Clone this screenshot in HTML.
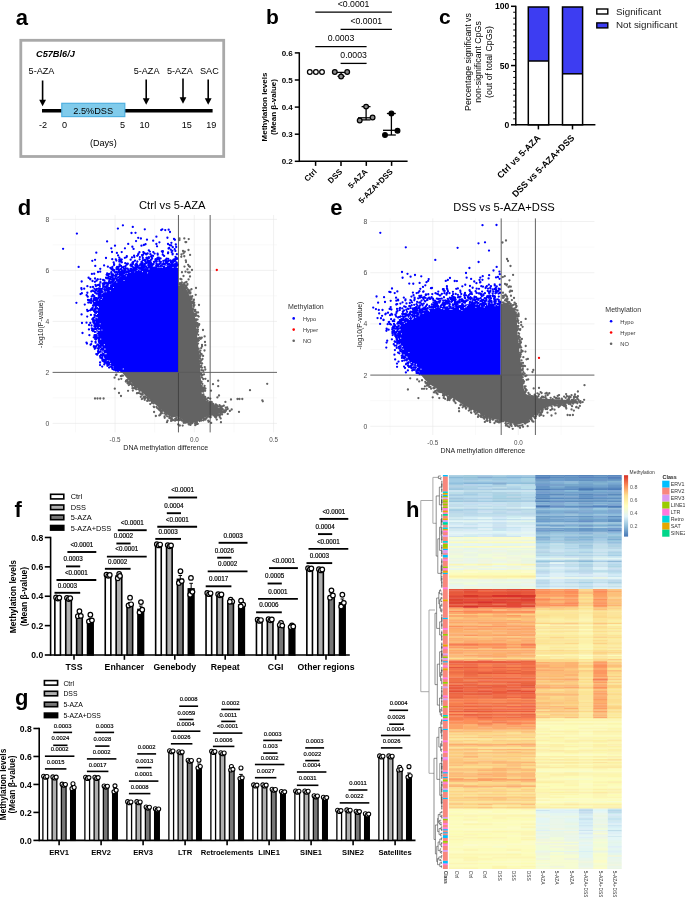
<!DOCTYPE html>
<html><head><meta charset="utf-8"><style>
html,body{margin:0;padding:0;background:#fff;}
body{width:685px;height:897px;overflow:hidden;}
svg{display:block;font-family:"Liberation Sans",sans-serif;will-change:transform;}
</style></head><body>
<svg width="685" height="897" viewBox="0 0 685 897">
<text x="15.8" y="24.5" font-size="22" font-weight="bold">a</text>
<rect x="20.8" y="40.3" width="202.9" height="116.2" fill="none" stroke="#a9a9a9" stroke-width="2.8"/>
<text x="36" y="57.2" font-size="9.2" font-weight="bold" font-style="italic">C57Bl6/J</text>
<text x="28.6" y="74.3" font-size="9.1">5-AZA</text>
<text x="133.7" y="74.3" font-size="9.1">5-AZA</text>
<text x="167" y="74.3" font-size="9.1">5-AZA</text>
<text x="200" y="74.3" font-size="9.1">SAC</text>
<line x1="42.6" y1="80.5" x2="42.6" y2="100.8" stroke="#000" stroke-width="1.6"/>
<path d="M39.2 99.8L46 99.8L42.6 106.3Z" fill="#000"/>
<line x1="146.2" y1="79.6" x2="146.2" y2="99.2" stroke="#000" stroke-width="1.6"/>
<path d="M142.8 98.2L149.6 98.2L146.2 104.7Z" fill="#000"/>
<line x1="183" y1="78.6" x2="183" y2="98.3" stroke="#000" stroke-width="1.6"/>
<path d="M179.6 97.3L186.4 97.3L183 103.8Z" fill="#000"/>
<line x1="208.2" y1="79.6" x2="208.2" y2="99.2" stroke="#000" stroke-width="1.6"/>
<path d="M204.8 98.2L211.6 98.2L208.2 104.7Z" fill="#000"/>
<line x1="42" y1="110.8" x2="212.6" y2="110.8" stroke="#000" stroke-width="3.6"/>
<rect x="61.8" y="103.3" width="63" height="13.3" fill="#80cbeb" stroke="#4fb0e0" stroke-width="1.2"/>
<text x="93.2" y="113.5" font-size="9.2" text-anchor="middle">2.5%DSS</text>
<text x="43" y="128.2" font-size="9.1" text-anchor="middle">-2</text>
<text x="64.5" y="128.2" font-size="9.1" text-anchor="middle">0</text>
<text x="122.5" y="128.2" font-size="9.1" text-anchor="middle">5</text>
<text x="144.5" y="128.2" font-size="9.1" text-anchor="middle">10</text>
<text x="186.8" y="128.2" font-size="9.1" text-anchor="middle">15</text>
<text x="211.3" y="128.2" font-size="9.1" text-anchor="middle">19</text>
<text x="103.3" y="146" font-size="9.1" text-anchor="middle">(Days)</text>
<text x="266" y="24.1" font-size="21" font-weight="bold">b</text>
<line x1="299.3" y1="52.3" x2="299.3" y2="162.05" stroke="#000" stroke-width="1.5"/>
<line x1="299.3" y1="161.3" x2="407.6" y2="161.3" stroke="#000" stroke-width="1.5"/>
<line x1="294.8" y1="161.3" x2="299.3" y2="161.3" stroke="#000" stroke-width="1.5"/>
<text x="292.8" y="164.2" font-size="8" font-weight="bold" text-anchor="end">0.2</text>
<line x1="294.8" y1="134.2" x2="299.3" y2="134.2" stroke="#000" stroke-width="1.5"/>
<text x="292.8" y="137.1" font-size="8" font-weight="bold" text-anchor="end">0.3</text>
<line x1="294.8" y1="107.1" x2="299.3" y2="107.1" stroke="#000" stroke-width="1.5"/>
<text x="292.8" y="110" font-size="8" font-weight="bold" text-anchor="end">0.4</text>
<line x1="294.8" y1="80" x2="299.3" y2="80" stroke="#000" stroke-width="1.5"/>
<text x="292.8" y="82.9" font-size="8" font-weight="bold" text-anchor="end">0.5</text>
<line x1="294.8" y1="52.9" x2="299.3" y2="52.9" stroke="#000" stroke-width="1.5"/>
<text x="292.8" y="55.8" font-size="8" font-weight="bold" text-anchor="end">0.6</text>
<line x1="315.6" y1="161.3" x2="315.6" y2="165.9" stroke="#000" stroke-width="1.5"/>
<line x1="341" y1="161.3" x2="341" y2="165.9" stroke="#000" stroke-width="1.5"/>
<line x1="366.3" y1="161.3" x2="366.3" y2="165.9" stroke="#000" stroke-width="1.5"/>
<line x1="391.6" y1="161.3" x2="391.6" y2="165.9" stroke="#000" stroke-width="1.5"/>
<text x="267" y="107" font-size="8" font-weight="bold" text-anchor="middle" transform="rotate(-90 267 107)">Methylation levels</text>
<text x="276" y="107" font-size="8" font-weight="bold" text-anchor="middle" transform="rotate(-90 276 107)">(Mean β-value)</text>
<text x="317.3" y="172.3" font-size="8" font-weight="bold" text-anchor="end" transform="rotate(-45 317.3 172.3)">Ctrl</text>
<text x="342.7" y="172.3" font-size="8" font-weight="bold" text-anchor="end" transform="rotate(-45 342.7 172.3)">DSS</text>
<text x="368" y="172.3" font-size="8" font-weight="bold" text-anchor="end" transform="rotate(-45 368 172.3)">5-AZA</text>
<text x="393.3" y="172.3" font-size="8" font-weight="bold" text-anchor="end" transform="rotate(-45 393.3 172.3)">5-AZA+DSS</text>
<line x1="315.3" y1="12.2" x2="391.9" y2="12.2" stroke="#000" stroke-width="1.3"/>
<text x="353.6" y="6.6" font-size="8.7" text-anchor="middle"><0.0001</text>
<line x1="340.6" y1="29.3" x2="391.9" y2="29.3" stroke="#000" stroke-width="1.3"/>
<text x="366.25" y="23.7" font-size="8.7" text-anchor="middle"><0.0001</text>
<line x1="315.3" y1="46.6" x2="366.6" y2="46.6" stroke="#000" stroke-width="1.3"/>
<text x="340.95" y="41" font-size="8.7" text-anchor="middle">0.0003</text>
<line x1="340.6" y1="63.4" x2="366.6" y2="63.4" stroke="#000" stroke-width="1.3"/>
<text x="353.6" y="57.8" font-size="8.7" text-anchor="middle">0.0003</text>
<circle cx="309.8" cy="72" r="2.35" fill="#fff" stroke="#000" stroke-width="1.25"/>
<circle cx="315.9" cy="72" r="2.35" fill="#fff" stroke="#000" stroke-width="1.25"/>
<circle cx="322" cy="72" r="2.35" fill="#fff" stroke="#000" stroke-width="1.25"/>
<line x1="336.5" y1="72.4" x2="345.6" y2="72.4" stroke="#000" stroke-width="1.3"/>
<line x1="341.1" y1="72" x2="341.1" y2="76.4" stroke="#000" stroke-width="1.3"/>
<line x1="337.5" y1="76.3" x2="344.7" y2="76.3" stroke="#000" stroke-width="1.3"/>
<circle cx="334.8" cy="72" r="2.35" fill="#8c8c8c" stroke="#000" stroke-width="1.25"/>
<circle cx="347.2" cy="72" r="2.35" fill="#8c8c8c" stroke="#000" stroke-width="1.25"/>
<circle cx="341.1" cy="76.4" r="2.35" fill="#8c8c8c" stroke="#000" stroke-width="1.25"/>
<line x1="366.1" y1="106.6" x2="366.1" y2="119.9" stroke="#000" stroke-width="1.3"/>
<line x1="361.6" y1="106.6" x2="370.5" y2="106.6" stroke="#000" stroke-width="1.3"/>
<line x1="358" y1="117.8" x2="372" y2="117.8" stroke="#000" stroke-width="1.3"/>
<line x1="361.6" y1="119.9" x2="370.5" y2="119.9" stroke="#000" stroke-width="1.3"/>
<circle cx="359.7" cy="120.5" r="2.35" fill="#8c8c8c" stroke="#000" stroke-width="1.25"/>
<circle cx="366.1" cy="106.6" r="2.35" fill="#8c8c8c" stroke="#000" stroke-width="1.25"/>
<circle cx="372.6" cy="117.5" r="2.35" fill="#8c8c8c" stroke="#000" stroke-width="1.25"/>
<line x1="391.4" y1="113.5" x2="391.4" y2="135" stroke="#000" stroke-width="1.3"/>
<line x1="386.9" y1="113.5" x2="395.8" y2="113.5" stroke="#000" stroke-width="1.3"/>
<line x1="383" y1="130.3" x2="396" y2="130.3" stroke="#000" stroke-width="1.3"/>
<line x1="387.3" y1="135" x2="395.8" y2="135" stroke="#000" stroke-width="1.3"/>
<circle cx="385" cy="135" r="2.35" fill="#000" stroke="#000" stroke-width="1.25"/>
<circle cx="391.4" cy="113.5" r="2.35" fill="#000" stroke="#000" stroke-width="1.25"/>
<circle cx="397.5" cy="130.7" r="2.35" fill="#000" stroke="#000" stroke-width="1.25"/>
<text x="439" y="24.4" font-size="21" font-weight="bold">c</text>
<line x1="515.8" y1="5.8" x2="515.8" y2="125.5" stroke="#000" stroke-width="1.5"/>
<line x1="515.8" y1="124.8" x2="595.4" y2="124.8" stroke="#000" stroke-width="1.5"/>
<line x1="511" y1="124.8" x2="515.8" y2="124.8" stroke="#000" stroke-width="1.5"/>
<line x1="513.2" y1="118.88" x2="515.8" y2="118.88" stroke="#000" stroke-width="1"/>
<line x1="513.2" y1="112.95" x2="515.8" y2="112.95" stroke="#000" stroke-width="1"/>
<line x1="513.2" y1="107.03" x2="515.8" y2="107.03" stroke="#000" stroke-width="1"/>
<line x1="513.2" y1="101.1" x2="515.8" y2="101.1" stroke="#000" stroke-width="1"/>
<line x1="513.2" y1="95.17" x2="515.8" y2="95.17" stroke="#000" stroke-width="1"/>
<line x1="513.2" y1="89.25" x2="515.8" y2="89.25" stroke="#000" stroke-width="1"/>
<line x1="513.2" y1="83.32" x2="515.8" y2="83.32" stroke="#000" stroke-width="1"/>
<line x1="513.2" y1="77.4" x2="515.8" y2="77.4" stroke="#000" stroke-width="1"/>
<line x1="513.2" y1="71.47" x2="515.8" y2="71.47" stroke="#000" stroke-width="1"/>
<line x1="511" y1="65.55" x2="515.8" y2="65.55" stroke="#000" stroke-width="1.5"/>
<line x1="513.2" y1="59.62" x2="515.8" y2="59.62" stroke="#000" stroke-width="1"/>
<line x1="513.2" y1="53.7" x2="515.8" y2="53.7" stroke="#000" stroke-width="1"/>
<line x1="513.2" y1="47.77" x2="515.8" y2="47.77" stroke="#000" stroke-width="1"/>
<line x1="513.2" y1="41.85" x2="515.8" y2="41.85" stroke="#000" stroke-width="1"/>
<line x1="513.2" y1="35.92" x2="515.8" y2="35.92" stroke="#000" stroke-width="1"/>
<line x1="513.2" y1="30" x2="515.8" y2="30" stroke="#000" stroke-width="1"/>
<line x1="513.2" y1="24.08" x2="515.8" y2="24.08" stroke="#000" stroke-width="1"/>
<line x1="513.2" y1="18.15" x2="515.8" y2="18.15" stroke="#000" stroke-width="1"/>
<line x1="513.2" y1="12.22" x2="515.8" y2="12.22" stroke="#000" stroke-width="1"/>
<line x1="511" y1="6.3" x2="515.8" y2="6.3" stroke="#000" stroke-width="1.5"/>
<text x="509.3" y="9.3" font-size="8.6" font-weight="bold" text-anchor="end">100</text>
<text x="509.3" y="68.55" font-size="8.6" font-weight="bold" text-anchor="end">50</text>
<text x="509.3" y="127.8" font-size="8.6" font-weight="bold" text-anchor="end">0</text>
<text x="470.8" y="62" font-size="8.8" text-anchor="middle" transform="rotate(-90 470.8 62)">Percentage significant vs</text>
<text x="481.4" y="62" font-size="8.8" text-anchor="middle" transform="rotate(-90 481.4 62)">non-significant CpGs</text>
<text x="492" y="62" font-size="8.8" text-anchor="middle" transform="rotate(-90 492 62)">(out of total CpGs)</text>
<rect x="528.3" y="7" width="20.4" height="54" fill="#3d3df2"/>
<rect x="528.3" y="61" width="20.4" height="63.8" fill="#fff"/>
<rect x="528.3" y="7" width="20.4" height="117.8" fill="none" stroke="#000" stroke-width="1.5"/>
<line x1="528.3" y1="61" x2="548.7" y2="61" stroke="#000" stroke-width="1.5"/>
<rect x="562.5" y="7" width="20.1" height="66.8" fill="#3d3df2"/>
<rect x="562.5" y="73.8" width="20.1" height="51" fill="#fff"/>
<rect x="562.5" y="7" width="20.1" height="117.8" fill="none" stroke="#000" stroke-width="1.5"/>
<line x1="562.5" y1="73.8" x2="582.6" y2="73.8" stroke="#000" stroke-width="1.5"/>
<line x1="538.4" y1="124.8" x2="538.4" y2="129.4" stroke="#000" stroke-width="1.5"/>
<line x1="572.5" y1="124.8" x2="572.5" y2="129.4" stroke="#000" stroke-width="1.5"/>
<text x="541" y="138.6" font-size="9" font-weight="bold" text-anchor="end" transform="rotate(-45 541 138.6)">Ctrl vs 5-AZA</text>
<text x="574.9" y="138.6" font-size="9" font-weight="bold" text-anchor="end" transform="rotate(-45 574.9 138.6)">DSS vs 5-AZA+DSS</text>
<rect x="596.8" y="9" width="11" height="5" fill="#fff" stroke="#000" stroke-width="1.4"/>
<rect x="596.8" y="22.9" width="11" height="5" fill="#3d3df2" stroke="#000" stroke-width="1.4"/>
<text x="616" y="14.7" font-size="9.8" fill="#222">Significant</text>
<text x="616" y="28.3" font-size="9.8" fill="#222">Not significant</text>
<text x="14.6" y="516.6" font-size="22" font-weight="bold">f</text>
<rect x="50.6" y="494.3" width="13.2" height="4.6" fill="#ffffff" stroke="#000" stroke-width="1.6"/>
<text x="70.7" y="499.3" font-size="7.4">Ctrl</text>
<rect x="50.6" y="505" width="13.2" height="4.6" fill="#afafaf" stroke="#000" stroke-width="1.6"/>
<text x="70.7" y="510" font-size="7.4">DSS</text>
<rect x="50.6" y="515.1" width="13.2" height="4.6" fill="#767676" stroke="#000" stroke-width="1.6"/>
<text x="70.7" y="520.1" font-size="7.4">5-AZA</text>
<rect x="50.6" y="525.5" width="13.2" height="4.6" fill="#000000" stroke="#000" stroke-width="1.6"/>
<text x="70.7" y="530.5" font-size="7.4">5-AZA+DSS</text>
<line x1="50.6" y1="536.78" x2="50.6" y2="655.8" stroke="#000" stroke-width="1.6"/>
<line x1="50.6" y1="655" x2="349.8" y2="655" stroke="#000" stroke-width="1.6"/>
<line x1="44.8" y1="655" x2="50.6" y2="655" stroke="#000" stroke-width="1.6"/>
<text x="43.2" y="658.1" font-size="8.6" font-weight="bold" text-anchor="end">0.0</text>
<line x1="44.8" y1="625.62" x2="50.6" y2="625.62" stroke="#000" stroke-width="1.6"/>
<text x="43.2" y="628.72" font-size="8.6" font-weight="bold" text-anchor="end">0.2</text>
<line x1="44.8" y1="596.24" x2="50.6" y2="596.24" stroke="#000" stroke-width="1.6"/>
<text x="43.2" y="599.34" font-size="8.6" font-weight="bold" text-anchor="end">0.4</text>
<line x1="44.8" y1="566.86" x2="50.6" y2="566.86" stroke="#000" stroke-width="1.6"/>
<text x="43.2" y="569.96" font-size="8.6" font-weight="bold" text-anchor="end">0.6</text>
<line x1="44.8" y1="537.48" x2="50.6" y2="537.48" stroke="#000" stroke-width="1.6"/>
<text x="43.2" y="540.58" font-size="8.6" font-weight="bold" text-anchor="end">0.8</text>
<text x="16" y="596.6" font-size="8.5" font-weight="bold" text-anchor="middle" transform="rotate(-90 16 596.6)">Methylation levels</text>
<text x="26.7" y="596.6" font-size="8.5" font-weight="bold" text-anchor="middle" transform="rotate(-90 26.7 596.6)">(Mean β-value)</text>
<line x1="74" y1="655" x2="74" y2="659.8" stroke="#000" stroke-width="1.6"/>
<text x="74" y="670.3" font-size="8.7" font-weight="bold" text-anchor="middle">TSS</text>
<rect x="54.85" y="598" width="5.6" height="57" fill="#ffffff" stroke="#000" stroke-width="1.6"/>
<rect x="65.75" y="598.44" width="5.6" height="56.56" fill="#afafaf" stroke="#000" stroke-width="1.6"/>
<rect x="76.65" y="616.51" width="5.6" height="38.49" fill="#767676" stroke="#000" stroke-width="1.6"/>
<rect x="87.55" y="620.63" width="5.6" height="34.37" fill="#000000" stroke="#000" stroke-width="1.6"/>
<circle cx="56.05" cy="597.42" r="2.3" fill="#fff" stroke="#000" stroke-width="1.2"/>
<circle cx="57.85" cy="598.59" r="2.3" fill="#fff" stroke="#000" stroke-width="1.2"/>
<circle cx="59.35" cy="597.71" r="2.3" fill="#fff" stroke="#000" stroke-width="1.2"/>
<circle cx="66.95" cy="597.86" r="2.3" fill="#fff" stroke="#000" stroke-width="1.2"/>
<circle cx="68.75" cy="599.03" r="2.3" fill="#fff" stroke="#000" stroke-width="1.2"/>
<circle cx="70.25" cy="598.15" r="2.3" fill="#fff" stroke="#000" stroke-width="1.2"/>
<line x1="79.45" y1="616.51" x2="79.45" y2="614.86" stroke="#000" stroke-width="1"/>
<line x1="77.65" y1="614.86" x2="81.25" y2="614.86" stroke="#000" stroke-width="1"/>
<circle cx="79.45" cy="611.22" r="2.3" fill="#fff" stroke="#000" stroke-width="1.2"/>
<circle cx="77.85" cy="616.22" r="2.3" fill="#fff" stroke="#000" stroke-width="1.2"/>
<circle cx="80.85" cy="615.92" r="2.3" fill="#fff" stroke="#000" stroke-width="1.2"/>
<line x1="90.35" y1="620.63" x2="90.35" y2="618.4" stroke="#000" stroke-width="1"/>
<line x1="88.55" y1="618.4" x2="92.15" y2="618.4" stroke="#000" stroke-width="1"/>
<circle cx="90.35" cy="614.75" r="2.3" fill="#fff" stroke="#000" stroke-width="1.2"/>
<circle cx="88.95" cy="621.51" r="2.3" fill="#fff" stroke="#000" stroke-width="1.2"/>
<circle cx="91.95" cy="620.33" r="2.3" fill="#fff" stroke="#000" stroke-width="1.2"/>
<line x1="54.5" y1="592.8" x2="80.2" y2="592.8" stroke="#000" stroke-width="1.9"/>
<text x="67.35" y="587.6" font-size="6.3" text-anchor="middle" stroke="#000" stroke-width="0.18">0.0003</text>
<line x1="56.5" y1="580" x2="96.3" y2="580" stroke="#000" stroke-width="1.9"/>
<text x="76.4" y="574.8" font-size="6.3" text-anchor="middle" stroke="#000" stroke-width="0.18">&lt;0.0001</text>
<line x1="66" y1="566.4" x2="80.2" y2="566.4" stroke="#000" stroke-width="1.9"/>
<text x="73.1" y="561.2" font-size="6.3" text-anchor="middle" stroke="#000" stroke-width="0.18">0.0003</text>
<line x1="67.4" y1="552" x2="96.3" y2="552" stroke="#000" stroke-width="1.9"/>
<text x="81.85" y="546.8" font-size="6.3" text-anchor="middle" stroke="#000" stroke-width="0.18">&lt;0.0001</text>
<line x1="124.4" y1="655" x2="124.4" y2="659.8" stroke="#000" stroke-width="1.6"/>
<text x="124.4" y="670.3" font-size="8.7" font-weight="bold" text-anchor="middle">Enhancer</text>
<rect x="105.25" y="575.23" width="5.6" height="79.77" fill="#ffffff" stroke="#000" stroke-width="1.6"/>
<rect x="116.15" y="575.97" width="5.6" height="79.03" fill="#afafaf" stroke="#000" stroke-width="1.6"/>
<rect x="127.05" y="605.05" width="5.6" height="49.95" fill="#767676" stroke="#000" stroke-width="1.6"/>
<rect x="137.95" y="609.46" width="5.6" height="45.54" fill="#000000" stroke="#000" stroke-width="1.6"/>
<circle cx="106.45" cy="574.65" r="2.3" fill="#fff" stroke="#000" stroke-width="1.2"/>
<circle cx="108.25" cy="575.82" r="2.3" fill="#fff" stroke="#000" stroke-width="1.2"/>
<circle cx="109.75" cy="574.94" r="2.3" fill="#fff" stroke="#000" stroke-width="1.2"/>
<line x1="118.95" y1="575.97" x2="118.95" y2="574.51" stroke="#000" stroke-width="1"/>
<line x1="117.15" y1="574.51" x2="120.75" y2="574.51" stroke="#000" stroke-width="1"/>
<circle cx="119.15" cy="573.91" r="2.3" fill="#fff" stroke="#000" stroke-width="1.2"/>
<circle cx="117.75" cy="578.32" r="2.3" fill="#fff" stroke="#000" stroke-width="1.2"/>
<circle cx="119.95" cy="575.97" r="2.3" fill="#fff" stroke="#000" stroke-width="1.2"/>
<line x1="129.85" y1="605.05" x2="129.85" y2="602.48" stroke="#000" stroke-width="1"/>
<line x1="128.05" y1="602.48" x2="131.65" y2="602.48" stroke="#000" stroke-width="1"/>
<circle cx="130.05" cy="597.71" r="2.3" fill="#fff" stroke="#000" stroke-width="1.2"/>
<circle cx="128.55" cy="605.49" r="2.3" fill="#fff" stroke="#000" stroke-width="1.2"/>
<circle cx="131.15" cy="604.32" r="2.3" fill="#fff" stroke="#000" stroke-width="1.2"/>
<line x1="140.75" y1="609.46" x2="140.75" y2="606.07" stroke="#000" stroke-width="1"/>
<line x1="138.95" y1="606.07" x2="142.55" y2="606.07" stroke="#000" stroke-width="1"/>
<circle cx="140.95" cy="602.12" r="2.3" fill="#fff" stroke="#000" stroke-width="1.2"/>
<circle cx="139.55" cy="612.4" r="2.3" fill="#fff" stroke="#000" stroke-width="1.2"/>
<circle cx="142.25" cy="609.75" r="2.3" fill="#fff" stroke="#000" stroke-width="1.2"/>
<line x1="104.9" y1="568.8" x2="130.6" y2="568.8" stroke="#000" stroke-width="1.9"/>
<text x="117.75" y="563.6" font-size="6.3" text-anchor="middle" stroke="#000" stroke-width="0.18">0.0002</text>
<line x1="106.9" y1="556.6" x2="146.7" y2="556.6" stroke="#000" stroke-width="1.9"/>
<text x="126.8" y="551.4" font-size="6.3" text-anchor="middle" stroke="#000" stroke-width="0.18">&lt;0.0001</text>
<line x1="116.4" y1="543.5" x2="130.6" y2="543.5" stroke="#000" stroke-width="1.9"/>
<text x="123.5" y="538.3" font-size="6.3" text-anchor="middle" stroke="#000" stroke-width="0.18">0.0002</text>
<line x1="117.8" y1="530.2" x2="146.7" y2="530.2" stroke="#000" stroke-width="1.9"/>
<text x="132.25" y="525" font-size="6.3" text-anchor="middle" stroke="#000" stroke-width="0.18">&lt;0.0001</text>
<line x1="174.8" y1="655" x2="174.8" y2="659.8" stroke="#000" stroke-width="1.6"/>
<text x="174.8" y="670.3" font-size="8.7" font-weight="bold" text-anchor="middle">Genebody</text>
<rect x="155.65" y="544.83" width="5.6" height="110.17" fill="#ffffff" stroke="#000" stroke-width="1.6"/>
<rect x="166.55" y="545.71" width="5.6" height="109.29" fill="#afafaf" stroke="#000" stroke-width="1.6"/>
<rect x="177.45" y="579.35" width="5.6" height="75.65" fill="#767676" stroke="#000" stroke-width="1.6"/>
<rect x="188.35" y="588.89" width="5.6" height="66.11" fill="#000000" stroke="#000" stroke-width="1.6"/>
<circle cx="156.85" cy="544.24" r="2.3" fill="#fff" stroke="#000" stroke-width="1.2"/>
<circle cx="158.65" cy="545.41" r="2.3" fill="#fff" stroke="#000" stroke-width="1.2"/>
<circle cx="160.15" cy="544.53" r="2.3" fill="#fff" stroke="#000" stroke-width="1.2"/>
<circle cx="167.75" cy="545.12" r="2.3" fill="#fff" stroke="#000" stroke-width="1.2"/>
<circle cx="169.55" cy="546.29" r="2.3" fill="#fff" stroke="#000" stroke-width="1.2"/>
<circle cx="171.05" cy="545.41" r="2.3" fill="#fff" stroke="#000" stroke-width="1.2"/>
<line x1="180.25" y1="579.35" x2="180.25" y2="575.47" stroke="#000" stroke-width="1"/>
<line x1="178.45" y1="575.47" x2="182.05" y2="575.47" stroke="#000" stroke-width="1"/>
<circle cx="180.45" cy="571.27" r="2.3" fill="#fff" stroke="#000" stroke-width="1.2"/>
<circle cx="178.85" cy="583.02" r="2.3" fill="#fff" stroke="#000" stroke-width="1.2"/>
<circle cx="181.75" cy="581.11" r="2.3" fill="#fff" stroke="#000" stroke-width="1.2"/>
<line x1="191.15" y1="588.89" x2="191.15" y2="583.32" stroke="#000" stroke-width="1"/>
<line x1="189.35" y1="583.32" x2="192.95" y2="583.32" stroke="#000" stroke-width="1"/>
<circle cx="190.95" cy="577.88" r="2.3" fill="#fff" stroke="#000" stroke-width="1.2"/>
<circle cx="190.15" cy="594.77" r="2.3" fill="#fff" stroke="#000" stroke-width="1.2"/>
<circle cx="192.45" cy="591.83" r="2.3" fill="#fff" stroke="#000" stroke-width="1.2"/>
<line x1="155.3" y1="538.9" x2="181" y2="538.9" stroke="#000" stroke-width="1.9"/>
<text x="168.15" y="533.7" font-size="6.3" text-anchor="middle" stroke="#000" stroke-width="0.18">0.0003</text>
<line x1="157.3" y1="526.7" x2="197.1" y2="526.7" stroke="#000" stroke-width="1.9"/>
<text x="177.2" y="521.5" font-size="6.3" text-anchor="middle" stroke="#000" stroke-width="0.18">&lt;0.0001</text>
<line x1="166.8" y1="513.2" x2="181" y2="513.2" stroke="#000" stroke-width="1.9"/>
<text x="173.9" y="508" font-size="6.3" text-anchor="middle" stroke="#000" stroke-width="0.18">0.0004</text>
<line x1="168.2" y1="497.5" x2="197.1" y2="497.5" stroke="#000" stroke-width="1.9"/>
<text x="182.65" y="492.3" font-size="6.3" text-anchor="middle" stroke="#000" stroke-width="0.18">&lt;0.0001</text>
<line x1="225.2" y1="655" x2="225.2" y2="659.8" stroke="#000" stroke-width="1.6"/>
<text x="225.2" y="670.3" font-size="8.7" font-weight="bold" text-anchor="middle">Repeat</text>
<rect x="206.05" y="593.6" width="5.6" height="61.4" fill="#ffffff" stroke="#000" stroke-width="1.6"/>
<rect x="216.95" y="594.77" width="5.6" height="60.23" fill="#afafaf" stroke="#000" stroke-width="1.6"/>
<rect x="227.85" y="601.09" width="5.6" height="53.91" fill="#767676" stroke="#000" stroke-width="1.6"/>
<rect x="238.75" y="605.05" width="5.6" height="49.95" fill="#000000" stroke="#000" stroke-width="1.6"/>
<circle cx="207.25" cy="593.01" r="2.3" fill="#fff" stroke="#000" stroke-width="1.2"/>
<circle cx="209.05" cy="594.18" r="2.3" fill="#fff" stroke="#000" stroke-width="1.2"/>
<circle cx="210.55" cy="593.3" r="2.3" fill="#fff" stroke="#000" stroke-width="1.2"/>
<circle cx="218.15" cy="594.18" r="2.3" fill="#fff" stroke="#000" stroke-width="1.2"/>
<circle cx="219.95" cy="595.36" r="2.3" fill="#fff" stroke="#000" stroke-width="1.2"/>
<circle cx="221.45" cy="594.48" r="2.3" fill="#fff" stroke="#000" stroke-width="1.2"/>
<circle cx="230.65" cy="599.62" r="2.3" fill="#fff" stroke="#000" stroke-width="1.2"/>
<circle cx="232.25" cy="601.53" r="2.3" fill="#fff" stroke="#000" stroke-width="1.2"/>
<circle cx="229.85" cy="601.82" r="2.3" fill="#fff" stroke="#000" stroke-width="1.2"/>
<line x1="241.55" y1="605.05" x2="241.55" y2="603.11" stroke="#000" stroke-width="1"/>
<line x1="239.75" y1="603.11" x2="243.35" y2="603.11" stroke="#000" stroke-width="1"/>
<circle cx="241.05" cy="600.65" r="2.3" fill="#fff" stroke="#000" stroke-width="1.2"/>
<circle cx="243.15" cy="604.76" r="2.3" fill="#fff" stroke="#000" stroke-width="1.2"/>
<circle cx="240.75" cy="606.52" r="2.3" fill="#fff" stroke="#000" stroke-width="1.2"/>
<line x1="205.7" y1="586.3" x2="231.4" y2="586.3" stroke="#000" stroke-width="1.9"/>
<text x="218.55" y="581.1" font-size="6.3" text-anchor="middle" stroke="#000" stroke-width="0.18">0.0017</text>
<line x1="207.7" y1="571.4" x2="247.5" y2="571.4" stroke="#000" stroke-width="1.9"/>
<text x="227.6" y="566.2" font-size="6.3" text-anchor="middle" stroke="#000" stroke-width="0.18">0.0002</text>
<line x1="217.2" y1="557.7" x2="231.4" y2="557.7" stroke="#000" stroke-width="1.9"/>
<text x="224.3" y="552.5" font-size="6.3" text-anchor="middle" stroke="#000" stroke-width="0.18">0.0026</text>
<line x1="218.6" y1="542.8" x2="247.5" y2="542.8" stroke="#000" stroke-width="1.9"/>
<text x="233.05" y="537.6" font-size="6.3" text-anchor="middle" stroke="#000" stroke-width="0.18">0.0003</text>
<line x1="275.6" y1="655" x2="275.6" y2="659.8" stroke="#000" stroke-width="1.6"/>
<text x="275.6" y="670.3" font-size="8.7" font-weight="bold" text-anchor="middle">CGI</text>
<rect x="256.45" y="620.33" width="5.6" height="34.67" fill="#ffffff" stroke="#000" stroke-width="1.6"/>
<rect x="267.35" y="619.74" width="5.6" height="35.26" fill="#afafaf" stroke="#000" stroke-width="1.6"/>
<rect x="278.25" y="625.62" width="5.6" height="29.38" fill="#767676" stroke="#000" stroke-width="1.6"/>
<rect x="289.15" y="627.09" width="5.6" height="27.91" fill="#000000" stroke="#000" stroke-width="1.6"/>
<circle cx="257.65" cy="619.74" r="2.3" fill="#fff" stroke="#000" stroke-width="1.2"/>
<circle cx="259.45" cy="620.92" r="2.3" fill="#fff" stroke="#000" stroke-width="1.2"/>
<circle cx="260.95" cy="620.04" r="2.3" fill="#fff" stroke="#000" stroke-width="1.2"/>
<circle cx="268.55" cy="619.16" r="2.3" fill="#fff" stroke="#000" stroke-width="1.2"/>
<circle cx="270.35" cy="620.33" r="2.3" fill="#fff" stroke="#000" stroke-width="1.2"/>
<circle cx="271.85" cy="619.45" r="2.3" fill="#fff" stroke="#000" stroke-width="1.2"/>
<circle cx="281.05" cy="622.98" r="2.3" fill="#fff" stroke="#000" stroke-width="1.2"/>
<circle cx="279.75" cy="625.03" r="2.3" fill="#fff" stroke="#000" stroke-width="1.2"/>
<circle cx="282.25" cy="625.62" r="2.3" fill="#fff" stroke="#000" stroke-width="1.2"/>
<circle cx="291.95" cy="625.33" r="2.3" fill="#fff" stroke="#000" stroke-width="1.2"/>
<circle cx="290.65" cy="627.09" r="2.3" fill="#fff" stroke="#000" stroke-width="1.2"/>
<circle cx="293.25" cy="626.5" r="2.3" fill="#fff" stroke="#000" stroke-width="1.2"/>
<line x1="256.1" y1="612.3" x2="281.8" y2="612.3" stroke="#000" stroke-width="1.9"/>
<text x="268.95" y="607.1" font-size="6.3" text-anchor="middle" stroke="#000" stroke-width="0.18">0.0006</text>
<line x1="258.1" y1="598.9" x2="297.9" y2="598.9" stroke="#000" stroke-width="1.9"/>
<text x="278" y="593.7" font-size="6.3" text-anchor="middle" stroke="#000" stroke-width="0.18">0.0001</text>
<line x1="267.6" y1="583.5" x2="281.8" y2="583.5" stroke="#000" stroke-width="1.9"/>
<text x="274.7" y="578.3" font-size="6.3" text-anchor="middle" stroke="#000" stroke-width="0.18">0.0005</text>
<line x1="269" y1="568.1" x2="297.9" y2="568.1" stroke="#000" stroke-width="1.9"/>
<text x="283.45" y="562.9" font-size="6.3" text-anchor="middle" stroke="#000" stroke-width="0.18">&lt;0.0001</text>
<line x1="326" y1="655" x2="326" y2="659.8" stroke="#000" stroke-width="1.6"/>
<text x="326" y="670.3" font-size="8.7" font-weight="bold" text-anchor="middle">Other regions</text>
<rect x="306.85" y="568.77" width="5.6" height="86.23" fill="#ffffff" stroke="#000" stroke-width="1.6"/>
<rect x="317.75" y="569.8" width="5.6" height="85.2" fill="#afafaf" stroke="#000" stroke-width="1.6"/>
<rect x="328.65" y="596.24" width="5.6" height="58.76" fill="#767676" stroke="#000" stroke-width="1.6"/>
<rect x="339.55" y="602.85" width="5.6" height="52.15" fill="#000000" stroke="#000" stroke-width="1.6"/>
<circle cx="308.05" cy="568.18" r="2.3" fill="#fff" stroke="#000" stroke-width="1.2"/>
<circle cx="309.85" cy="569.36" r="2.3" fill="#fff" stroke="#000" stroke-width="1.2"/>
<circle cx="311.35" cy="568.48" r="2.3" fill="#fff" stroke="#000" stroke-width="1.2"/>
<circle cx="318.95" cy="569.21" r="2.3" fill="#fff" stroke="#000" stroke-width="1.2"/>
<circle cx="320.75" cy="570.39" r="2.3" fill="#fff" stroke="#000" stroke-width="1.2"/>
<circle cx="322.25" cy="569.5" r="2.3" fill="#fff" stroke="#000" stroke-width="1.2"/>
<line x1="331.45" y1="596.24" x2="331.45" y2="593.82" stroke="#000" stroke-width="1"/>
<line x1="329.65" y1="593.82" x2="333.25" y2="593.82" stroke="#000" stroke-width="1"/>
<circle cx="331.45" cy="590.36" r="2.3" fill="#fff" stroke="#000" stroke-width="1.2"/>
<circle cx="330.05" cy="597.71" r="2.3" fill="#fff" stroke="#000" stroke-width="1.2"/>
<circle cx="332.95" cy="595.51" r="2.3" fill="#fff" stroke="#000" stroke-width="1.2"/>
<line x1="342.35" y1="602.85" x2="342.35" y2="598.97" stroke="#000" stroke-width="1"/>
<line x1="340.55" y1="598.97" x2="344.15" y2="598.97" stroke="#000" stroke-width="1"/>
<circle cx="342.35" cy="594.77" r="2.3" fill="#fff" stroke="#000" stroke-width="1.2"/>
<circle cx="341.15" cy="606.52" r="2.3" fill="#fff" stroke="#000" stroke-width="1.2"/>
<circle cx="343.85" cy="602.85" r="2.3" fill="#fff" stroke="#000" stroke-width="1.2"/>
<line x1="306.5" y1="563.1" x2="332.2" y2="563.1" stroke="#000" stroke-width="1.9"/>
<text x="319.35" y="557.9" font-size="6.3" text-anchor="middle" stroke="#000" stroke-width="0.18">0.0003</text>
<line x1="308.5" y1="548.9" x2="348.3" y2="548.9" stroke="#000" stroke-width="1.9"/>
<text x="328.4" y="543.7" font-size="6.3" text-anchor="middle" stroke="#000" stroke-width="0.18">&lt;0.0001</text>
<line x1="318" y1="534.1" x2="332.2" y2="534.1" stroke="#000" stroke-width="1.9"/>
<text x="325.1" y="528.9" font-size="6.3" text-anchor="middle" stroke="#000" stroke-width="0.18">0.0004</text>
<line x1="319.4" y1="518.9" x2="348.3" y2="518.9" stroke="#000" stroke-width="1.9"/>
<text x="333.85" y="513.7" font-size="6.3" text-anchor="middle" stroke="#000" stroke-width="0.18">&lt;0.0001</text>
<text x="15" y="705" font-size="22" font-weight="bold">g</text>
<rect x="44.4" y="680.6" width="13.2" height="4.5" fill="#ffffff" stroke="#000" stroke-width="1.6"/>
<text x="63.4" y="685.5" font-size="6.85">Ctrl</text>
<rect x="44.4" y="691.3" width="13.2" height="4.5" fill="#afafaf" stroke="#000" stroke-width="1.6"/>
<text x="63.4" y="696.2" font-size="6.85">DSS</text>
<rect x="44.4" y="702.2" width="13.2" height="4.5" fill="#767676" stroke="#000" stroke-width="1.6"/>
<text x="63.4" y="707.1" font-size="6.85">5-AZA</text>
<rect x="44.4" y="713.1" width="13.2" height="4.5" fill="#000000" stroke="#000" stroke-width="1.6"/>
<text x="63.4" y="718" font-size="6.85">5-AZA+DSS</text>
<line x1="39.2" y1="727.78" x2="39.2" y2="841.2" stroke="#000" stroke-width="1.6"/>
<line x1="39.2" y1="840.4" x2="415.5" y2="840.4" stroke="#000" stroke-width="1.6"/>
<line x1="33.4" y1="840.4" x2="39.2" y2="840.4" stroke="#000" stroke-width="1.6"/>
<text x="31.8" y="843.5" font-size="8.6" font-weight="bold" text-anchor="end">0.0</text>
<line x1="33.4" y1="812.42" x2="39.2" y2="812.42" stroke="#000" stroke-width="1.6"/>
<text x="31.8" y="815.52" font-size="8.6" font-weight="bold" text-anchor="end">0.2</text>
<line x1="33.4" y1="784.44" x2="39.2" y2="784.44" stroke="#000" stroke-width="1.6"/>
<text x="31.8" y="787.54" font-size="8.6" font-weight="bold" text-anchor="end">0.4</text>
<line x1="33.4" y1="756.46" x2="39.2" y2="756.46" stroke="#000" stroke-width="1.6"/>
<text x="31.8" y="759.56" font-size="8.6" font-weight="bold" text-anchor="end">0.6</text>
<line x1="33.4" y1="728.48" x2="39.2" y2="728.48" stroke="#000" stroke-width="1.6"/>
<text x="31.8" y="731.58" font-size="8.6" font-weight="bold" text-anchor="end">0.8</text>
<text x="5.8" y="784.5" font-size="8.3" font-weight="bold" text-anchor="middle" transform="rotate(-90 5.8 784.5)">Methylation levels</text>
<text x="15.4" y="784.5" font-size="8.3" font-weight="bold" text-anchor="middle" transform="rotate(-90 15.4 784.5)">(Mean β-value)</text>
<line x1="59.1" y1="840.4" x2="59.1" y2="845.2" stroke="#000" stroke-width="1.6"/>
<text x="59.1" y="855" font-size="7.6" font-weight="bold" text-anchor="middle">ERV1</text>
<rect x="42.88" y="776.75" width="4.7" height="63.65" fill="#ffffff" stroke="#000" stroke-width="1.3"/>
<rect x="52.12" y="777.44" width="4.7" height="62.96" fill="#afafaf" stroke="#000" stroke-width="1.3"/>
<rect x="61.38" y="784.72" width="4.7" height="55.68" fill="#767676" stroke="#000" stroke-width="1.3"/>
<rect x="70.62" y="787.94" width="4.7" height="52.46" fill="#000000" stroke="#000" stroke-width="1.3"/>
<circle cx="43.62" cy="776.19" r="2" fill="#fff" stroke="#000" stroke-width="1.1"/>
<circle cx="45.43" cy="777.31" r="2" fill="#fff" stroke="#000" stroke-width="1.1"/>
<circle cx="46.93" cy="776.47" r="2" fill="#fff" stroke="#000" stroke-width="1.1"/>
<circle cx="52.88" cy="776.89" r="2" fill="#fff" stroke="#000" stroke-width="1.1"/>
<circle cx="54.68" cy="778" r="2" fill="#fff" stroke="#000" stroke-width="1.1"/>
<circle cx="56.18" cy="777.17" r="2" fill="#fff" stroke="#000" stroke-width="1.1"/>
<circle cx="62.12" cy="784.16" r="2" fill="#fff" stroke="#000" stroke-width="1.1"/>
<circle cx="63.93" cy="785.28" r="2" fill="#fff" stroke="#000" stroke-width="1.1"/>
<circle cx="65.42" cy="784.44" r="2" fill="#fff" stroke="#000" stroke-width="1.1"/>
<line x1="72.97" y1="787.94" x2="72.97" y2="786.32" stroke="#000" stroke-width="1"/>
<line x1="71.17" y1="786.32" x2="74.77" y2="786.32" stroke="#000" stroke-width="1"/>
<circle cx="72.97" cy="783.74" r="2" fill="#fff" stroke="#000" stroke-width="1.1"/>
<circle cx="71.97" cy="788.64" r="2" fill="#fff" stroke="#000" stroke-width="1.1"/>
<circle cx="74.17" cy="787.52" r="2" fill="#fff" stroke="#000" stroke-width="1.1"/>
<line x1="44.9" y1="768.9" x2="66.4" y2="768.9" stroke="#000" stroke-width="1.6"/>
<text x="55.65" y="764" font-size="5.85" text-anchor="middle" stroke="#000" stroke-width="0.18">0.0015</text>
<line x1="44.9" y1="756.2" x2="74.4" y2="756.2" stroke="#000" stroke-width="1.6"/>
<text x="59.65" y="751.3" font-size="5.85" text-anchor="middle" stroke="#000" stroke-width="0.18">0.0002</text>
<line x1="53.2" y1="745.3" x2="67.5" y2="745.3" stroke="#000" stroke-width="1.6"/>
<text x="60.35" y="740.4" font-size="5.85" text-anchor="middle" stroke="#000" stroke-width="0.18">0.0024</text>
<line x1="53.2" y1="732.4" x2="72.1" y2="732.4" stroke="#000" stroke-width="1.6"/>
<text x="62.65" y="727.5" font-size="5.85" text-anchor="middle" stroke="#000" stroke-width="0.18">0.0003</text>
<line x1="101.1" y1="840.4" x2="101.1" y2="845.2" stroke="#000" stroke-width="1.6"/>
<text x="101.1" y="855" font-size="7.6" font-weight="bold" text-anchor="middle">ERV2</text>
<rect x="84.88" y="777.86" width="4.7" height="62.54" fill="#ffffff" stroke="#000" stroke-width="1.3"/>
<rect x="94.12" y="777.86" width="4.7" height="62.54" fill="#afafaf" stroke="#000" stroke-width="1.3"/>
<rect x="103.38" y="786.54" width="4.7" height="53.86" fill="#767676" stroke="#000" stroke-width="1.3"/>
<rect x="112.62" y="790.74" width="4.7" height="49.66" fill="#000000" stroke="#000" stroke-width="1.3"/>
<circle cx="85.62" cy="777.31" r="2" fill="#fff" stroke="#000" stroke-width="1.1"/>
<circle cx="87.42" cy="778.42" r="2" fill="#fff" stroke="#000" stroke-width="1.1"/>
<circle cx="88.92" cy="777.58" r="2" fill="#fff" stroke="#000" stroke-width="1.1"/>
<circle cx="94.88" cy="777.31" r="2" fill="#fff" stroke="#000" stroke-width="1.1"/>
<circle cx="96.67" cy="778.42" r="2" fill="#fff" stroke="#000" stroke-width="1.1"/>
<circle cx="98.17" cy="777.58" r="2" fill="#fff" stroke="#000" stroke-width="1.1"/>
<circle cx="104.12" cy="785.98" r="2" fill="#fff" stroke="#000" stroke-width="1.1"/>
<circle cx="105.92" cy="787.1" r="2" fill="#fff" stroke="#000" stroke-width="1.1"/>
<circle cx="107.42" cy="786.26" r="2" fill="#fff" stroke="#000" stroke-width="1.1"/>
<line x1="114.97" y1="790.74" x2="114.97" y2="788.75" stroke="#000" stroke-width="1"/>
<line x1="113.17" y1="788.75" x2="116.77" y2="788.75" stroke="#000" stroke-width="1"/>
<circle cx="114.97" cy="785.84" r="2" fill="#fff" stroke="#000" stroke-width="1.1"/>
<circle cx="113.97" cy="791.85" r="2" fill="#fff" stroke="#000" stroke-width="1.1"/>
<circle cx="116.17" cy="790.18" r="2" fill="#fff" stroke="#000" stroke-width="1.1"/>
<line x1="86.9" y1="771.4" x2="108.4" y2="771.4" stroke="#000" stroke-width="1.6"/>
<text x="97.65" y="766.5" font-size="5.85" text-anchor="middle" stroke="#000" stroke-width="0.18">0.0017</text>
<line x1="86.9" y1="758.9" x2="116.4" y2="758.9" stroke="#000" stroke-width="1.6"/>
<text x="101.65" y="754" font-size="5.85" text-anchor="middle" stroke="#000" stroke-width="0.18">0.0002</text>
<line x1="95.2" y1="746.1" x2="109.5" y2="746.1" stroke="#000" stroke-width="1.6"/>
<text x="102.35" y="741.2" font-size="5.85" text-anchor="middle" stroke="#000" stroke-width="0.18">0.0028</text>
<line x1="95.2" y1="732.4" x2="114.1" y2="732.4" stroke="#000" stroke-width="1.6"/>
<text x="104.65" y="727.5" font-size="5.85" text-anchor="middle" stroke="#000" stroke-width="0.18">0.0003</text>
<line x1="143.1" y1="840.4" x2="143.1" y2="845.2" stroke="#000" stroke-width="1.6"/>
<text x="143.1" y="855" font-size="7.6" font-weight="bold" text-anchor="middle">ERV3</text>
<rect x="126.88" y="802.21" width="4.7" height="38.19" fill="#ffffff" stroke="#000" stroke-width="1.3"/>
<rect x="136.12" y="802.21" width="4.7" height="38.19" fill="#afafaf" stroke="#000" stroke-width="1.3"/>
<rect x="145.38" y="807.52" width="4.7" height="32.88" fill="#767676" stroke="#000" stroke-width="1.3"/>
<rect x="154.62" y="809.34" width="4.7" height="31.06" fill="#000000" stroke="#000" stroke-width="1.3"/>
<circle cx="127.62" cy="801.65" r="2" fill="#fff" stroke="#000" stroke-width="1.1"/>
<circle cx="129.42" cy="802.77" r="2" fill="#fff" stroke="#000" stroke-width="1.1"/>
<circle cx="130.92" cy="801.93" r="2" fill="#fff" stroke="#000" stroke-width="1.1"/>
<circle cx="136.88" cy="801.65" r="2" fill="#fff" stroke="#000" stroke-width="1.1"/>
<circle cx="138.67" cy="802.77" r="2" fill="#fff" stroke="#000" stroke-width="1.1"/>
<circle cx="140.17" cy="801.93" r="2" fill="#fff" stroke="#000" stroke-width="1.1"/>
<circle cx="146.12" cy="806.96" r="2" fill="#fff" stroke="#000" stroke-width="1.1"/>
<circle cx="147.92" cy="808.08" r="2" fill="#fff" stroke="#000" stroke-width="1.1"/>
<circle cx="149.42" cy="807.24" r="2" fill="#fff" stroke="#000" stroke-width="1.1"/>
<circle cx="155.38" cy="808.78" r="2" fill="#fff" stroke="#000" stroke-width="1.1"/>
<circle cx="157.17" cy="809.9" r="2" fill="#fff" stroke="#000" stroke-width="1.1"/>
<circle cx="158.67" cy="809.06" r="2" fill="#fff" stroke="#000" stroke-width="1.1"/>
<line x1="128.9" y1="793.6" x2="150.4" y2="793.6" stroke="#000" stroke-width="1.6"/>
<text x="139.65" y="788.7" font-size="5.85" text-anchor="middle" stroke="#000" stroke-width="0.18">0.0008</text>
<line x1="128.9" y1="781.1" x2="158.4" y2="781.1" stroke="#000" stroke-width="1.6"/>
<text x="143.65" y="776.2" font-size="5.85" text-anchor="middle" stroke="#000" stroke-width="0.18">0.0001</text>
<line x1="137.2" y1="767.6" x2="151.5" y2="767.6" stroke="#000" stroke-width="1.6"/>
<text x="144.35" y="762.7" font-size="5.85" text-anchor="middle" stroke="#000" stroke-width="0.18">0.0013</text>
<line x1="137.2" y1="753.9" x2="156.1" y2="753.9" stroke="#000" stroke-width="1.6"/>
<text x="146.65" y="749" font-size="5.85" text-anchor="middle" stroke="#000" stroke-width="0.18">0.0002</text>
<line x1="185.1" y1="840.4" x2="185.1" y2="845.2" stroke="#000" stroke-width="1.6"/>
<text x="185.1" y="855" font-size="7.6" font-weight="bold" text-anchor="middle">LTR</text>
<rect x="168.88" y="751.28" width="4.7" height="89.12" fill="#ffffff" stroke="#000" stroke-width="1.3"/>
<rect x="178.12" y="752.26" width="4.7" height="88.14" fill="#afafaf" stroke="#000" stroke-width="1.3"/>
<rect x="187.38" y="760.8" width="4.7" height="79.6" fill="#767676" stroke="#000" stroke-width="1.3"/>
<rect x="196.62" y="766.53" width="4.7" height="73.87" fill="#000000" stroke="#000" stroke-width="1.3"/>
<circle cx="169.62" cy="750.72" r="2" fill="#fff" stroke="#000" stroke-width="1.1"/>
<circle cx="171.42" cy="751.84" r="2" fill="#fff" stroke="#000" stroke-width="1.1"/>
<circle cx="172.92" cy="751" r="2" fill="#fff" stroke="#000" stroke-width="1.1"/>
<circle cx="178.88" cy="751.7" r="2" fill="#fff" stroke="#000" stroke-width="1.1"/>
<circle cx="180.67" cy="752.82" r="2" fill="#fff" stroke="#000" stroke-width="1.1"/>
<circle cx="182.17" cy="751.98" r="2" fill="#fff" stroke="#000" stroke-width="1.1"/>
<circle cx="188.12" cy="760.24" r="2" fill="#fff" stroke="#000" stroke-width="1.1"/>
<circle cx="189.92" cy="761.36" r="2" fill="#fff" stroke="#000" stroke-width="1.1"/>
<circle cx="191.42" cy="760.52" r="2" fill="#fff" stroke="#000" stroke-width="1.1"/>
<line x1="198.97" y1="766.53" x2="198.97" y2="763.99" stroke="#000" stroke-width="1"/>
<line x1="197.17" y1="763.99" x2="200.78" y2="763.99" stroke="#000" stroke-width="1"/>
<circle cx="198.97" cy="760.24" r="2" fill="#fff" stroke="#000" stroke-width="1.1"/>
<circle cx="197.97" cy="767.93" r="2" fill="#fff" stroke="#000" stroke-width="1.1"/>
<circle cx="200.28" cy="766.53" r="2" fill="#fff" stroke="#000" stroke-width="1.1"/>
<line x1="170.9" y1="743.8" x2="192.4" y2="743.8" stroke="#000" stroke-width="1.6"/>
<text x="181.65" y="738.9" font-size="5.85" text-anchor="middle" stroke="#000" stroke-width="0.18">0.0026</text>
<line x1="170.9" y1="731.2" x2="200.4" y2="731.2" stroke="#000" stroke-width="1.6"/>
<text x="185.65" y="726.3" font-size="5.85" text-anchor="middle" stroke="#000" stroke-width="0.18">0.0004</text>
<line x1="179.2" y1="719.5" x2="193.5" y2="719.5" stroke="#000" stroke-width="1.6"/>
<text x="186.35" y="714.6" font-size="5.85" text-anchor="middle" stroke="#000" stroke-width="0.18">0.0059</text>
<line x1="179.2" y1="706.2" x2="198.1" y2="706.2" stroke="#000" stroke-width="1.6"/>
<text x="188.65" y="701.3" font-size="5.85" text-anchor="middle" stroke="#000" stroke-width="0.18">0.0008</text>
<line x1="227.1" y1="840.4" x2="227.1" y2="845.2" stroke="#000" stroke-width="1.6"/>
<text x="227.1" y="855" font-size="7.6" font-weight="bold" text-anchor="middle">Retroelements</text>
<rect x="210.88" y="751.84" width="4.7" height="88.56" fill="#ffffff" stroke="#000" stroke-width="1.3"/>
<rect x="220.12" y="753.24" width="4.7" height="87.16" fill="#afafaf" stroke="#000" stroke-width="1.3"/>
<rect x="229.38" y="769.33" width="4.7" height="71.07" fill="#767676" stroke="#000" stroke-width="1.3"/>
<rect x="238.62" y="777.86" width="4.7" height="62.54" fill="#000000" stroke="#000" stroke-width="1.3"/>
<circle cx="211.62" cy="751.28" r="2" fill="#fff" stroke="#000" stroke-width="1.1"/>
<circle cx="213.42" cy="752.4" r="2" fill="#fff" stroke="#000" stroke-width="1.1"/>
<circle cx="214.92" cy="751.56" r="2" fill="#fff" stroke="#000" stroke-width="1.1"/>
<circle cx="220.88" cy="752.68" r="2" fill="#fff" stroke="#000" stroke-width="1.1"/>
<circle cx="222.67" cy="753.8" r="2" fill="#fff" stroke="#000" stroke-width="1.1"/>
<circle cx="224.17" cy="752.96" r="2" fill="#fff" stroke="#000" stroke-width="1.1"/>
<line x1="231.72" y1="769.33" x2="231.72" y2="768.18" stroke="#000" stroke-width="1"/>
<line x1="229.92" y1="768.18" x2="233.53" y2="768.18" stroke="#000" stroke-width="1"/>
<circle cx="231.42" cy="766.53" r="2" fill="#fff" stroke="#000" stroke-width="1.1"/>
<circle cx="230.72" cy="770.03" r="2" fill="#fff" stroke="#000" stroke-width="1.1"/>
<circle cx="232.92" cy="769.33" r="2" fill="#fff" stroke="#000" stroke-width="1.1"/>
<line x1="240.97" y1="777.86" x2="240.97" y2="774.4" stroke="#000" stroke-width="1"/>
<line x1="239.17" y1="774.4" x2="242.78" y2="774.4" stroke="#000" stroke-width="1"/>
<circle cx="240.97" cy="768.07" r="2" fill="#fff" stroke="#000" stroke-width="1.1"/>
<circle cx="239.97" cy="778.56" r="2" fill="#fff" stroke="#000" stroke-width="1.1"/>
<circle cx="242.17" cy="777.86" r="2" fill="#fff" stroke="#000" stroke-width="1.1"/>
<line x1="212.9" y1="746.4" x2="234.4" y2="746.4" stroke="#000" stroke-width="1.6"/>
<text x="223.65" y="741.5" font-size="5.85" text-anchor="middle" stroke="#000" stroke-width="0.18">0.0006</text>
<line x1="212.9" y1="733.1" x2="242.4" y2="733.1" stroke="#000" stroke-width="1.6"/>
<text x="227.65" y="728.2" font-size="5.85" text-anchor="middle" stroke="#000" stroke-width="0.18">&lt;0.0001</text>
<line x1="221.2" y1="721.4" x2="235.5" y2="721.4" stroke="#000" stroke-width="1.6"/>
<text x="228.35" y="716.5" font-size="5.85" text-anchor="middle" stroke="#000" stroke-width="0.18">0.0011</text>
<line x1="221.2" y1="709.4" x2="240.1" y2="709.4" stroke="#000" stroke-width="1.6"/>
<text x="230.65" y="704.5" font-size="5.85" text-anchor="middle" stroke="#000" stroke-width="0.18">0.0002</text>
<line x1="269.1" y1="840.4" x2="269.1" y2="845.2" stroke="#000" stroke-width="1.6"/>
<text x="269.1" y="855" font-size="7.6" font-weight="bold" text-anchor="middle">LINE1</text>
<rect x="252.88" y="785.42" width="4.7" height="54.98" fill="#ffffff" stroke="#000" stroke-width="1.3"/>
<rect x="262.12" y="785.42" width="4.7" height="54.98" fill="#afafaf" stroke="#000" stroke-width="1.3"/>
<rect x="271.38" y="789.76" width="4.7" height="50.64" fill="#767676" stroke="#000" stroke-width="1.3"/>
<rect x="280.62" y="792.13" width="4.7" height="48.27" fill="#000000" stroke="#000" stroke-width="1.3"/>
<circle cx="253.63" cy="784.86" r="2" fill="#fff" stroke="#000" stroke-width="1.1"/>
<circle cx="255.43" cy="785.98" r="2" fill="#fff" stroke="#000" stroke-width="1.1"/>
<circle cx="256.93" cy="785.14" r="2" fill="#fff" stroke="#000" stroke-width="1.1"/>
<circle cx="262.88" cy="784.86" r="2" fill="#fff" stroke="#000" stroke-width="1.1"/>
<circle cx="264.68" cy="785.98" r="2" fill="#fff" stroke="#000" stroke-width="1.1"/>
<circle cx="266.18" cy="785.14" r="2" fill="#fff" stroke="#000" stroke-width="1.1"/>
<circle cx="272.12" cy="789.2" r="2" fill="#fff" stroke="#000" stroke-width="1.1"/>
<circle cx="273.93" cy="790.32" r="2" fill="#fff" stroke="#000" stroke-width="1.1"/>
<circle cx="275.43" cy="789.48" r="2" fill="#fff" stroke="#000" stroke-width="1.1"/>
<circle cx="281.38" cy="791.57" r="2" fill="#fff" stroke="#000" stroke-width="1.1"/>
<circle cx="283.18" cy="792.69" r="2" fill="#fff" stroke="#000" stroke-width="1.1"/>
<circle cx="284.68" cy="791.85" r="2" fill="#fff" stroke="#000" stroke-width="1.1"/>
<line x1="254.9" y1="777.7" x2="276.4" y2="777.7" stroke="#000" stroke-width="1.6"/>
<text x="265.65" y="772.8" font-size="5.85" text-anchor="middle" stroke="#000" stroke-width="0.18">0.0027</text>
<line x1="254.9" y1="764.5" x2="284.4" y2="764.5" stroke="#000" stroke-width="1.6"/>
<text x="269.65" y="759.6" font-size="5.85" text-anchor="middle" stroke="#000" stroke-width="0.18">0.0002</text>
<line x1="263.2" y1="753.1" x2="277.5" y2="753.1" stroke="#000" stroke-width="1.6"/>
<text x="270.35" y="748.2" font-size="5.85" text-anchor="middle" stroke="#000" stroke-width="0.18">0.003</text>
<line x1="263.2" y1="740.4" x2="282.1" y2="740.4" stroke="#000" stroke-width="1.6"/>
<text x="272.65" y="735.5" font-size="5.85" text-anchor="middle" stroke="#000" stroke-width="0.18">0.0003</text>
<line x1="311.1" y1="840.4" x2="311.1" y2="845.2" stroke="#000" stroke-width="1.6"/>
<text x="311.1" y="855" font-size="7.6" font-weight="bold" text-anchor="middle">SINE1</text>
<rect x="294.88" y="791.57" width="4.7" height="48.83" fill="#ffffff" stroke="#000" stroke-width="1.3"/>
<rect x="304.12" y="791.57" width="4.7" height="48.83" fill="#afafaf" stroke="#000" stroke-width="1.3"/>
<rect x="313.38" y="796.33" width="4.7" height="44.07" fill="#767676" stroke="#000" stroke-width="1.3"/>
<rect x="322.62" y="797.87" width="4.7" height="42.53" fill="#000000" stroke="#000" stroke-width="1.3"/>
<circle cx="295.62" cy="791.02" r="2" fill="#fff" stroke="#000" stroke-width="1.1"/>
<circle cx="297.43" cy="792.13" r="2" fill="#fff" stroke="#000" stroke-width="1.1"/>
<circle cx="298.93" cy="791.3" r="2" fill="#fff" stroke="#000" stroke-width="1.1"/>
<circle cx="304.88" cy="791.02" r="2" fill="#fff" stroke="#000" stroke-width="1.1"/>
<circle cx="306.68" cy="792.13" r="2" fill="#fff" stroke="#000" stroke-width="1.1"/>
<circle cx="308.18" cy="791.3" r="2" fill="#fff" stroke="#000" stroke-width="1.1"/>
<circle cx="314.12" cy="795.77" r="2" fill="#fff" stroke="#000" stroke-width="1.1"/>
<circle cx="315.93" cy="796.89" r="2" fill="#fff" stroke="#000" stroke-width="1.1"/>
<circle cx="317.43" cy="796.05" r="2" fill="#fff" stroke="#000" stroke-width="1.1"/>
<circle cx="323.38" cy="797.31" r="2" fill="#fff" stroke="#000" stroke-width="1.1"/>
<circle cx="325.18" cy="798.43" r="2" fill="#fff" stroke="#000" stroke-width="1.1"/>
<circle cx="326.68" cy="797.59" r="2" fill="#fff" stroke="#000" stroke-width="1.1"/>
<line x1="296.9" y1="785.3" x2="318.4" y2="785.3" stroke="#000" stroke-width="1.6"/>
<text x="307.65" y="780.4" font-size="5.85" text-anchor="middle" stroke="#000" stroke-width="0.18">0.0031</text>
<line x1="296.9" y1="772" x2="326.4" y2="772" stroke="#000" stroke-width="1.6"/>
<text x="311.65" y="767.1" font-size="5.85" text-anchor="middle" stroke="#000" stroke-width="0.18">0.0004</text>
<line x1="305.2" y1="760.6" x2="319.5" y2="760.6" stroke="#000" stroke-width="1.6"/>
<text x="312.35" y="755.7" font-size="5.85" text-anchor="middle" stroke="#000" stroke-width="0.18">0.0022</text>
<line x1="305.2" y1="747.9" x2="324.1" y2="747.9" stroke="#000" stroke-width="1.6"/>
<text x="314.65" y="743" font-size="5.85" text-anchor="middle" stroke="#000" stroke-width="0.18">0.0003</text>
<line x1="353.1" y1="840.4" x2="353.1" y2="845.2" stroke="#000" stroke-width="1.6"/>
<text x="353.1" y="855" font-size="7.6" font-weight="bold" text-anchor="middle">SINE2</text>
<rect x="336.88" y="810.88" width="4.7" height="29.52" fill="#ffffff" stroke="#000" stroke-width="1.3"/>
<rect x="346.12" y="810.46" width="4.7" height="29.94" fill="#afafaf" stroke="#000" stroke-width="1.3"/>
<rect x="355.38" y="811.86" width="4.7" height="28.54" fill="#767676" stroke="#000" stroke-width="1.3"/>
<rect x="364.62" y="814.38" width="4.7" height="26.02" fill="#000000" stroke="#000" stroke-width="1.3"/>
<circle cx="337.62" cy="810.32" r="2" fill="#fff" stroke="#000" stroke-width="1.1"/>
<circle cx="339.43" cy="811.44" r="2" fill="#fff" stroke="#000" stroke-width="1.1"/>
<circle cx="340.93" cy="810.6" r="2" fill="#fff" stroke="#000" stroke-width="1.1"/>
<circle cx="346.88" cy="809.9" r="2" fill="#fff" stroke="#000" stroke-width="1.1"/>
<circle cx="348.68" cy="811.02" r="2" fill="#fff" stroke="#000" stroke-width="1.1"/>
<circle cx="350.18" cy="810.18" r="2" fill="#fff" stroke="#000" stroke-width="1.1"/>
<circle cx="356.12" cy="811.3" r="2" fill="#fff" stroke="#000" stroke-width="1.1"/>
<circle cx="357.93" cy="812.42" r="2" fill="#fff" stroke="#000" stroke-width="1.1"/>
<circle cx="359.43" cy="811.58" r="2" fill="#fff" stroke="#000" stroke-width="1.1"/>
<circle cx="365.38" cy="813.82" r="2" fill="#fff" stroke="#000" stroke-width="1.1"/>
<circle cx="367.18" cy="814.94" r="2" fill="#fff" stroke="#000" stroke-width="1.1"/>
<circle cx="368.68" cy="814.1" r="2" fill="#fff" stroke="#000" stroke-width="1.1"/>
<line x1="395.1" y1="840.4" x2="395.1" y2="845.2" stroke="#000" stroke-width="1.6"/>
<text x="395.1" y="855" font-size="7.6" font-weight="bold" text-anchor="middle">Satellites</text>
<rect x="378.88" y="756.46" width="4.7" height="83.94" fill="#ffffff" stroke="#000" stroke-width="1.3"/>
<rect x="388.12" y="756.46" width="4.7" height="83.94" fill="#afafaf" stroke="#000" stroke-width="1.3"/>
<rect x="397.38" y="769.47" width="4.7" height="70.93" fill="#767676" stroke="#000" stroke-width="1.3"/>
<rect x="406.62" y="776.47" width="4.7" height="63.93" fill="#000000" stroke="#000" stroke-width="1.3"/>
<circle cx="379.62" cy="755.9" r="2" fill="#fff" stroke="#000" stroke-width="1.1"/>
<circle cx="381.43" cy="757.02" r="2" fill="#fff" stroke="#000" stroke-width="1.1"/>
<circle cx="382.93" cy="756.18" r="2" fill="#fff" stroke="#000" stroke-width="1.1"/>
<circle cx="388.88" cy="755.9" r="2" fill="#fff" stroke="#000" stroke-width="1.1"/>
<circle cx="390.68" cy="757.02" r="2" fill="#fff" stroke="#000" stroke-width="1.1"/>
<circle cx="392.18" cy="756.18" r="2" fill="#fff" stroke="#000" stroke-width="1.1"/>
<circle cx="399.73" cy="767.37" r="2" fill="#fff" stroke="#000" stroke-width="1.1"/>
<circle cx="398.73" cy="770.03" r="2" fill="#fff" stroke="#000" stroke-width="1.1"/>
<circle cx="400.93" cy="769.47" r="2" fill="#fff" stroke="#000" stroke-width="1.1"/>
<line x1="408.98" y1="776.47" x2="408.98" y2="773" stroke="#000" stroke-width="1"/>
<line x1="407.18" y1="773" x2="410.78" y2="773" stroke="#000" stroke-width="1"/>
<circle cx="408.98" cy="766.67" r="2" fill="#fff" stroke="#000" stroke-width="1.1"/>
<circle cx="407.98" cy="777.17" r="2" fill="#fff" stroke="#000" stroke-width="1.1"/>
<circle cx="410.18" cy="775.77" r="2" fill="#fff" stroke="#000" stroke-width="1.1"/>
<line x1="380.9" y1="747.9" x2="402.4" y2="747.9" stroke="#000" stroke-width="1.6"/>
<text x="391.65" y="743" font-size="5.85" text-anchor="middle" stroke="#000" stroke-width="0.18">0.0026</text>
<line x1="380.9" y1="735.5" x2="410.4" y2="735.5" stroke="#000" stroke-width="1.6"/>
<text x="395.65" y="730.6" font-size="5.85" text-anchor="middle" stroke="#000" stroke-width="0.18">0.0004</text>
<line x1="389.2" y1="724.2" x2="403.5" y2="724.2" stroke="#000" stroke-width="1.6"/>
<text x="396.35" y="719.3" font-size="5.85" text-anchor="middle" stroke="#000" stroke-width="0.18">0.0026</text>
<line x1="389.2" y1="710.3" x2="408.1" y2="710.3" stroke="#000" stroke-width="1.6"/>
<text x="398.65" y="705.4" font-size="5.85" text-anchor="middle" stroke="#000" stroke-width="0.18">0.0004</text>
<line x1="339.7" y1="802.9" x2="369.3" y2="802.9" stroke="#000" stroke-width="1.6"/>
<text x="354.5" y="798" font-size="5.85" text-anchor="middle" stroke="#000" stroke-width="0.18">0.0022</text>
<line x1="348.5" y1="790" x2="367.4" y2="790" stroke="#000" stroke-width="1.6"/>
<text x="357.95" y="785.1" font-size="5.85" text-anchor="middle" stroke="#000" stroke-width="0.18">0.0011</text>
<text x="17.8" y="214.5" font-size="22" font-weight="bold">d</text>
<line x1="75.43" y1="215" x2="75.43" y2="432.4" stroke="#efefef" stroke-width="0.35"/>
<line x1="115.05" y1="215" x2="115.05" y2="432.4" stroke="#e6e6e6" stroke-width="0.55"/>
<line x1="154.68" y1="215" x2="154.68" y2="432.4" stroke="#efefef" stroke-width="0.35"/>
<line x1="194.3" y1="215" x2="194.3" y2="432.4" stroke="#e6e6e6" stroke-width="0.55"/>
<line x1="233.93" y1="215" x2="233.93" y2="432.4" stroke="#efefef" stroke-width="0.35"/>
<line x1="273.55" y1="215" x2="273.55" y2="432.4" stroke="#e6e6e6" stroke-width="0.55"/>
<line x1="52.6" y1="423.4" x2="277" y2="423.4" stroke="#e6e6e6" stroke-width="0.55"/>
<line x1="52.6" y1="397.9" x2="277" y2="397.9" stroke="#efefef" stroke-width="0.35"/>
<line x1="52.6" y1="372.4" x2="277" y2="372.4" stroke="#e6e6e6" stroke-width="0.55"/>
<line x1="52.6" y1="346.9" x2="277" y2="346.9" stroke="#efefef" stroke-width="0.35"/>
<line x1="52.6" y1="321.4" x2="277" y2="321.4" stroke="#e6e6e6" stroke-width="0.55"/>
<line x1="52.6" y1="295.9" x2="277" y2="295.9" stroke="#efefef" stroke-width="0.35"/>
<line x1="52.6" y1="270.4" x2="277" y2="270.4" stroke="#e6e6e6" stroke-width="0.55"/>
<line x1="52.6" y1="244.9" x2="277" y2="244.9" stroke="#efefef" stroke-width="0.35"/>
<line x1="52.6" y1="219.4" x2="277" y2="219.4" stroke="#e6e6e6" stroke-width="0.55"/>
<path d="M178.5 286L184 285L188 292L191 300L195.7 320L197.5 340L199 352L199.8 362L200.5 372L201.3 385L202 397L207 401L214 405L220 408.5L224.5 411.5L218 414L208 416L202 419L197 422.3L191 423.3L184 421L178.5 416.5L172 417.5L166 414L161.5 410L156 405L150.5 400L145 395L139.5 390L134 385L128.5 380L125 376L122 372.4L178.5 372.4Z" fill="#636363"/>
<path d="M178 268L170 265L160 266L150 267L140 269L130 272L122 275.5L115 281L108 287L102 294L97.5 302L95 312L95.5 325L97.5 340L100 350L105.5 360L113 367.5L121.5 372.4L178 372.4Z" fill="#0000ff"/>
<path d="M123.24 368.88h0M124.03 280.57h0M98.47 307.45h0M99.39 327.45h0M165.59 266.59h0M105.19 349.03h0M112.99 366.82h0M101.11 350.75h0M97.55 306.43h0M161.32 266.86h0M142.44 271.6h0M95.28 316.98h0M147.63 272.85h0M110.27 290.59h0M97.52 309.93h0M100.17 323.69h0M97.64 335.58h0M101.88 351.71h0M106.19 291.69h0M137.39 270.24h0M96.53 327.64h0M100.11 348.58h0M96.07 317.36h0M136.65 270.29h0M103.01 350.94h0M157.92 267.51h0M99.35 344.6h0M113.45 287.47h0M99.61 330.28h0M103.24 352.37h0M173.04 267.5h0M134.66 271.73h0M104.33 344.63h0M98.14 306.82h0M162.38 267.3h0M104.56 349.03h0M100.76 339.11h0M102.35 297.8h0M98.45 330.32h0M95.3 314.31h0M106.06 353.64h0M109.64 361h0M166.34 266.36h0M105 353.7h0M103.9 291.88h0M101.23 299.55h0M95.79 309.97h0M116.82 282.01h0M95.79 309.94h0M126.31 275.76h0M107.87 360.57h0M97.55 313.38h0M97.6 334.86h0M159.97 267.23h0M109.46 286.37h0M96.55 314.41h0M96.51 309.77h0M97.72 336.31h0M97.31 317.76h0M140.01 270h0M110.6 363.51h0M130.18 272.46h0M149 268.89h0M97.23 332.15h0M146.3 267.78h0M102.05 347.04h0M97.58 339.88h0M127.52 273.52h0M97.29 329.86h0M101.93 330.01h0" stroke="#ffffff" stroke-width="1.1" stroke-linecap="round" fill="none"/>
<path d="M225.79 407.74h0M184.85 422.13h0M201.96 377.44h0M147.86 399.86h0M206.36 417.52h0M190.49 292.34h0M160.53 414.26h0M178.18 424.46h0M220.11 414.91h0M198.89 340.31h0M202.94 370.44h0M194.15 302.84h0M202.01 346.47h0M213.24 403.93h0M126.96 381.59h0M200.02 358.49h0M223.28 412.01h0M196.34 326.11h0M197.68 329.85h0M132.44 388.18h0M197.77 331.73h0M207.67 400.89h0M120.77 376.11h0M178.47 416.62h0M198.07 312.47h0M159.3 415.44h0M196.61 424.14h0M185.47 421.6h0M187.36 284.71h0M127.87 383.08h0M221.2 408.8h0M217.08 414.25h0M197.61 319.55h0M203.18 391.65h0M203.25 395.28h0M195.38 311.59h0M201.69 385.81h0M215.66 414.92h0M131.24 384.17h0M169.39 416.49h0M151.96 402.73h0M200.59 361.63h0M196.91 324.18h0M203.21 379.01h0M180.05 419.38h0M201.25 419.79h0M164.7 417.73h0M188.82 423.55h0M181.87 420.6h0M192.24 296.26h0M203.03 395.16h0M195.83 314.25h0M202.38 397.07h0M188.59 292.49h0M201.2 365.75h0M209.73 402.04h0M135.87 386.76h0M198.72 338.49h0M203.67 389.52h0M197.8 423.8h0M205.02 399.09h0M224.13 412.12h0M135.17 386.43h0M133.68 388.22h0M185.35 286.8h0M203.09 355.96h0M197.23 330.53h0M145.14 396.3h0M199.23 324.27h0M193.16 303.67h0M204.1 388.38h0M133.26 384.76h0M147.04 397.4h0M162.03 411.06h0M222.63 409.07h0M220.96 422.23h0M202.86 387.73h0M196.84 332.29h0M204.73 367.14h0M195.82 319.38h0M182.69 425.59h0M201.06 373.74h0M133.06 384.19h0M164.43 413.4h0M199.64 356.87h0M196.23 324.73h0M204.3 387.63h0M195.53 422.83h0M196.23 325.82h0M165.91 414.51h0M216.48 415.38h0M185.17 282.55h0M188.35 291.08h0M148.05 399.25h0M197.81 327.34h0M202.67 389.33h0M183.61 284.35h0M170.14 417.57h0M219.52 405.27h0M198.06 326.02h0M193.46 301.48h0M132.82 390.62h0M196.84 319.43h0M201.94 367.69h0M202.24 396.95h0M144.74 398.14h0M211.35 402.72h0M204.59 385.8h0M139.63 390.73h0M191.62 298.53h0M200.42 350.58h0M200.33 356.01h0M193.96 299.75h0M158.87 408.86h0M142.47 392.86h0M198.71 316.62h0M209.03 421.44h0M182.29 285.23h0M197.5 324.98h0M142.72 394.51h0M218.78 414.52h0M121.85 375.76h0M219.6 416.74h0M134.66 386.01h0M199.63 420.98h0M167.18 416.32h0M191.59 297.35h0M221.56 407.73h0M222.07 414.47h0M181.75 420.07h0M208.52 421.74h0M200.74 338.85h0M198.67 348.75h0M210.31 398.57h0M136.06 387.37h0M196.89 422.68h0M154.03 407.18h0M167.59 420.68h0M200.56 354.69h0M196.07 322.51h0M197.63 326.28h0M215.15 417.01h0M190.61 424.81h0M198.03 341.09h0M216.79 419.6h0M127.66 382.01h0M169.29 417.88h0M197.88 315.78h0M189.01 291.12h0M211.16 402.45h0M210.69 417.27h0M201.62 360.06h0M180.01 283.16h0M154.08 412.02h0M217.09 405.29h0M200.07 361.43h0M205.09 399.01h0M220.13 408.14h0M216.88 406h0M225.77 410.97h0M160.98 412.03h0M202.12 374.59h0M202.5 394.93h0M203.76 419.65h0M220.52 413.8h0M171.77 418.26h0M136.97 393.24h0M140.52 393.84h0M227.76 413.88h0M190.24 424.73h0M201.53 381.71h0M186.98 422.13h0M201.63 354.23h0M188.55 279.41h0M199.67 352.54h0M159.6 409.17h0M175.07 420.69h0M183.79 422.87h0M231.68 409.52h0M135.42 388.54h0M129.78 383.93h0M170.64 418.66h0M195.24 315.72h0M160.41 410.68h0M184.48 284.85h0M193.72 304.39h0M224.97 412.05h0M193.53 300.49h0M211.91 403.2h0M176.42 418h0M135.53 387.64h0M130.45 381.96h0M189.73 292.17h0M216.14 414.56h0M145.37 398.1h0M190.44 423.35h0M195.26 425.16h0M155.85 415.99h0M227.2 407.49h0M179.82 425.48h0M149.25 400.65h0M197.79 331.37h0M160.27 414.76h0M171.13 419.02h0M199.63 355.13h0M195.13 423.75h0M206.77 417.77h0M138.29 389.15h0M171.08 420.89h0M159.51 408.84h0M202.36 383.94h0M188.62 423.2h0M136.16 389.25h0M190.24 423.44h0M185.85 287.95h0M188.59 423.96h0M201.73 388.69h0M188.3 291.59h0M159.18 408.09h0M180.23 418.04h0M227.68 408.94h0M178.62 418.44h0M115.95 375.09h0M164.56 416.46h0M180.44 284.61h0M222.3 412.36h0M203.51 397.87h0M203.74 389.73h0M213.24 404.27h0M204.02 374.34h0M116.43 374.67h0M198.43 325.43h0M129.72 382.2h0M141.64 394.7h0M181.64 283.88h0M215.85 404.42h0M215.16 405.39h0M191.38 296.78h0M199.41 351.29h0M194.73 311.28h0M175.19 419.02h0M183.73 284.71h0M201.39 382.22h0M211.18 422.88h0M192.27 423.15h0M206.46 399.39h0M187.89 289.92h0M194.52 305.1h0M200.14 352.85h0M210.67 415.48h0M200.11 363.21h0M193.71 306.81h0M139.89 393.3h0M153.65 403.41h0M129.77 381.59h0M208.08 415.99h0M151.26 400.77h0M225.01 411.58h0M159.52 410.14h0M184.97 421.7h0M201.14 348.07h0M202.67 388.59h0M183.46 422.04h0M196.95 312.3h0M220.96 406.42h0M205.43 397.67h0M189.61 290.46h0M139.82 390.79h0M201.5 375.06h0M198.08 343.59h0M180.32 285.46h0M126.1 380.6h0M143.7 396.8h0M144.76 396.62h0M196.95 332.6h0M220.66 418.41h0M211.64 401.83h0M221.34 407.86h0M183.35 420.53h0M197.02 332.99h0M197.66 339.35h0M140.79 396.81h0M172.72 419.76h0M202.5 374.93h0M198.79 325.38h0M211.02 402.94h0M201.52 370.27h0M192.05 302.85h0M190.15 296.5h0M197.56 324.08h0M191.31 299.45h0M132.24 385.86h0M201.98 389.84h0M224.29 411.67h0M195.75 294.87h0M216.12 414.79h0M203.33 370.93h0M201.03 420.08h0M166.96 422.21h0M220.68 413.1h0M197.45 323.23h0M205.14 396.92h0M229.86 410.99h0M205.6 419.48h0M156.49 406.97h0M191.45 301.86h0M201.38 420.55h0M160.02 409.27h0M201.71 391.05h0M184.77 422.51h0M224.3 410.33h0M193.29 302.89h0M127.56 383.37h0M200.97 366.98h0M204.42 419.52h0M205.46 388.59h0M195.27 309.88h0M223.98 411.1h0M186.73 287.62h0M193.24 309.18h0M176.48 417.58h0M203.44 394.29h0M203.44 420.34h0M202.5 359.02h0M177.09 420.01h0M153.72 406.59h0M127.3 380.01h0M118.82 379.35h0M128.06 390.82h0M197.94 338.34h0M122.87 375.65h0M198.22 334.85h0M202.29 395.07h0M127.65 380.06h0M205.39 378.78h0M208.21 397.88h0M214.48 415.26h0M179.64 420.2h0M150.24 404.06h0M196.93 329.72h0M185.11 285.3h0M222.22 406.28h0M173.12 420.15h0M201.78 337.68h0M172.04 420.38h0M199.8 337.56h0M193.32 305.78h0M147.23 400.95h0M121.3 378.86h0M195.43 315.93h0M204.64 336.45h0M128.85 385.08h0M208.85 416.67h0M196.97 331.65h0M199.85 361.25h0M196.3 323.43h0M189.26 293.31h0M157.23 408.07h0M183.53 420.73h0M213.42 415.39h0M152.35 401.84h0M197.97 329.58h0M171.86 419.34h0M203.11 397.05h0M223.81 405.75h0M208.2 420.55h0M203.32 418.34h0M194.72 315h0M202.26 388.28h0M144.73 399.83h0M213.02 404.29h0M217.39 397.38h0M190.34 293.47h0M191.47 289.27h0M162.08 413.1h0M141.85 399.07h0M204.98 418.91h0M184.33 284.92h0M196.37 315.58h0M200.85 374.34h0M135.2 386.18h0M181.01 285.15h0M216.8 415.2h0M201.63 375.31h0M142.5 398.59h0M196.01 320.13h0M162.01 410.79h0M221.93 409.3h0M205.13 390.76h0M201.95 389.15h0M188.89 424.41h0M185.72 422.71h0M201.2 354.19h0M180.47 418.61h0M150.24 400.33h0M192.12 303.25h0M194.52 310.98h0M201.39 382.69h0M218.03 406.54h0M148.38 399.09h0M225.09 411.58h0M206.52 417.72h0M125.81 381.57h0M185.22 422.65h0M144.17 396.96h0M180.62 418.7h0M201.53 386.95h0M190.95 298.76h0M186.04 288.22h0M202.49 390.01h0M216.52 416.51h0M202.12 363.39h0M224.52 411.58h0M219.61 406.1h0M203.78 396.07h0M158.47 409.05h0M194.97 313.98h0M184.2 283.11h0M218.56 414.9h0M138.44 392.96h0M95 398.5h0M97.5 398.5h0M100.2 398.5h0M103.6 398.5h0M114.6 377.7h0M114.8 388.7h0M119 393h0M121 396h0M267.2 383.8h0M250 390.2h0M262.3 400.3h0M262.8 401.3h0M237.5 399h0M239.5 399h0M242.3 399h0M231 399.5h0M239 411.9h0M218.2 380.7h0M218.2 386.2h0M213 384.2h0M208 381h0M219 395.5h0M225.4 401.9h0M226.2 410h0M215.8 417.6h0M211 390.7h0M205.3 369.5h0M204.5 350.5h0M202 344.9h0M205.3 345.2h0M179.5 238.3h0M179.5 240h0M183 251h0M181.5 254.5h0M186 262h0M183.5 276h0M190 276.5h0M186.5 282h0M192 270h0M188.5 250h0M190 299h0M196 288h0M199 305h0M203 330h0M205 342h0M181.85 282.32h0M187.86 289.37h0M188.73 239.08h0M182.05 287.37h0M183.56 253.28h0M189.87 266.73h0M186.23 242.12h0M183.05 289.86h0M188.1 264.81h0M188.12 272.3h0M181.28 256.84h0M181.44 279.39h0M180.43 278.94h0M185.44 242.11h0M184.28 256.27h0M181.97 272.25h0M185.5 271.66h0M186.29 285.79h0M187.5 269.37h0M189.01 266.14h0M179.83 284.31h0M187.49 284.08h0M184.49 266.54h0M184.75 251.7h0M189.72 272.29h0M190.09 254.97h0M185.79 260.49h0M184.31 238.4h0" stroke="#636363" stroke-width="2.3" stroke-linecap="round" fill="none"/>
<path d="M117.28 267.98h0M158.8 257.74h0M102.09 358.81h0M176.75 264.86h0M149.94 251.54h0M156.38 244.02h0M92.56 290.59h0M92.31 319.19h0M122.79 273.98h0M88.24 302.62h0M119.64 264.41h0M116.65 269.19h0M96.63 280.46h0M81.58 314.38h0M93.03 305.6h0M95.27 308.42h0M111.22 268.72h0M162.9 251.2h0M142.5 263.9h0M95.08 259.81h0M143.88 245.02h0M94.98 312.44h0M95.99 335.05h0M145 264.01h0M122.88 273.37h0M99.11 293.45h0M95.47 309.34h0M138.11 254.79h0M126.54 257.21h0M138.21 237.85h0M99.68 288.53h0M101.91 292.11h0M124.95 248.32h0M100.87 291.58h0M97.05 337.99h0M124.02 268.83h0M101.28 291.83h0M93.57 322.86h0M154.61 253.55h0M106.06 277.74h0M115.8 259.33h0M169.81 245.13h0M132.3 270.68h0M109.1 273.94h0M94.21 273.74h0M115.06 369.15h0M151.11 256.58h0M93.45 305.12h0M102.19 366.61h0M108.92 364.84h0M91.78 328.28h0M112.09 367.48h0M87.35 292.75h0M144.17 265.22h0M111.69 281.8h0M105.92 283.41h0M86.47 342.56h0M121.71 252.04h0M134.36 257.03h0M136.62 267.72h0M120.56 273.76h0M107.33 364.3h0M88.58 277.74h0M151.2 265.68h0M133.31 268.97h0M92.96 330.98h0M89.6 302.26h0M156.39 263.91h0M97.35 302.48h0M76.4 302.81h0M114.04 265.03h0M96.92 300.85h0M97.22 301.51h0M174.65 260.73h0M116.61 275.11h0M128.52 272.11h0M145.51 261.86h0M102.27 357h0M90.54 287.08h0M139.85 257.08h0M127.42 272.16h0M163.35 260.95h0M100.39 282.22h0M105.81 287.14h0M122.41 272.19h0M148.7 265.53h0M102.48 360.69h0M111.77 269.39h0M130.3 271.22h0M137.34 261.53h0M91.43 308.98h0M111.77 275.23h0M119.29 261.52h0M95.9 298.57h0M96.65 336.83h0M98.09 291.24h0M104.1 265.46h0M116.49 370.45h0M92.08 330.25h0M93.76 337.31h0M118.5 269.85h0M168.01 253.37h0M112.95 275.92h0M176.81 258.23h0M132.35 246.76h0M122.32 273.79h0M102.42 358.23h0M103.17 285.82h0M165.74 263.63h0M157.91 257.58h0M96.46 300.32h0M112.26 281.52h0M137.38 261.59h0M127.46 271.71h0M166.44 260.58h0M100.33 351.5h0M134.08 255.74h0M134.24 270.64h0M95.1 299.8h0M144.51 259.93h0M141.45 263.21h0M104.49 359.88h0M131.02 268.98h0M97.41 291.56h0M118.06 371.06h0M118.75 271.67h0M167.87 263.91h0M100.94 292.31h0M108.31 363.61h0M81.87 293.23h0M141.88 265.5h0M132.04 271.06h0M102.58 291.79h0M127.51 268.59h0M105.17 289.79h0M136.48 266.42h0M157.27 259.15h0M148.01 262.96h0M174.2 265.63h0M93.49 300.37h0M147.62 253.52h0M95.04 278.52h0M94.8 291.44h0M106.98 362.94h0M162.99 264.22h0M95.59 327.36h0M165.96 261.78h0M169.13 247.99h0M98.47 349.47h0M151.14 263.37h0M113 275.95h0M172.19 264.7h0M131.52 266.21h0M121.76 259.59h0M86.65 295.27h0M112.12 281.95h0M95.11 309.8h0M95.09 292.7h0M93.83 346.79h0M175.28 260.63h0M120.74 259.38h0M171.69 262.81h0M95.17 339h0M95.46 303.83h0M97.82 279.33h0M100.65 296.13h0M172.57 254.43h0M123.37 272.86h0M150.72 264.39h0M159.28 264.12h0M95.93 286.03h0M99.93 286.07h0M116.16 272.31h0M97.79 285.18h0M124.76 272.91h0M120.52 274.05h0M133.07 269.41h0M112.98 274.39h0M98.64 348.17h0M140.97 267.36h0M106.12 277.99h0M152.76 264.77h0M104.56 289.14h0M131.96 264.5h0M95.97 339.6h0M156.19 265.94h0M113 278.15h0M109.09 367.57h0M100.42 279.32h0M133.19 269.21h0M132.48 262.75h0M120.33 261.57h0M97.16 303.16h0M104.79 290.15h0M168.25 258.92h0M98.85 346.37h0M150.72 262.22h0M146.64 267.52h0M140.44 264.14h0M161.67 265.55h0M96.23 346.19h0M165.28 260.72h0M96.23 346.07h0M106.84 287.82h0M149 267.12h0M113.26 275.76h0M120.98 275.63h0M153.57 263.93h0M112.5 280.29h0M91.24 291.47h0M121.71 270.1h0M107.81 285.62h0M94.97 315.34h0M146.04 263.36h0M153.05 255.89h0M100.38 357.66h0M168.67 260.84h0M167.43 237.74h0M114.25 271.45h0M96.58 293.67h0M131.65 271.09h0M111.32 248.33h0M99.72 284.05h0M91.07 302.9h0M117.82 277.44h0M157.59 253.58h0M95.76 306.27h0M87.75 296.71h0M92.88 318.52h0M148.05 261.26h0M117.02 272.83h0M96.02 328.89h0M91.03 300.29h0M112.35 281.64h0M145.54 244.26h0M98.6 293.88h0M160.87 261.84h0M116.41 275.37h0M139.69 259.36h0M95.64 342.67h0M81.68 281.48h0M150.2 265.85h0M105.07 359.76h0M97.69 279.38h0M90.24 279.36h0M95.71 337.62h0M177.04 258.37h0M94.09 317.55h0M140.04 268.47h0M100.25 294.06h0M155.73 259.03h0M114.49 279.07h0M149.86 263.17h0M115.44 275.88h0M144.93 260.64h0M160.69 263.43h0M84.77 304.58h0M87.22 316.59h0M119.76 275.06h0M95.13 323.75h0M98.63 294.99h0M156.65 264.53h0M93.91 346.16h0M175.71 258.32h0M109.66 283.2h0M119.49 272.39h0M98.21 348.51h0M168.56 248.52h0M119.07 266.52h0M95.26 326.35h0M123.04 273.43h0M174.91 264.81h0M107.01 286.41h0M92.64 328.8h0M93.11 321.09h0M99.55 352.21h0M156.35 261.67h0M104.31 282.73h0M91.27 299.01h0M177.04 264.24h0M133.26 262.02h0M176.7 262.75h0M99.99 291.31h0M175.3 266.16h0M113 369.14h0M173.42 261.88h0M143.09 254.67h0M150.39 254.24h0M94.62 310.79h0M98.97 346.37h0M118.07 255.41h0M148.31 265.23h0M98.94 348.08h0M116.35 260.6h0M120.64 269.11h0M114.1 264.13h0M140.65 264.54h0M95.67 302.19h0M147.39 258.58h0M148.95 258.08h0M94.48 335.74h0M111.24 273.1h0M96.81 289h0M126.83 256.17h0M97.41 344.64h0M94.49 317.07h0M169.19 263.91h0M136.04 264.12h0M96.13 339.13h0M96.33 304.86h0M107.21 277.93h0M140.05 267.91h0M165.57 260.84h0M138.41 253.74h0M133.56 269.51h0M176.03 265.8h0M151.87 255.72h0M96.08 289.96h0M108.83 364.51h0M117.14 266.87h0M135.89 264.99h0M80.52 294.03h0M105.07 361.4h0M148.93 257.06h0M128.48 271.26h0M101.05 354.67h0M174.19 266.26h0M143.2 265.95h0M112.43 266.85h0M108.03 275.39h0M145.56 253.65h0M96.27 354.1h0M123.64 271.39h0M157.54 257.89h0M91.02 302.16h0M158.9 258.33h0M112.46 280.81h0M171.23 245.4h0M114.9 369.23h0M151.58 259.45h0M94.2 296.04h0M100.26 268.87h0M110.3 267.84h0M92.3 260.86h0M130.5 270.96h0M90.3 278.79h0M107.85 266.63h0M112.84 281.73h0M93.36 322.34h0M171.71 261.14h0M172.73 261.14h0M148.71 261.37h0M108.07 362.8h0M90.55 344.76h0M94.57 329.11h0M174.91 239.76h0M96.67 335.28h0M90.33 322.91h0M132.06 270h0M96.9 338.27h0M134.18 268.52h0M152.06 265.96h0M94.77 348.76h0M133.09 270.06h0M139.43 252.18h0M121.33 268.57h0M95.39 346.72h0M88.18 310.84h0M170.74 264.35h0M100.21 271.72h0M96.03 304.56h0M122.85 274.59h0M94.02 311.02h0M125.47 266.14h0M105.93 282.63h0M92.85 294.84h0M105.08 289.94h0M93.37 291.12h0M174.8 264.22h0M135.01 267.45h0M162.75 254.69h0M168.17 252.47h0M145.73 260.1h0M96.59 304.91h0M87.14 309.82h0M130.84 270.2h0M112.99 279.33h0M158.23 264.87h0M104.42 280.41h0M137.74 266.11h0M142.79 263.34h0M103.34 360.16h0M135.51 232.8h0M94.94 331.97h0M110.31 282.31h0M95.95 335.24h0M137.19 255.87h0M127.22 272.25h0M132.01 257.47h0M162.67 252.24h0M177.4 265.47h0M115.47 277.84h0M107.09 278.3h0M112.75 270h0M111.59 277.35h0M112.24 368.67h0M90.95 314.97h0M117.66 274.18h0M144.37 265.18h0M96.72 304.77h0M149.17 266.19h0M115.15 272.6h0M86.5 322.67h0M152.21 258.1h0M158.01 265.65h0M134.57 270.07h0M159.55 261.5h0M148.84 250.39h0M138.7 267.43h0M99.97 356.06h0M173.05 264.45h0M133.83 268.92h0M175.68 263.69h0M160.84 265.9h0M128.08 269.3h0M95.54 341.84h0M142.43 255.88h0M107.21 286.67h0M109.85 279.43h0M98.57 288.81h0M141.86 267.61h0M146.98 239.67h0M142.16 262.43h0M78.65 266.89h0M93.18 301.18h0M104.25 289.36h0M150.99 265.73h0M111.9 275.36h0M106.88 362.05h0M103.41 284.86h0M93.64 295.88h0M107.92 283.48h0M104.26 282.93h0M94.01 329.56h0M121.16 272.08h0M121.05 260.85h0M98.51 298.15h0M172.6 253.77h0M135.12 268.85h0M133.56 248.89h0M113.91 280.38h0M113.89 369.64h0M97.17 354.67h0M175.53 256.91h0M170.94 262.18h0M135.61 269.54h0M108.49 278.68h0M108.74 276.44h0M139.68 265.32h0M109.07 363.61h0M159.41 242.34h0M156.79 261.46h0M145.89 266.31h0M153.34 263.81h0M130.66 259.71h0M158.24 266.11h0M109.33 283.14h0M106.83 285.69h0M107.69 365.38h0M112.2 268.21h0M115.85 370.51h0M125.7 268.21h0M95.16 325.27h0M131.67 270.72h0M132.99 263.97h0M130.29 271.02h0M100.44 293.67h0M167.28 262.7h0M109 364.63h0M173.05 262h0M136.61 263.56h0M102.72 283.64h0M177.02 258.97h0M113.36 281.51h0M149.21 261.24h0M173.59 259.64h0M93.92 322.07h0M94.84 309.84h0M93.67 319.82h0M111.46 274.32h0M146.91 257.7h0M88.95 329.44h0M102.25 288.79h0M115.97 276.31h0M141.72 268.56h0M110.64 366.63h0M108.57 363.08h0M94.25 309.33h0M112.24 259.18h0M96.3 252.72h0M111.39 272.15h0M105.32 289.55h0M165.26 230.04h0M172.72 260.3h0M117.02 370.06h0M130.71 264.56h0M170.8 261.07h0M142.9 268.29h0M124.86 257.8h0M104.07 284.5h0M171.3 264.64h0M119.92 271.79h0M98.5 290.97h0M143.34 252.09h0M111.07 366.65h0M123.59 266.88h0M155.46 259.56h0M81.58 289.32h0M128.62 270.49h0M143.17 266.32h0M177.22 264.75h0M93.76 302.94h0M136.69 269.52h0M98.02 353.15h0M166.68 258.56h0M142.56 268.38h0M116.71 279.26h0M116.9 252.97h0M118.1 268.13h0M87.37 286.16h0M174.16 259.29h0M135.73 267.87h0M161.83 251.32h0M125.56 270.23h0M98.7 297.09h0M96.45 298.2h0M118.59 271.78h0M168.67 229.63h0M157.44 264.45h0M99.84 294.54h0M157.12 266.2h0M135.92 266.46h0M102.24 291.43h0M143.93 252.91h0M167.52 263.34h0M161.37 265.64h0M102.74 355.35h0M104.56 362.44h0M95.75 339.13h0M130.51 268.95h0M112.84 269.36h0M130.59 265.58h0M172.8 247.14h0M112.41 282.7h0M94.9 304.6h0M177.6 264.42h0M119.8 273.28h0M141.97 255.1h0M172.34 250.78h0M103.05 361.04h0M89.39 335.18h0M150.49 263.84h0M153.91 261.91h0M114.57 278.57h0M115.68 274.81h0M95.97 304.95h0M137.01 265.02h0M170.27 260.3h0M102.66 355.17h0M171.66 252.1h0M100.05 365.11h0M96.03 336.37h0M159.24 259.24h0M89.07 324.98h0M119.34 259.68h0M133.88 268.2h0M98.95 288.29h0M176.85 254.17h0M99.13 352.17h0M94.6 323.07h0M91.75 341.56h0M143.81 267.35h0M121.85 262.26h0M98.72 345.17h0M168 264.39h0M174.71 249.19h0M164.71 264.23h0M160.57 258.45h0M104.24 364.4h0M94.56 325.01h0M170.76 249.7h0M90.28 310.37h0M93.48 305.72h0M96.57 280.71h0M119.72 274.07h0M144.93 266.73h0M94.64 310.18h0M153.18 240.7h0M106.4 363.3h0M110.39 276.98h0M95.26 265.88h0M169.01 264.05h0M94.9 281.83h0M138.74 267.95h0M164.11 255.92h0M119.87 274.06h0M173.03 261.76h0M119.24 276.83h0M148.01 260.3h0M107.93 284.16h0M144.87 264.28h0M176.28 266.48h0M171.45 265.33h0M126.89 263.96h0M122.33 270.31h0M141.82 263.81h0M141.52 261.97h0M114.29 270.2h0M95.38 298h0M124.57 270.43h0M102.06 355.45h0M172.04 264.35h0M137.73 266.71h0M121.02 265.92h0M122.46 274.91h0M143.9 266.05h0M103.09 279.95h0M95.72 299.11h0M158.4 264.88h0M157.04 246.33h0M142.86 258.01h0M81.36 288.21h0M107.1 241.38h0M172.21 265.38h0M98.99 284.88h0M93.91 299.89h0M100.3 288.63h0M92.05 309.81h0M141.1 268.03h0M170.62 265.03h0M98.05 351.13h0M150.7 260.11h0M92.64 307.75h0M99.95 290.25h0M143.43 252.23h0M163.48 263.22h0M104.68 286.81h0M160.78 265.91h0M116.64 370.22h0M100.06 362.5h0M99.89 292.11h0M94.49 326.04h0M106.65 274.79h0M91.69 296.43h0M126.22 271.9h0M112.3 280.18h0M94.43 326.69h0M109.27 282.79h0M99.4 297.19h0M171.53 265.55h0M154.59 261.73h0M127.84 263.73h0M94.47 314.91h0M111.36 273.15h0M97.55 298.96h0M107.51 274.13h0M167.77 261.34h0M100.83 294.59h0M150.04 265.74h0M153.28 252.04h0M155.72 259.9h0M107.93 283.04h0M146.39 257.99h0M99.28 291.8h0M165.48 259.78h0M127 272.46h0M91.56 325.5h0M84.2 288.7h0M99.96 295.42h0M97.15 303.06h0M122.5 274.07h0M116.45 271.85h0M147.06 262.24h0M175.62 258.91h0M166.23 262.39h0M176.76 262.66h0M109.53 281.37h0M115.23 275.94h0M141.46 245.7h0M172.01 264.84h0M130.07 270.85h0M101.48 290.49h0M95.72 347.93h0M135.04 260.7h0M106.5 285.98h0M146.29 254.38h0M140.59 264.48h0M149.61 266.95h0M94.56 335.19h0M168.03 253.02h0M110.45 278.95h0M137.34 267.1h0M110.73 279.18h0M175.82 244.5h0M135.25 265.07h0M175.41 250.89h0M98.06 348.13h0M125.39 272.62h0M100.01 288.6h0M132.67 266.75h0M119.4 269.79h0M100.02 294.25h0M140.6 268.36h0M176.47 262.28h0M123.99 272.17h0M126.75 264.64h0M159.29 261.06h0M113.67 262.45h0M108.41 364.8h0M86.91 343.49h0M103.17 286.92h0M89.24 300.03h0M93.87 298.08h0M95.49 284.87h0M99.03 297.26h0M122.02 267.26h0M136.04 241.1h0M156.86 259.82h0M107.4 365.77h0M116.43 268.04h0M110.47 283.54h0M91.9 273.88h0M148.83 267.13h0M97.01 301.43h0M107.16 273.48h0M97.59 299.23h0M108.9 281.11h0M119.3 257.56h0M142.84 260.17h0M91.19 344.09h0M94.46 288.83h0M125.24 263.17h0M157.74 254.68h0M112.56 281.33h0M95.01 320.59h0M171.39 242.8h0M106.67 288.08h0M135.48 270.04h0M148.46 264.24h0M156.87 264.06h0M63.1 248.8h0M76.9 233.6h0M82 323h0M87.5 311h0M82.5 333h0M117.9 228.6h0M122.9 225.3h0M132.8 226.9h0M131.5 233h0M144.8 229.3h0M161.2 230.1h0M162.3 229.3h0M156.4 236.7h0M140.9 238.5h0M128.2 243.9h0M115 245.7h0M174 239h0M176.2 247h0M170 232h0M168 244h0M112 252h0M106 258h0M98 272h0M93 287h0M92.5 281h0M88 300h0" stroke="#0000ff" stroke-width="2.3" stroke-linecap="round" fill="none"/>
<path d="M216.8 270h0" stroke="#ff0000" stroke-width="2.3" stroke-linecap="round" fill="none"/>
<line x1="178.45" y1="215" x2="178.45" y2="432.4" stroke="#3a3a3a" stroke-width="0.8"/>
<line x1="210.15" y1="215" x2="210.15" y2="432.4" stroke="#3a3a3a" stroke-width="0.8"/>
<line x1="52.6" y1="372.4" x2="277" y2="372.4" stroke="#5a5a5a" stroke-width="0.9"/>
<text x="49.4" y="425.9" font-size="6.8" text-anchor="end" fill="#4d4d4d">0</text>
<text x="49.4" y="374.9" font-size="6.8" text-anchor="end" fill="#4d4d4d">2</text>
<text x="49.4" y="323.9" font-size="6.8" text-anchor="end" fill="#4d4d4d">4</text>
<text x="49.4" y="272.9" font-size="6.8" text-anchor="end" fill="#4d4d4d">6</text>
<text x="49.4" y="221.9" font-size="6.8" text-anchor="end" fill="#4d4d4d">8</text>
<text x="115.05" y="441.9" font-size="6.3" text-anchor="middle" fill="#4d4d4d">-0.5</text>
<text x="194.3" y="441.9" font-size="6.3" text-anchor="middle" fill="#4d4d4d">0.0</text>
<text x="273.55" y="441.9" font-size="6.3" text-anchor="middle" fill="#4d4d4d">0.5</text>
<text x="165.7" y="449.8" font-size="7" text-anchor="middle" fill="#222">DNA methylation difference</text>
<text x="43.3" y="324" font-size="7" text-anchor="middle" fill="#222" transform="rotate(-90 43.3 324)">-log10(P-value)</text>
<text x="172.3" y="208.6" font-size="11.2" text-anchor="middle">Ctrl vs 5-AZA</text>
<text x="287.9" y="308.9" font-size="7" fill="#333">Methylation</text>
<path d="M293.7 318.4h0" stroke="#0000ff" stroke-width="2.6" stroke-linecap="round" fill="none"/>
<text x="302.9" y="320.6" font-size="5.7" fill="#333">Hypo</text>
<path d="M293.7 329.6h0" stroke="#ff0000" stroke-width="2.6" stroke-linecap="round" fill="none"/>
<text x="302.9" y="331.8" font-size="5.7" fill="#333">Hyper</text>
<path d="M293.7 340.8h0" stroke="#636363" stroke-width="2.6" stroke-linecap="round" fill="none"/>
<text x="302.9" y="343" font-size="5.7" fill="#333">NO</text>
<text x="330.2" y="214.5" font-size="22" font-weight="bold">e</text>
<line x1="390.05" y1="218.4" x2="390.05" y2="435" stroke="#efefef" stroke-width="0.35"/>
<line x1="432.8" y1="218.4" x2="432.8" y2="435" stroke="#e6e6e6" stroke-width="0.55"/>
<line x1="475.55" y1="218.4" x2="475.55" y2="435" stroke="#efefef" stroke-width="0.35"/>
<line x1="518.3" y1="218.4" x2="518.3" y2="435" stroke="#e6e6e6" stroke-width="0.55"/>
<line x1="561.05" y1="218.4" x2="561.05" y2="435" stroke="#efefef" stroke-width="0.35"/>
<line x1="370.3" y1="426.3" x2="594.4" y2="426.3" stroke="#e6e6e6" stroke-width="0.55"/>
<line x1="370.3" y1="400.7" x2="594.4" y2="400.7" stroke="#efefef" stroke-width="0.35"/>
<line x1="370.3" y1="375.1" x2="594.4" y2="375.1" stroke="#e6e6e6" stroke-width="0.55"/>
<line x1="370.3" y1="349.5" x2="594.4" y2="349.5" stroke="#efefef" stroke-width="0.35"/>
<line x1="370.3" y1="323.9" x2="594.4" y2="323.9" stroke="#e6e6e6" stroke-width="0.55"/>
<line x1="370.3" y1="298.3" x2="594.4" y2="298.3" stroke="#efefef" stroke-width="0.35"/>
<line x1="370.3" y1="272.7" x2="594.4" y2="272.7" stroke="#e6e6e6" stroke-width="0.55"/>
<line x1="370.3" y1="247.1" x2="594.4" y2="247.1" stroke="#efefef" stroke-width="0.35"/>
<line x1="370.3" y1="221.5" x2="594.4" y2="221.5" stroke="#e6e6e6" stroke-width="0.55"/>
<path d="M501.2 304L506 302.5L511.5 306L515.5 311L516.8 320L517.6 335L519.3 350L521 365L522 375L523.5 388L526 394L534.6 397.8L543.5 398.7L561.3 399.6L575.6 400.5L580 402L575.6 403.4L561.3 404L552.4 405.4L543.5 408.5L536.4 413.5L531 418.8L525.7 422.4L518 424.6L510 423L501.2 420.3L493 419.3L487 417L481.5 414.2L472 409.5L462.8 404.5L455 399.5L446.4 394.5L438 389.5L430 384.5L425 379.8L421 375.1L501.2 375.1Z" fill="#636363"/>
<path d="M500.7 303L490 302.5L480 303L470 304L460 305L450 306L440 307L430 309L420 311.5L412 315L405 320L400 326L397 332L397.5 342L401 350L405 357L410.5 364L415.5 370L420.7 375.1L500.7 375.1Z" fill="#0000ff"/>
<path d="M461.94 310.52h0M420.98 369.14h0M451.86 309.53h0M401.68 348h0M459.44 308.66h0M459.8 309.33h0M406.2 322.22h0M487.39 304.68h0M416.24 365.98h0M480.62 306h0M413.94 363.84h0M479.44 303.12h0M413.19 317.9h0M487.27 303.1h0M400.75 338.13h0M493.26 303.15h0M423.11 313.35h0M453.21 305.91h0M484.23 307.11h0M412.82 318.64h0M441.11 308.58h0M451.88 306.75h0M443.97 309.14h0M428.91 310.38h0M429.58 311.08h0M412.94 365.98h0M478.33 304.27h0M418.93 372.08h0M448.76 306.9h0M497.94 305.53h0M428.26 309.74h0M476 304.1h0M411.56 316.86h0M441.77 308.45h0M397.59 332.53h0M490.35 302.84h0M399.58 346.42h0M406.89 357.67h0M454.79 307.09h0M415.72 314.54h0M398.52 330.15h0M487.26 303.24h0M409.85 362.98h0M413.91 365.97h0M412.12 319.25h0M475.91 307.25h0M466.32 306.18h0M400.47 325.73h0M491.32 302.71h0M400.59 344.07h0M439.04 307.57h0M415.72 317.28h0M464.53 307.62h0M408.97 361.16h0M434.68 308.38h0M464.5 304.79h0M405.98 356.49h0M485.49 305.6h0M416.4 364.35h0M409.44 317.19h0M415.81 369.55h0M496.28 304.24h0M398.55 339.14h0M401.53 333.8h0M400.04 329.67h0M404.33 323.29h0M402.37 346.57h0M495.01 305.81h0M401.96 346.07h0M465.88 307.02h0M407.97 360.41h0M409.31 319.53h0M408.34 318.35h0M408.28 360.23h0M403.08 349.17h0M407.07 357.15h0M467.22 305.45h0M411.29 362.54h0M450.13 309.41h0M419.13 315.78h0M399.54 344.75h0M398.8 328.98h0M399.74 330.01h0M399.68 346.68h0M408.95 352.51h0M416.37 368.29h0M493.04 303.13h0M404.51 354.95h0M419.74 313.99h0M417.72 367.34h0" stroke="#ffffff" stroke-width="1.1" stroke-linecap="round" fill="none"/>
<path d="M465.95 408.71h0M574.69 396.37h0M578.3 399.83h0M545.56 396.08h0M561.82 398.77h0M540.65 413.35h0M534.68 395.38h0M484.85 421.9h0M505.41 423.34h0M517.65 329.39h0M526.71 379.83h0M571.54 395.14h0M521.13 363.14h0M486.48 416.91h0M529.82 394.71h0M532.45 421.35h0M569.17 396.51h0M540.82 398.16h0M517.12 320.64h0M483.2 415.61h0M555.93 405.38h0M469.63 410h0M486.45 420.53h0M454.06 399.83h0M484.84 417.29h0M573.04 403.66h0M560.78 404.27h0M519.91 343.86h0M478.36 415h0M446.72 395.36h0M506.38 424.03h0M520.16 343.8h0M519.99 425.67h0M559.07 395.1h0M579.39 401.5h0M563.34 404.71h0M554.52 409.68h0M532.38 396.35h0M516.73 316.33h0M500.16 420.27h0M519.36 341.83h0M520.12 352.78h0M541.6 393.01h0M559.15 398.48h0M576.46 406.82h0M570.53 404.42h0M575.69 400.17h0M489.61 418.38h0M569.2 399.29h0M528.21 379.41h0M471.28 412.81h0M425.57 382.85h0M531.39 418.63h0M523.34 357.21h0M554.44 405.26h0M433.88 392.32h0M432.74 397.37h0M541.47 410.03h0M522.97 362.9h0M442.97 395.24h0M515.92 303.91h0M438.65 390.09h0M494.45 423.07h0M534.89 418.12h0M492.53 419.62h0M475.69 413.93h0M518.2 426.3h0M540.6 392.05h0M518.21 320.5h0M419.19 381.46h0M551.92 409.33h0M525.44 351.58h0M518.37 326.05h0M584.12 399.87h0M482.83 415.34h0M449.76 396.91h0M484.75 416.56h0M480.29 416.21h0M533.46 421.67h0M526.1 422.31h0M520.3 329.11h0M440.59 391.49h0M513.62 308.63h0M520.74 354.39h0M525.58 388.97h0M539.24 412.05h0M577.34 403.37h0M538.3 396.35h0M503.02 302.5h0M464.81 405.8h0M519.42 345.4h0M519.14 333.8h0M515.49 425.92h0M465.14 406.19h0M566.91 396.04h0M501.82 421.25h0M513.4 304.83h0M522.62 326.82h0M427.69 384.04h0M547.74 394.99h0M524.63 373.63h0M522.69 377.24h0M522.65 351.23h0M527.68 426.2h0M450.32 397.37h0M507.49 301.32h0M577.35 398.5h0M431.11 388.64h0M541.45 412.01h0M517.44 310.45h0M533.81 416.6h0M461.25 404.6h0M517.62 425.68h0M518.47 333.06h0M481.11 417.01h0M542.54 410.4h0M543.25 397.39h0M535.6 414.64h0M518.62 314.78h0M521.07 352.13h0M450.99 397.27h0M520.04 427.81h0M429.3 384.11h0M508.66 303.34h0M537.59 413.6h0M545.44 397.71h0M529 421.24h0M521.5 360.38h0M524.53 387.86h0M464.7 406.28h0M523.32 372.19h0M558.51 404.61h0M525.2 423.51h0M526.02 389.72h0M542.2 409.56h0M489.31 418.04h0M574.34 397.34h0M522.97 379.93h0M435.99 390.95h0M522.32 351.13h0M511.24 424.22h0M565.11 403.92h0M532.16 396.49h0M519.38 339.88h0M541.2 414.77h0M460.33 405.2h0M516.14 307.16h0M448.16 397.82h0M477.99 416.92h0M538.33 412.64h0M518.5 337.45h0M561.96 399.42h0M481.14 414.07h0M539.51 415.74h0M469.54 408.33h0M520.02 347.55h0M530.86 419.19h0M551.6 406.39h0M514.31 424.08h0M517.93 336.08h0M565.88 405.37h0M498.01 421.17h0M506.74 301.04h0M525.6 391.33h0M574.18 400.15h0M564.78 404.21h0M579.76 402.15h0M516.04 314.51h0M507.81 303.01h0M506.91 299.3h0M525.03 422.88h0M556.54 398.23h0M537.5 396.85h0M519.09 345.89h0M566.01 407.23h0M522.92 381.74h0M538.69 412.1h0M557.89 405.6h0M518.51 337.73h0M514.58 302.68h0M540.06 415h0M474.32 411.26h0M536.87 397.35h0M550.66 397.87h0M511.67 426.12h0M542.33 409.81h0M524.69 423.13h0M434.13 392.39h0M487.08 418.98h0M503.75 297.3h0M462.67 407.36h0M506.4 424.21h0M503.62 302.63h0M463.24 405.36h0M445.13 398.86h0M519.06 347.05h0M519.87 345.82h0M525.06 366.05h0M519.09 343.83h0M508.17 423.41h0M526.73 390.12h0M518.18 328.77h0M505.96 425.51h0M495.62 421.08h0M517.64 326.57h0M487.31 420.88h0M523.84 381.06h0M527.88 421.79h0M441.46 391.69h0M519.34 347.44h0M559.97 405.81h0M440.21 391.1h0M547.62 394.41h0M515.49 304.65h0M519.59 339.7h0M573.29 400.23h0M490.51 418.66h0M438.32 391.67h0M427.52 382.93h0M433.94 388.27h0M522.75 369.89h0M497.48 420.37h0M499.59 421.29h0M521.57 370.2h0M520.52 341.06h0M442.63 392.74h0M561.88 399.55h0M516.58 306.25h0M576.14 407.32h0M464.17 405.7h0M487.27 417.31h0M547.56 408.15h0M521.04 364.24h0M573.59 400.33h0M525.73 345.98h0M567.38 399.66h0M474.63 411.4h0M506.07 421.81h0M543.15 396.87h0M531.51 396.12h0M525.58 386.37h0M517.32 321.08h0M521.36 365.54h0M490.14 422.21h0M437.21 390.03h0M542.79 409.21h0M505.89 299.72h0M536.91 397.93h0M540.55 412.28h0M569.92 397.14h0M575.02 400.36h0M528.4 392.93h0M521.33 350.14h0M535.61 418.04h0M450.61 397.61h0M425.3 381.87h0M521.8 425.3h0M518.91 345.59h0M515.22 424.89h0M521.35 365.31h0M547.47 412.66h0M564.09 404.24h0M579.85 401.92h0M474.4 411.85h0M443.71 397.96h0M468.77 410.58h0M535.9 416.14h0M572.09 406.13h0M541.84 410.49h0M509.22 427.11h0M522.35 374.25h0M558.22 405.9h0M570.3 403.73h0M428.82 385.29h0M437.6 390.53h0M536.89 397.99h0M522.52 425.05h0M565.66 397.87h0M510.27 424.98h0M523.49 383.35h0M448.04 398.67h0M429.25 386.89h0M523.69 365.57h0M454.17 400.94h0M519.23 337.04h0M510.29 304.98h0M513.05 305.04h0M446.12 394.63h0M519.87 354.68h0M496.04 421.58h0M453.67 399.52h0M443.96 395.93h0M517.34 318.36h0M566.12 394.1h0M489.74 420.77h0M453.6 400.47h0M498 421.58h0M542.07 396.72h0M515.21 425.85h0M451.14 397.68h0M484.29 418.73h0M459.08 411.27h0M517.8 321.57h0M524.09 381.8h0M444.37 393.81h0M541.85 397.19h0M439.28 398.11h0M522.92 374.64h0M517.61 425.53h0M505.67 299.31h0M535.47 397.83h0M577.89 391.48h0M514.28 308.76h0M552.29 408.67h0M571.55 409.46h0M538.28 396.34h0M448.72 398.67h0M516.88 321.04h0M510.83 304.26h0M449.48 399.99h0M577.91 396.26h0M525.56 391.99h0M558.77 404.61h0M517.39 330.2h0M497.59 421.74h0M546.67 393.06h0M570.57 397.22h0M545.41 393.56h0M543.48 415.85h0M518.44 313.48h0M520.96 342.5h0M515.8 312.77h0M568.62 403.86h0M564.23 406.14h0M424.94 386.29h0M541.94 412.35h0M481.39 416.32h0M578.45 407.99h0M465.85 407.8h0M523.04 380.78h0M516.24 314.86h0M520.06 329.97h0M579.86 405.9h0M515.57 309.53h0M499.79 422.25h0M458.99 408.27h0M521.87 339.01h0M434.61 388.11h0M439.75 391.92h0M555.41 397.86h0M429.56 384.24h0M434.86 391.34h0M540.37 413.85h0M518.91 336.31h0M527.89 358.93h0M439.92 391.5h0M542.17 411.8h0M519.28 346.28h0M549.3 393.25h0M493.18 419.5h0M554.76 405.51h0M578.44 399.79h0M580.57 402.73h0M527.57 369.28h0M471.02 412.36h0M521.4 366.19h0M524.41 386.52h0M561.13 404.71h0M545.2 407.94h0M522.73 368.56h0M546.35 398.68h0M519.03 344.69h0M573.87 410.6h0M447.91 396.92h0M433.37 388.04h0M510.45 423.25h0M503.58 421.11h0M558.05 398.5h0M519.85 337.52h0M422.02 380.23h0M555.55 413.41h0M571.99 399.92h0M537.54 414.31h0M520.14 341.04h0M536.1 414.32h0M569.09 399.23h0M547.08 409.2h0M552.71 399.13h0M512.74 428.78h0M545.52 409.04h0M498.56 422.28h0M514.45 308.4h0M485.52 417.25h0M469.7 408.43h0M537.13 413.93h0M475.58 413.08h0M526.47 375.61h0M518.62 323.05h0M521.11 322.12h0M537.43 393.3h0M529.21 394.86h0M502.87 421.09h0M536.62 413.93h0M531.5 419.51h0M535.87 396.03h0M518.01 338.44h0M574.02 396.53h0M481.65 414.78h0M471.29 409.5h0M436.35 392.94h0M538.38 396.3h0M430.45 387h0M439.92 390.97h0M525.22 376.08h0M518.63 316.18h0M437.55 394.22h0M545.43 397.31h0M520.34 346.07h0M534.7 394.71h0M573.9 398.03h0M522.33 366.09h0M440.84 392.1h0M505.09 300.47h0M477.33 412.67h0M427.05 385.72h0M507.78 426.2h0M480.89 416.35h0M520.45 353.98h0M539.11 394.34h0M516.12 425.11h0M443.65 393.84h0M450.71 398.31h0M508.65 303.02h0M531.79 420.17h0M466.5 407.58h0M533.37 397.2h0M517.53 321.57h0M454.47 401.41h0M521.58 364.88h0M525.59 389.81h0M470.73 409.19h0M447.59 400.05h0M426.19 383.38h0M554.36 396.92h0M449.36 396.71h0M533.35 396.93h0M445.17 394.59h0M580.44 401.27h0M519.3 343.98h0M519.29 345.75h0M518.19 328.77h0M508.26 303.78h0M517.69 326.25h0M503.27 421.01h0M523.03 366.59h0M483.14 417.59h0M550.49 410.04h0M564.08 396.62h0M515.77 424.6h0M517.33 329.76h0M517.39 315.3h0M546.68 392.87h0M562.78 405.06h0M475.17 411.09h0M575.89 397.03h0M566.28 408.48h0M509.58 302.95h0M534.5 397.32h0M518.77 336h0M558.71 407.07h0M568.9 398.67h0M520.34 356.31h0M489.94 420.15h0M574.99 394.48h0M460.9 404.31h0M523.02 426.8h0M520.33 356.73h0M526.94 422.26h0M507.4 298.75h0M455.62 403.1h0M584.5 385.2h0M568.4 396.8h0M557.7 395.9h0M539 387.9h0M533.7 388.4h0M526.5 359.3h0M521.2 347.4h0M525.7 318.9h0M521.2 324.9h0M533.3 370h0M532.5 372h0M567.6 415h0M570 415.2h0M572.9 415h0M551.5 415.5h0M582.7 402.1h0M407.9 389.5h0M418.4 398.1h0M410.2 378.3h0M417.2 379.4h0M422 388.8h0M424 388.8h0M426.6 388.8h0M502.5 242.5h0M506 240.5h0M507 259h0M508 261h0M510.5 266h0M505 284h0M508.5 287h0M512 291h0M503 296h0M514 298h0M510.83 286.69h0M506.95 296.38h0M513.08 274.93h0M506.93 284.47h0M507.33 298.52h0M512.02 305.86h0M503.36 296.05h0M510.79 304.03h0M507.53 299.01h0M505.24 305.49h0M502.99 292.75h0M506.01 295.58h0M505.52 294.68h0M504.2 304.74h0M510.5 290.69h0M506.57 285.35h0M511.9 300.07h0M509.45 280.28h0M503.02 297.97h0M509.26 302.08h0M509.38 286.52h0M504.51 295.43h0M504.75 276.19h0M509.77 291.74h0M510.93 295.76h0M502.8 277.08h0" stroke="#636363" stroke-width="2.3" stroke-linecap="round" fill="none"/>
<path d="M395.29 336h0M419.47 291.17h0M407.16 311.87h0M403.42 311.08h0M397.02 308.88h0M489.68 296.56h0M376.55 296.49h0M412.99 308.67h0M397.3 343.52h0M401.17 324.39h0M410.01 312.75h0M398.97 323.42h0M499.43 302.51h0M417.16 301.96h0M399.37 353.34h0M423.37 309.26h0M474.27 303.06h0M419.61 282.97h0M383.66 319.95h0M499.76 274.18h0M486.87 286.06h0M402.22 360.95h0M448.4 299.74h0M492.7 293.35h0M495.73 299.34h0M424.2 297.16h0M456.23 288.85h0M398.2 328.74h0M488.87 292.04h0M453.64 296.99h0M402.37 355.54h0M378.11 302.65h0M491.3 300.79h0M387.22 340.7h0M413.02 309.77h0M417.25 373.21h0M429.91 307.59h0M440.34 295.45h0M486.33 300.66h0M497.8 291.3h0M396.19 337.42h0M396.06 297.71h0M462.13 304.73h0M443.6 290.71h0M405.5 299.42h0M494.98 297h0M401.86 322.88h0M391.5 313.89h0M385.36 314.24h0M414.61 311.2h0M399.92 316.95h0M397.68 329.74h0M435.84 304.5h0M461.28 294h0M437.95 305.95h0M484.58 302.37h0M405.4 316.19h0M389.64 308.89h0M419.6 308.32h0M434.14 305.82h0M467.67 300.18h0M447.97 291.26h0M465.1 298.19h0M407.96 365.67h0M470.12 293.96h0M453.12 305.31h0M398.77 325.99h0M397.95 326.87h0M475.66 302.54h0M478.7 299.02h0M403.04 320.31h0M392.05 314.7h0M436.37 293.54h0M447.56 303.59h0M478.8 293.38h0M495.76 291.61h0M401.88 323.03h0M490.6 297.82h0M488.35 296.63h0M396.73 347.88h0M489.58 300.01h0M469.56 290.2h0M496.73 286.49h0M417.41 308.88h0M405.3 313.92h0M462.2 299.46h0M439.5 302.6h0M399.16 348.44h0M414 310.34h0M467.29 300.36h0M390.49 292.14h0M481.63 301.18h0M408.5 316.5h0M396.7 339.71h0M397.04 340.31h0M412.82 308.64h0M499.83 289.2h0M400.47 350.47h0M404.06 366.58h0M496.02 277.4h0M487.71 290.83h0M396.69 337.64h0M400.22 322.92h0M393.82 332.14h0M489.36 301.73h0M463.92 301.19h0M402.47 319.28h0M472.61 302.91h0M453.34 297.63h0M452.35 299.06h0M405.87 372.47h0M480.37 282.26h0M397.14 335.57h0M475.48 301.57h0M425.45 297.79h0M463.65 301.48h0M472.66 287.62h0M493.28 291.41h0M425.96 306.21h0M468.49 298.27h0M400.05 307.91h0M490.27 291.69h0M490.94 286.17h0M392.66 335.03h0M444.46 293.2h0M459.66 299.73h0M402.59 277.73h0M401.99 351.85h0M416.52 311.26h0M406.28 309.56h0M498.78 296.62h0M392.36 333.02h0M373.23 307.53h0M418.18 298.3h0M449.32 306.01h0M427.54 298.72h0M427.01 304.75h0M435.25 300.9h0M484.69 298.22h0M460.46 292.04h0M463.4 300.73h0M415.9 312.92h0M409.23 306.11h0M397.45 342.1h0M397.2 339.67h0M496.67 266.97h0M477.56 298.6h0M437.37 303.75h0M423.52 299h0M394.94 325.19h0M405.89 318.67h0M406.26 359.78h0M469.14 294.79h0M399.78 320.1h0M445.24 300.28h0M481.3 286.14h0M414.53 310.7h0M397.9 322.99h0M455.02 301.52h0M490.35 288.44h0M436.25 304.76h0M494.44 297.36h0M437.8 294.03h0M475.25 299.78h0M401.43 321.01h0M461.68 301.19h0M446.91 286.22h0M409.52 314.87h0M392.49 327.92h0M403.28 357.74h0M438.28 291.57h0M474.33 297.83h0M433.45 307.69h0M416.36 371.32h0M395.23 335.78h0M413.38 367.77h0M402.91 316.2h0M427.77 308.26h0M458.48 296.72h0M398.06 326.33h0M421.58 300.61h0M449.32 305.83h0M392.75 321.1h0M471.44 292.36h0M453.07 305.14h0M455.04 297.77h0M409.26 283.56h0M488.71 291.8h0M446.01 302.3h0M500.06 292.77h0M414.99 313.28h0M477.59 303.09h0M449.62 305.99h0M429.37 306.22h0M475.49 302.74h0M402.67 316.38h0M375.95 309.03h0M422.95 309.64h0M409.81 366.67h0M400.6 322.67h0M413.27 369.88h0M396.22 316.6h0M425.51 308.12h0M490.27 287.7h0M453.07 294.14h0M395.08 332.91h0M436.49 302.59h0M411.2 300.55h0M472.09 303.67h0M394.17 327.73h0M472.65 287.81h0M445.76 280.92h0M475.22 302.81h0M428.21 280.86h0M461.39 299.45h0M446.05 300.65h0M431.6 297.25h0M401.19 324.47h0M490.35 296h0M490.44 296.08h0M398.75 317.08h0M385.81 313.61h0M405.07 316.14h0M405.7 306.92h0M394.74 345.6h0M394.48 333.82h0M455.66 299.56h0M446.91 301.48h0M394.24 327.88h0M388.63 329.63h0M386.63 328.76h0M495.75 287.7h0M487.32 296.18h0M440.33 300.87h0M474.24 281.49h0M420.32 288.81h0M477.11 302.18h0M485.61 288.12h0M423.51 291.44h0M457.93 297.29h0M412.05 311.95h0M397.35 291.41h0M478.57 303.07h0M423.76 303.59h0M414.61 297.66h0M435.13 303.22h0M420.26 302.31h0M395.15 359.46h0M389.95 323.99h0M455.51 299.46h0M406.34 315.6h0M464.51 294.48h0M404.4 319.6h0M384.06 297.13h0M411.69 305.34h0M444.62 290.89h0M483.44 299.96h0M391.38 309.49h0M415.24 309.5h0M399.06 323.09h0M471.12 278.9h0M481.21 294.25h0M405.03 368h0M394.03 328.5h0M492.92 295.34h0M490.94 298.46h0M443.97 297.26h0M459.32 301.18h0M413.25 313.5h0M453.15 305h0M393.77 344.17h0M438.2 298.98h0M394.45 354.69h0M422.5 305.42h0M449.17 303.38h0M462.34 286.37h0M404.4 360.4h0M407.95 308.55h0M403.8 317.14h0M486.86 297.24h0M495.35 293.31h0M457.99 302.72h0M451.33 301.91h0M399.17 321.91h0M404.69 320.07h0M460.5 296.72h0M404.94 306.62h0M388.01 312.76h0M399.79 310.11h0M397.07 327.78h0M433.78 305.38h0M390.71 300.85h0M484.92 293.21h0M490.56 300.88h0M470.4 297.18h0M453.26 299.69h0M398.78 346.79h0M424.69 300.78h0M454.99 303.25h0M478.63 303.03h0M462.65 304.38h0M450.54 298.57h0M413.42 311.86h0M495.76 287.7h0M419.95 310.75h0M479.53 280.02h0M469.79 303.21h0M451.27 297.82h0M492.84 295.4h0M464.95 302.81h0M496.19 292.84h0M466.64 277.69h0M425.67 295.09h0M395.72 334.32h0M409.8 303h0M459.01 301.08h0M447.33 289.44h0M411.44 296.61h0M481.6 299.91h0M470.2 298.24h0M405.37 300.26h0M449.29 305.93h0M400.56 316.43h0M400.24 351h0M412.05 302.32h0M447.57 301.94h0M413.27 283.77h0M488.6 278.39h0M457.86 288.44h0M402.49 314.11h0M408.51 362.31h0M421.04 296.95h0M425.23 309.32h0M498.73 299.9h0M409.01 367.09h0M396.32 332.34h0M420 309.92h0M415.27 309.75h0M441.61 305.02h0M437.93 294.18h0M419.47 310.43h0M410.59 276.69h0M398.12 317.54h0M494.6 289.05h0M393.98 323.91h0M488.74 296.21h0M394.1 330.85h0M494.78 285.47h0M399.3 323.45h0M421.19 295.69h0M402.27 313.94h0M415.23 313.25h0M478.98 288.86h0M396.32 345.66h0M394.21 321.14h0M420.73 311h0M423.25 309.02h0M396.25 332.11h0M485.8 287.52h0M494.74 299.77h0M395.74 332.9h0M439.72 295.4h0M469.41 267.99h0M417.19 310.15h0M500.17 301.89h0M488.86 284.68h0M396.73 311.59h0M418.38 292.55h0M444.26 303.01h0M440.02 298.82h0M414.66 369.81h0M419.31 302.72h0M412.24 370.4h0M407.13 314.59h0M498.58 293.61h0M454.78 304.18h0M442.77 303.18h0M424.21 307.68h0M429.14 297.77h0M440.4 306.85h0M391.89 339.36h0M403.45 318.35h0M485.24 301.26h0M396.55 326.87h0M402.28 308.39h0M410.42 300.05h0M468.14 296.04h0M469.95 291.34h0M394.68 341.5h0M494.27 301.59h0M390.69 307.07h0M416.59 372.92h0M496.09 290.11h0M422.49 308.53h0M409.74 366.52h0M480.63 298.06h0M419.54 306.52h0M480.95 294.66h0M482.72 276.21h0M399.79 348.8h0M395.05 328.32h0M422.81 297.72h0M395.7 328.65h0M431.6 306.9h0M394.39 326.13h0M427.04 300.03h0M472.48 301.12h0M433.45 302.32h0M489.22 293.51h0M386.28 347.53h0M422.05 310.44h0M380.1 323.95h0M475.69 301.69h0M410.09 306.41h0M452.92 291.8h0M436.53 302.19h0M494.88 302.41h0M394.72 293.09h0M396.29 304.48h0M494.06 298.82h0M440.84 306h0M382.08 315.86h0M391.03 324.6h0M408.6 314.4h0M408.27 315.48h0M444.47 305.62h0M416.65 293.06h0M420.06 297.63h0M389.19 321.86h0M460.24 290.58h0M472.8 303.55h0M466.43 300.3h0M499.55 278.82h0M423.17 291.85h0M481.21 294.3h0M443.95 306.18h0M398.08 352.57h0M449.48 293.17h0M489.22 297.42h0M398.19 300.23h0M421.12 309.87h0M403.74 313.96h0M488.02 288.56h0M490.37 290.86h0M410.65 308.07h0M392.28 329.45h0M471.99 294.06h0M414.6 299.2h0M498.7 288.66h0M402.61 356.67h0M436.88 298.6h0M430.96 288.19h0M481.8 296.22h0M400.4 303.61h0M431.93 307.53h0M476.63 292.96h0M417.39 305.69h0M457.29 301.67h0M464.73 302.46h0M455.4 304.44h0M453.82 300.06h0M396.56 312.84h0M431.29 307.38h0M470.05 297.84h0M454.1 298.3h0M452.11 295.96h0M404.55 358.11h0M482.37 301.74h0M449.82 304.22h0M464.25 295.51h0M446.46 303.55h0M419.95 305.42h0M497.86 299.33h0M421.53 303.78h0M486.29 299.87h0M405.73 313.53h0M483.46 295.37h0M402.79 356.03h0M377.55 318.08h0M499.82 284.74h0M386.57 342.55h0M480.31 277.53h0M435.53 307.36h0M379.17 313.38h0M495.71 300.77h0M416.64 304.22h0M425.27 301.41h0M462.99 300.35h0M405.12 357.35h0M414.03 312.95h0M425.29 285.36h0M457.85 294.82h0M466.02 295.38h0M457.59 304.3h0M406.46 303.41h0M449.88 297.65h0M464.78 297.54h0M406.44 363.71h0M462.36 303.69h0M452.77 304.36h0M446.99 288.26h0M404.44 356.58h0M408.51 308.88h0M443.18 304.72h0M479.91 293.51h0M475.59 291.25h0M482.95 286.64h0M472.9 303.06h0M402.57 302.34h0M403.82 297.6h0M402.1 355.7h0M432.94 298.76h0M394.93 350.03h0M447.84 279.98h0M480.33 301.21h0M397.19 304.06h0M414.4 308.16h0M411.98 314.84h0M488.59 301.58h0M444.9 304.6h0M387.68 324.16h0M499.4 271.55h0M402.87 311.76h0M470.44 299.44h0M436.63 306.14h0M427.47 299.97h0M407.82 363h0M470.66 302.44h0M437.28 306.13h0M411.17 314.62h0M416.43 308.85h0M439.12 301.73h0M489.59 301.9h0M416.76 308.42h0M433.47 306.76h0M396.81 331.45h0M402.08 322.89h0M402.68 353.17h0M395.41 314.74h0M423.96 309.06h0M396.92 342.1h0M421.26 276.32h0M430.47 298.79h0M489.14 275.16h0M446.91 293.23h0M467.95 297.31h0M451 299.41h0M410.49 311.65h0M474.57 296.74h0M414.21 304.85h0M397.06 366.78h0M476.64 288.72h0M415.57 308.67h0M455.94 302.32h0M429.94 298.97h0M476.74 299.26h0M448.79 302.66h0M426.49 308.91h0M425.99 294.37h0M394.27 331.31h0M497.35 291.51h0M473.27 299.75h0M437.99 307h0M483.4 294.32h0M465.27 284.74h0M401.96 357.95h0M394.31 319.63h0M399.39 346.68h0M496.09 289.38h0M498.81 301.35h0M488.86 297.78h0M397.98 299.7h0M400.08 321.93h0M401.38 322.15h0M406.67 360.41h0M401.44 319.1h0M435.08 300.83h0M407.86 370.4h0M416.55 311.74h0M494.83 302.55h0M447.79 298.85h0M412.91 292.59h0M482.47 279.79h0M436.11 305.12h0M441.87 293.84h0M465.03 293.01h0M445.76 302.71h0M411.15 367.58h0M432.99 306.95h0M494.55 300.31h0M427.26 308.64h0M476.1 297.25h0M393.68 327.65h0M411.06 365.73h0M397.47 310.92h0M452.03 301.21h0M459.7 302.39h0M492.68 289.34h0M393.17 326.48h0M416.3 306.79h0M419.36 295.93h0M476.46 302.14h0M433.65 304.46h0M434.77 306.91h0M465.7 301.19h0M454.68 280.99h0M412.86 370.12h0M478.13 299.88h0M433.32 299.93h0M443.83 304.39h0M411.7 305.35h0M395.11 341.92h0M441.77 298.6h0M482.08 291.59h0M402.54 355.22h0M397.38 323.68h0M398.02 322.5h0M492.99 296.24h0M469.97 302.35h0M442.95 303.58h0M411.5 368.14h0M419.47 374h0M494.66 296.17h0M426.04 294.91h0M455.7 293.9h0M406.59 359.38h0M390.08 315.13h0M446.46 294.7h0M408.3 362.64h0M388.71 322.11h0M378.79 309.96h0M428.29 294.26h0M396.58 338.35h0M405.99 364.24h0M417.12 312.34h0M428.7 279.1h0M446.64 300.99h0M491.53 301.39h0M432.28 294.1h0M489.2 301.8h0M392.42 331.58h0M431.9 304.4h0M410.48 314.35h0M456.37 303.1h0M396.99 363.56h0M471.74 298.26h0M406.49 310.04h0M463.75 301.94h0M494.69 284.34h0M459.49 297.18h0M426.51 282.13h0M485.01 301.93h0M431.81 306.99h0M435.47 293.16h0M498.48 290.86h0M422.98 286.9h0M456.92 281.08h0M444.8 302.69h0M413.99 309.74h0M454.82 303.01h0M474.85 300.27h0M489.52 296.07h0M400.69 320.75h0M495.71 301.66h0M413.52 295.24h0M443.7 289.12h0M486.35 299.13h0M438.54 301.68h0M419.37 311.48h0M398.52 361.55h0M482.95 302.74h0M408.16 363.49h0M469.98 301.89h0M485.96 298.27h0M386.42 330.75h0M391.1 319.2h0M414.67 308.23h0M414.35 300.33h0M401.71 355.79h0M449.17 301.19h0M466.27 301.07h0M404.19 306.39h0M491.65 302.11h0M476.44 283.15h0M399.54 308.68h0M447.82 302.44h0M485.01 301.14h0M380.98 318.24h0M480.02 282.44h0M443.19 300.73h0M418.16 372.96h0M435.79 305.93h0M456 305.22h0M396.3 300.67h0M395.71 315.1h0M418.48 307.92h0M433.51 306.42h0M442.92 289.14h0M403.95 310.38h0M500.37 302.61h0M380.3 232.8h0M405.8 247.3h0M407.5 273.8h0M435.3 259.9h0M457.6 247.8h0M478.5 243.3h0M482.5 225.2h0M485 242.3h0M478.6 262h0M489 250.6h0M496.5 225h0M498 277h0M493.5 270.5h0M389.3 291.8h0M385 302h0M383.4 320h0M382.5 310h0M392 288.5h0M402 272h0M415 275h0M432 288h0M450 278h0M466 273h0M470 286h0" stroke="#0000ff" stroke-width="2.3" stroke-linecap="round" fill="none"/>
<path d="M539 357.9h0" stroke="#ff0000" stroke-width="2.3" stroke-linecap="round" fill="none"/>
<line x1="501.2" y1="218.4" x2="501.2" y2="435" stroke="#3a3a3a" stroke-width="0.8"/>
<line x1="535.4" y1="218.4" x2="535.4" y2="435" stroke="#3a3a3a" stroke-width="0.8"/>
<line x1="370.3" y1="375.1" x2="594.4" y2="375.1" stroke="#5a5a5a" stroke-width="0.9"/>
<text x="367.2" y="428.8" font-size="6.8" text-anchor="end" fill="#4d4d4d">0</text>
<text x="367.2" y="377.6" font-size="6.8" text-anchor="end" fill="#4d4d4d">2</text>
<text x="367.2" y="326.4" font-size="6.8" text-anchor="end" fill="#4d4d4d">4</text>
<text x="367.2" y="275.2" font-size="6.8" text-anchor="end" fill="#4d4d4d">6</text>
<text x="367.2" y="224" font-size="6.8" text-anchor="end" fill="#4d4d4d">8</text>
<text x="432.8" y="444.6" font-size="6.3" text-anchor="middle" fill="#4d4d4d">-0.5</text>
<text x="518.3" y="444.6" font-size="6.3" text-anchor="middle" fill="#4d4d4d">0.0</text>
<text x="482.8" y="452.8" font-size="7" text-anchor="middle" fill="#222">DNA methylation difference</text>
<text x="361.5" y="325.5" font-size="7" text-anchor="middle" fill="#222" transform="rotate(-90 361.5 325.5)">-log10(P-value)</text>
<text x="504" y="210.9" font-size="11.2" text-anchor="middle">DSS vs 5-AZA+DSS</text>
<text x="605.3" y="311.8" font-size="7" fill="#333">Methylation</text>
<path d="M611.1 321.3h0" stroke="#0000ff" stroke-width="2.6" stroke-linecap="round" fill="none"/>
<text x="620.3" y="323.5" font-size="5.7" fill="#333">Hypo</text>
<path d="M611.1 332.5h0" stroke="#ff0000" stroke-width="2.6" stroke-linecap="round" fill="none"/>
<text x="620.3" y="334.7" font-size="5.7" fill="#333">Hyper</text>
<path d="M611.1 343.7h0" stroke="#636363" stroke-width="2.6" stroke-linecap="round" fill="none"/>
<text x="620.3" y="345.9" font-size="5.7" fill="#333">NO</text>
<text x="406" y="517" font-size="22" font-weight="bold">h</text>
<path d="M448.9 475h14.8v1.86h-14.8zM492.1 475h14.8v1.86h-14.8zM477.7 479.54h14.8v1.86h-14.8zM448.9 484.07h14.8v1.86h-14.8zM492.1 484.07h14.8v1.86h-14.8zM463.3 485.59h14.8v1.86h-14.8zM492.1 485.59h14.8v1.86h-14.8zM463.3 487.1h14.8v1.86h-14.8zM506.5 487.1h14.8v1.86h-14.8zM463.3 491.63h43.6v1.86h-43.6zM448.9 493.15h14.8v1.86h-14.8zM492.1 493.15h29.2v1.86h-29.2zM463.3 494.66h14.8v1.86h-14.8zM520.9 496.17h14.8v1.86h-14.8zM463.3 499.2h14.8v1.86h-14.8zM492.1 499.2h43.6v1.86h-43.6zM477.7 508.27h29.2v1.86h-29.2zM520.9 508.27h14.8v1.86h-14.8zM564.1 514.32h14.8v1.86h-14.8zM549.7 521.88h14.8v1.86h-14.8zM592.9 526.41h14.8v1.86h-14.8zM592.9 541.45h14.8v1.83h-14.8zM578.5 542.93h14.8v1.83h-14.8zM607.3 544.41h14.4v1.83h-14.4zM535.3 545.9h14.8v1.83h-14.8zM607.3 545.9h14.4v1.83h-14.4zM535.3 547.38h14.8v1.83h-14.8zM535.3 554.79h14.8v1.83h-14.8zM564.1 559.24h14.8v1.83h-14.8zM578.5 563.69h14.8v1.83h-14.8zM535.3 565.17h14.8v1.83h-14.8zM607.3 581.49h14.4v1.83h-14.4z" fill="#aed2e4"/>
<path d="M463.3 475h14.8v1.86h-14.8zM463.3 481.05h14.8v1.86h-14.8zM492.1 497.68h29.2v1.86h-29.2zM564.1 526.41h14.8v1.86h-14.8zM564.1 533.98h14.8v1.86h-14.8zM564.1 560.73h14.8v1.83h-14.8z" fill="#a2ccde"/>
<path d="M477.7 475h14.8v1.86h-14.8zM520.9 475h14.8v1.86h-14.8zM463.3 479.54h14.8v1.86h-14.8zM492.1 481.05h14.8v1.86h-14.8zM520.9 481.05h14.8v1.86h-14.8zM477.7 485.59h14.8v1.86h-14.8zM448.9 487.1h14.8v1.86h-14.8zM463.3 488.61h29.2v1.86h-29.2zM506.5 488.61h29.2v1.86h-29.2zM448.9 494.66h14.8v1.86h-14.8zM463.3 497.68h29.2v1.86h-29.2zM520.9 500.71h14.8v1.86h-14.8zM463.3 508.27h14.8v1.86h-14.8zM448.9 509.78h14.8v1.86h-14.8zM564.1 521.88h14.8v1.86h-14.8zM549.7 526.41h14.8v1.86h-14.8zM592.9 539.97h14.8v1.83h-14.8zM607.3 542.93h14.4v1.83h-14.4zM578.5 545.9h14.8v1.83h-14.8zM578.5 547.38h14.8v1.83h-14.8zM578.5 551.83h14.8v1.83h-14.8zM564.1 554.79h29.2v1.83h-29.2zM592.9 560.73h14.8v1.83h-14.8zM578.5 565.17h14.8v1.83h-14.8z" fill="#a8cce4"/>
<path d="M506.5 475h14.8v1.86h-14.8zM448.9 478.02h14.8v1.86h-14.8zM477.7 478.02h14.8v1.86h-14.8zM506.5 478.02h14.8v1.86h-14.8zM448.9 479.54h14.8v1.86h-14.8zM492.1 479.54h29.2v1.86h-29.2zM448.9 481.05h14.8v1.86h-14.8zM477.7 481.05h14.8v1.86h-14.8zM506.5 481.05h14.8v1.86h-14.8zM463.3 493.15h14.8v1.86h-14.8zM477.7 500.71h14.8v1.86h-14.8zM506.5 500.71h14.8v1.86h-14.8zM535.3 514.32h14.8v1.86h-14.8zM607.3 514.32h14.4v1.86h-14.4zM549.7 533.98h14.8v1.86h-14.8zM607.3 533.98h14.4v1.86h-14.4zM549.7 538.48h14.8v1.83h-14.8zM592.9 538.48h14.8v1.83h-14.8zM549.7 541.45h14.8v1.83h-14.8zM607.3 554.79h14.4v1.83h-14.4z" fill="#a2cce4"/>
<path d="M535.3 475h14.8v1.86h-14.8zM564.1 475h14.8v1.86h-14.8zM607.3 475h14.4v1.86h-14.4zM549.7 476.51h14.8v1.86h-14.8zM592.9 476.51h14.8v1.86h-14.8zM607.3 478.02h14.4v1.86h-14.4zM578.5 487.1h14.8v1.86h-14.8zM607.3 487.1h14.4v1.86h-14.4zM549.7 488.61h29.2v1.86h-29.2zM535.3 493.15h14.8v1.86h-14.8zM549.7 497.68h14.8v1.86h-14.8zM564.1 505.24h14.8v1.86h-14.8zM607.3 529.44h14.4v1.86h-14.4z" fill="#5a8ac0"/>
<path d="M549.7 475h14.8v1.86h-14.8zM592.9 475h14.8v1.86h-14.8zM564.1 476.51h14.8v1.86h-14.8zM578.5 479.54h14.8v1.86h-14.8zM592.9 487.1h14.8v1.86h-14.8zM564.1 497.68h14.8v1.86h-14.8zM592.9 497.68h28.8v1.86h-28.8zM564.1 500.71h29.2v1.86h-29.2zM607.3 500.71h14.4v1.86h-14.4zM607.3 506.76h14.4v1.86h-14.4zM607.3 515.83h14.4v1.86h-14.4zM607.3 518.85h14.4v1.86h-14.4zM607.3 520.37h14.4v1.86h-14.4z" fill="#6090c0"/>
<path d="M578.5 475h14.8v1.86h-14.8zM592.9 488.61h14.8v1.86h-14.8zM549.7 493.15h14.8v1.86h-14.8zM578.5 493.15h14.8v1.86h-14.8zM607.3 493.15h14.4v1.86h-14.4zM535.3 497.68h14.8v1.86h-14.8zM578.5 497.68h14.8v1.86h-14.8zM535.3 500.71h14.8v1.86h-14.8zM578.5 505.24h14.8v1.86h-14.8z" fill="#5484ba"/>
<path d="M448.9 476.51h14.8v1.86h-14.8zM492.1 476.51h14.8v1.86h-14.8zM520.9 476.51h14.8v1.86h-14.8zM564.1 482.56h14.8v1.86h-14.8zM564.1 490.12h14.8v1.86h-14.8zM564.1 503.73h14.8v1.86h-14.8zM578.5 508.27h14.8v1.86h-14.8zM592.9 517.34h14.8v1.86h-14.8zM535.3 535.49h14.8v1.86h-14.8zM578.5 535.49h14.8v1.86h-14.8zM607.3 537h14.4v1.83h-14.4zM578.5 560.73h14.8v1.83h-14.8z" fill="#8abad8"/>
<path d="M463.3 476.51h14.8v1.86h-14.8zM520.9 482.56h14.8v1.86h-14.8zM592.9 523.39h14.8v1.86h-14.8zM607.3 535.49h14.4v1.86h-14.4zM564.1 539.97h14.8v1.83h-14.8z" fill="#90c0d8"/>
<path d="M477.7 476.51h14.8v1.86h-14.8zM535.3 481.05h14.8v1.86h-14.8zM492.1 482.56h14.8v1.86h-14.8zM549.7 502.22h14.8v1.86h-14.8zM549.7 503.73h14.8v1.86h-14.8zM578.5 509.78h14.8v1.86h-14.8zM535.3 512.8h14.8v1.86h-14.8zM564.1 530.95h43.6v1.86h-43.6z" fill="#84aed2"/>
<path d="M506.5 476.51h14.8v1.86h-14.8zM463.3 482.56h29.2v1.86h-29.2zM592.9 512.8h28.8v1.86h-28.8zM535.3 523.39h14.8v1.86h-14.8zM564.1 537h14.8v1.83h-14.8zM578.5 538.48h14.8v1.83h-14.8z" fill="#84b4d8"/>
<path d="M535.3 476.51h14.8v1.86h-14.8zM535.3 488.61h14.8v1.86h-14.8zM607.3 488.61h14.4v1.86h-14.4zM607.3 505.24h14.4v1.86h-14.4z" fill="#4e7eba"/>
<path d="M578.5 476.51h14.8v1.86h-14.8z" fill="#5a84c0"/>
<path d="M607.3 476.51h14.4v1.86h-14.4z" fill="#547eba"/>
<path d="M463.3 478.02h14.8v1.86h-14.8zM492.1 478.02h14.8v1.86h-14.8zM448.9 488.61h14.8v1.86h-14.8zM448.9 500.71h14.8v1.86h-14.8zM492.1 500.71h14.8v1.86h-14.8zM535.3 508.27h14.8v1.86h-14.8zM549.7 514.32h14.8v1.86h-14.8zM578.5 514.32h29.2v1.86h-29.2zM535.3 521.88h14.8v1.86h-14.8zM578.5 521.88h14.8v1.86h-14.8zM607.3 521.88h14.4v1.86h-14.4zM578.5 526.41h14.8v1.86h-14.8zM549.7 532.46h14.8v1.86h-14.8zM535.3 533.98h14.8v1.86h-14.8zM578.5 533.98h29.2v1.86h-29.2zM549.7 535.49h14.8v1.86h-14.8zM592.9 535.49h14.8v1.86h-14.8zM549.7 537h14.8v1.83h-14.8zM535.3 539.97h14.8v1.83h-14.8zM578.5 541.45h14.8v1.83h-14.8zM578.5 544.41h14.8v1.83h-14.8zM549.7 560.73h14.8v1.83h-14.8z" fill="#9cc6de"/>
<path d="M520.9 478.02h14.8v1.86h-14.8zM520.9 479.54h14.8v1.86h-14.8zM492.1 494.66h29.2v1.86h-29.2zM492.1 496.17h14.8v1.86h-14.8zM448.9 499.2h14.8v1.86h-14.8zM448.9 508.27h14.8v1.86h-14.8zM564.1 542.93h14.8v1.83h-14.8zM564.1 547.38h14.8v1.83h-14.8zM607.3 551.83h14.4v1.83h-14.4zM607.3 565.17h14.4v1.83h-14.4zM578.5 581.49h14.8v1.83h-14.8z" fill="#a8d2e4"/>
<path d="M535.3 478.02h14.8v1.86h-14.8z" fill="#608ac0"/>
<path d="M549.7 478.02h14.8v1.86h-14.8zM535.3 479.54h14.8v1.86h-14.8zM607.3 479.54h14.4v1.86h-14.4zM607.3 484.07h14.4v1.86h-14.4zM564.1 485.59h29.2v1.86h-29.2zM549.7 487.1h14.8v1.86h-14.8zM607.3 494.66h14.4v1.86h-14.4zM535.3 499.2h14.8v1.86h-14.8zM578.5 499.2h29.2v1.86h-29.2zM535.3 515.83h14.8v1.86h-14.8zM564.1 515.83h14.8v1.86h-14.8zM535.3 518.85h29.2v1.86h-29.2zM578.5 518.85h14.8v1.86h-14.8zM564.1 520.37h14.8v1.86h-14.8z" fill="#6c9cc6"/>
<path d="M564.1 478.02h43.6v1.86h-43.6zM564.1 479.54h14.8v1.86h-14.8zM535.3 485.59h14.8v1.86h-14.8zM607.3 485.59h14.4v1.86h-14.4zM535.3 487.1h14.8v1.86h-14.8zM564.1 487.1h14.8v1.86h-14.8zM564.1 493.15h14.8v1.86h-14.8zM592.9 493.15h14.8v1.86h-14.8zM535.3 494.66h14.8v1.86h-14.8zM578.5 494.66h14.8v1.86h-14.8zM535.3 496.17h14.8v1.86h-14.8zM578.5 496.17h14.8v1.86h-14.8zM592.9 500.71h14.8v1.86h-14.8zM578.5 515.83h14.8v1.86h-14.8zM535.3 527.93h14.8v1.86h-14.8zM578.5 527.93h14.8v1.86h-14.8zM578.5 529.44h14.8v1.86h-14.8z" fill="#6696c6"/>
<path d="M549.7 479.54h14.8v1.86h-14.8zM592.9 496.17h14.8v1.86h-14.8zM535.3 506.76h14.8v1.86h-14.8zM535.3 520.37h14.8v1.86h-14.8z" fill="#6c9ccc"/>
<path d="M592.9 479.54h14.8v1.86h-14.8zM592.9 494.66h14.8v1.86h-14.8zM578.5 524.9h14.8v1.86h-14.8zM549.7 529.44h14.8v1.86h-14.8z" fill="#6c96c6"/>
<path d="M549.7 481.05h14.8v1.86h-14.8zM564.1 502.22h14.8v1.86h-14.8zM535.3 503.73h14.8v1.86h-14.8zM549.7 512.8h14.8v1.86h-14.8zM549.7 517.34h29.2v1.86h-29.2zM564.1 523.39h14.8v1.86h-14.8zM578.5 532.46h14.8v1.86h-14.8zM535.3 538.48h14.8v1.83h-14.8z" fill="#8ab4d8"/>
<path d="M564.1 481.05h14.8v1.86h-14.8zM592.9 503.73h14.8v1.86h-14.8zM607.3 508.27h14.4v1.86h-14.4zM564.1 512.8h14.8v1.86h-14.8zM549.7 523.39h14.8v1.86h-14.8zM535.3 532.46h14.8v1.86h-14.8zM564.1 538.48h14.8v1.83h-14.8zM607.3 560.73h14.4v1.83h-14.4z" fill="#90bad8"/>
<path d="M578.5 481.05h14.8v1.86h-14.8zM549.7 482.56h14.8v1.86h-14.8zM549.7 485.59h14.8v1.86h-14.8zM578.5 490.12h29.2v1.86h-29.2zM535.3 502.22h14.8v1.86h-14.8zM592.9 502.22h28.8v1.86h-28.8zM578.5 503.73h14.8v1.86h-14.8zM535.3 509.78h43.6v1.86h-43.6zM592.9 509.78h14.8v1.86h-14.8zM549.7 511.29h14.8v1.86h-14.8zM592.9 511.29h14.8v1.86h-14.8zM578.5 512.8h14.8v1.86h-14.8zM564.1 524.9h14.8v1.86h-14.8zM592.9 524.9h14.8v1.86h-14.8zM535.3 530.95h14.8v1.86h-14.8zM535.3 537h14.8v1.83h-14.8zM607.3 538.48h14.4v1.83h-14.4z" fill="#7eaed2"/>
<path d="M592.9 481.05h14.8v1.86h-14.8zM578.5 482.56h14.8v1.86h-14.8zM564.1 484.07h14.8v1.86h-14.8zM592.9 484.07h14.8v1.86h-14.8zM549.7 491.63h14.8v1.86h-14.8zM549.7 499.2h14.8v1.86h-14.8zM535.3 517.34h14.8v1.86h-14.8zM578.5 517.34h14.8v1.86h-14.8z" fill="#78a8cc"/>
<path d="M607.3 481.05h14.4v1.86h-14.4zM592.9 482.56h14.8v1.86h-14.8zM578.5 523.39h14.8v1.86h-14.8zM607.3 523.39h14.4v1.86h-14.4zM549.7 530.95h14.8v1.86h-14.8zM578.5 537h14.8v1.83h-14.8z" fill="#84b4d2"/>
<path d="M448.9 482.56h14.8v1.86h-14.8zM506.5 482.56h14.8v1.86h-14.8zM607.3 532.46h14.4v1.86h-14.4z" fill="#90c0de"/>
<path d="M535.3 482.56h14.8v1.86h-14.8zM578.5 484.07h14.8v1.86h-14.8zM592.9 485.59h14.8v1.86h-14.8zM564.1 491.63h57.6v1.86h-57.6zM564.1 494.66h14.8v1.86h-14.8zM549.7 496.17h14.8v1.86h-14.8zM607.3 496.17h14.4v1.86h-14.4zM564.1 499.2h14.8v1.86h-14.8zM607.3 499.2h14.4v1.86h-14.4zM564.1 506.76h14.8v1.86h-14.8zM535.3 511.29h14.8v1.86h-14.8zM549.7 515.83h14.8v1.86h-14.8zM592.9 518.85h14.8v1.86h-14.8zM549.7 520.37h14.8v1.86h-14.8zM592.9 520.37h14.8v1.86h-14.8zM535.3 524.9h29.2v1.86h-29.2zM607.3 524.9h14.4v1.86h-14.4zM549.7 527.93h29.2v1.86h-29.2zM592.9 527.93h14.8v1.86h-14.8zM564.1 529.44h14.8v1.86h-14.8zM592.9 529.44h14.8v1.86h-14.8z" fill="#72a2cc"/>
<path d="M607.3 482.56h14.4v1.86h-14.4zM592.9 506.76h14.8v1.86h-14.8zM607.3 517.34h14.4v1.86h-14.4zM564.1 518.85h14.8v1.86h-14.8z" fill="#78a8d2"/>
<path d="M463.3 484.07h14.8v1.86h-14.8z" fill="#b4d2ea"/>
<path d="M477.7 484.07h14.8v1.86h-14.8zM506.5 485.59h14.8v1.86h-14.8zM477.7 493.15h14.8v1.86h-14.8zM520.9 493.15h14.8v1.86h-14.8zM477.7 494.66h14.8v1.86h-14.8zM520.9 494.66h14.8v1.86h-14.8zM448.9 496.17h29.2v1.86h-29.2zM520.9 497.68h14.8v1.86h-14.8zM477.7 499.2h14.8v1.86h-14.8zM477.7 505.24h14.8v1.86h-14.8zM463.3 509.78h14.8v1.86h-14.8zM463.3 512.8h43.6v1.86h-43.6zM492.1 518.85h14.8v1.86h-14.8zM535.3 542.93h14.8v1.83h-14.8zM535.3 544.41h14.8v1.83h-14.8zM564.1 544.41h14.8v1.83h-14.8zM564.1 545.9h14.8v1.83h-14.8zM578.5 550.35h14.8v1.83h-14.8zM564.1 551.83h14.8v1.83h-14.8zM607.3 553.31h14.4v1.83h-14.4zM549.7 554.79h14.8v1.83h-14.8zM592.9 554.79h14.8v1.83h-14.8zM535.3 559.24h14.8v1.83h-14.8zM607.3 563.69h14.4v1.83h-14.4zM564.1 565.17h14.8v1.83h-14.8zM607.3 571.11h14.4v1.83h-14.4zM535.3 580h14.8v1.83h-14.8zM535.3 585.93h14.8v1.83h-14.8zM578.5 585.93h14.8v1.83h-14.8zM607.3 809.71h14.4v1.86h-14.4z" fill="#b4d8ea"/>
<path d="M506.5 484.07h14.8v1.86h-14.8zM492.1 487.1h14.8v1.86h-14.8zM463.3 490.12h29.2v1.86h-29.2zM506.5 502.22h14.8v1.86h-14.8zM448.9 503.73h14.8v1.86h-14.8zM506.5 503.73h14.8v1.86h-14.8zM463.3 505.24h14.8v1.86h-14.8zM492.1 505.24h14.8v1.86h-14.8zM492.1 509.78h14.8v1.86h-14.8zM520.9 509.78h14.8v1.86h-14.8zM520.9 511.29h14.8v1.86h-14.8zM448.9 512.8h14.8v1.86h-14.8zM448.9 514.32h14.8v1.86h-14.8zM477.7 514.32h58v1.86h-58zM448.9 515.83h14.8v1.86h-14.8zM448.9 518.85h14.8v1.86h-14.8zM477.7 518.85h14.8v1.86h-14.8zM448.9 521.88h14.8v1.86h-14.8zM463.3 526.41h14.8v1.86h-14.8zM549.7 542.93h14.8v1.83h-14.8zM592.9 544.41h14.8v1.83h-14.8zM549.7 545.9h14.8v1.83h-14.8zM592.9 545.9h14.8v1.83h-14.8zM549.7 547.38h14.8v1.83h-14.8zM592.9 547.38h14.8v1.83h-14.8zM535.3 548.86h14.8v1.83h-14.8zM564.1 550.35h14.8v1.83h-14.8zM549.7 553.31h14.8v1.83h-14.8zM578.5 553.31h14.8v1.83h-14.8zM578.5 556.28h14.8v1.83h-14.8zM564.1 563.69h14.8v1.83h-14.8zM592.9 565.17h14.8v1.83h-14.8zM578.5 566.66h14.8v1.83h-14.8zM607.3 566.66h14.4v1.83h-14.4zM578.5 568.14h14.8v1.83h-14.8zM535.3 569.62h14.8v1.83h-14.8zM564.1 569.62h14.8v1.83h-14.8zM592.9 569.62h14.8v1.83h-14.8zM578.5 580h14.8v1.83h-14.8zM592.9 581.49h14.8v1.83h-14.8zM607.3 582.97h14.4v1.83h-14.4zM564.1 585.93h14.8v1.83h-14.8zM607.3 585.93h14.4v1.83h-14.4zM607.3 829.38h14.4v1.86h-14.4z" fill="#c0deea"/>
<path d="M520.9 484.07h14.8v1.86h-14.8zM477.7 487.1h14.8v1.86h-14.8zM477.7 496.17h14.8v1.86h-14.8zM448.9 505.24h14.8v1.86h-14.8zM506.5 505.24h14.8v1.86h-14.8zM506.5 509.78h14.8v1.86h-14.8zM448.9 511.29h29.2v1.86h-29.2zM492.1 511.29h14.8v1.86h-14.8zM506.5 512.8h29.2v1.86h-29.2zM463.3 514.32h14.8v1.86h-14.8zM463.3 518.85h14.8v1.86h-14.8zM506.5 518.85h14.8v1.86h-14.8zM448.9 526.41h14.8v1.86h-14.8zM592.9 542.93h14.8v1.83h-14.8zM535.3 550.35h14.8v1.83h-14.8zM607.3 550.35h14.4v1.83h-14.4zM549.7 551.83h14.8v1.83h-14.8zM549.7 559.24h14.8v1.83h-14.8zM607.3 559.24h14.4v1.83h-14.4zM535.3 563.69h14.8v1.83h-14.8zM578.5 569.62h14.8v1.83h-14.8zM607.3 569.62h14.4v1.83h-14.4zM535.3 571.11h14.8v1.83h-14.8zM564.1 571.11h29.2v1.83h-29.2zM607.3 580h14.4v1.83h-14.4zM535.3 581.49h14.8v1.83h-14.8zM564.1 581.49h14.8v1.83h-14.8zM535.3 582.97h14.8v1.83h-14.8zM578.5 809.71h14.8v1.86h-14.8zM607.3 811.23h14.4v1.86h-14.4z" fill="#bad8ea"/>
<path d="M535.3 484.07h14.8v1.86h-14.8zM535.3 491.63h14.8v1.86h-14.8zM578.5 506.76h14.8v1.86h-14.8zM535.3 529.44h14.8v1.86h-14.8z" fill="#729ccc"/>
<path d="M549.7 484.07h14.8v1.86h-14.8zM535.3 490.12h14.8v1.86h-14.8zM549.7 494.66h14.8v1.86h-14.8zM564.1 496.17h14.8v1.86h-14.8zM578.5 502.22h14.8v1.86h-14.8zM549.7 506.76h14.8v1.86h-14.8zM564.1 511.29h14.8v1.86h-14.8z" fill="#78a2cc"/>
<path d="M448.9 485.59h14.8v1.86h-14.8zM506.5 491.63h14.8v1.86h-14.8zM506.5 496.17h14.8v1.86h-14.8zM506.5 508.27h14.8v1.86h-14.8zM607.3 547.38h14.4v1.83h-14.4zM535.3 551.83h14.8v1.83h-14.8z" fill="#b4d2e4"/>
<path d="M520.9 485.59h14.8v1.86h-14.8zM520.9 487.1h14.8v1.86h-14.8zM448.9 491.63h14.8v1.86h-14.8zM520.9 491.63h14.8v1.86h-14.8zM549.7 544.41h14.8v1.83h-14.8zM578.5 548.86h14.8v1.83h-14.8zM592.9 551.83h14.8v1.83h-14.8zM535.3 553.31h14.8v1.83h-14.8zM564.1 553.31h14.8v1.83h-14.8zM578.5 562.21h14.8v1.83h-14.8zM592.9 571.11h14.8v1.83h-14.8z" fill="#badeea"/>
<path d="M492.1 488.61h14.8v1.86h-14.8zM448.9 497.68h14.8v1.86h-14.8zM463.3 500.71h14.8v1.86h-14.8zM592.9 521.88h14.8v1.86h-14.8zM535.3 526.41h14.8v1.86h-14.8zM592.9 532.46h14.8v1.86h-14.8zM549.7 539.97h14.8v1.83h-14.8zM564.1 541.45h14.8v1.83h-14.8zM578.5 559.24h14.8v1.83h-14.8z" fill="#a2c6de"/>
<path d="M578.5 488.61h14.8v1.86h-14.8zM535.3 505.24h14.8v1.86h-14.8z" fill="#4878b4"/>
<path d="M448.9 490.12h14.8v1.86h-14.8zM520.9 490.12h14.8v1.86h-14.8zM477.7 503.73h14.8v1.86h-14.8zM463.3 506.76h14.8v1.86h-14.8zM477.7 511.29h14.8v1.86h-14.8zM520.9 515.83h14.8v1.86h-14.8zM463.3 521.88h14.8v1.86h-14.8zM506.5 521.88h14.8v1.86h-14.8zM492.1 523.39h14.8v1.86h-14.8zM492.1 524.9h14.8v1.86h-14.8zM448.9 527.93h14.8v1.86h-14.8zM492.1 533.98h14.8v1.86h-14.8zM448.9 535.49h14.8v1.86h-14.8zM492.1 535.49h29.2v1.86h-29.2zM592.9 548.86h14.8v1.83h-14.8zM549.7 550.35h14.8v1.83h-14.8zM592.9 550.35h14.8v1.83h-14.8zM592.9 553.31h14.8v1.83h-14.8zM549.7 556.28h14.8v1.83h-14.8zM535.3 562.21h14.8v1.83h-14.8zM564.1 562.21h14.8v1.83h-14.8zM592.9 563.69h14.8v1.83h-14.8zM564.1 568.14h14.8v1.83h-14.8zM564.1 575.55h29.2v1.83h-29.2zM535.3 578.52h14.8v1.83h-14.8zM592.9 578.52h28.8v1.83h-28.8zM564.1 580h14.8v1.83h-14.8zM549.7 581.49h14.8v1.83h-14.8zM564.1 582.97h14.8v1.83h-14.8zM578.5 587.42h14.8v1.83h-14.8zM535.3 809.71h14.8v1.86h-14.8zM578.5 812.74h14.8v1.86h-14.8zM578.5 817.28h14.8v1.86h-14.8zM578.5 824.84h14.8v1.86h-14.8zM578.5 829.38h14.8v1.86h-14.8z" fill="#cce4f0"/>
<path d="M492.1 490.12h29.2v1.86h-29.2zM448.9 502.22h14.8v1.86h-14.8zM492.1 502.22h14.8v1.86h-14.8zM520.9 502.22h14.8v1.86h-14.8zM520.9 503.73h14.8v1.86h-14.8zM492.1 506.76h14.8v1.86h-14.8zM463.3 515.83h29.2v1.86h-29.2zM520.9 521.88h14.8v1.86h-14.8zM463.3 523.39h14.8v1.86h-14.8zM477.7 526.41h14.8v1.86h-14.8zM506.5 526.41h14.8v1.86h-14.8zM463.3 527.93h14.8v1.86h-14.8zM492.1 527.93h14.8v1.86h-14.8zM492.1 529.44h14.8v1.86h-14.8zM549.7 548.86h14.8v1.83h-14.8zM607.3 548.86h14.4v1.83h-14.4zM535.3 556.28h14.8v1.83h-14.8zM607.3 556.28h14.4v1.83h-14.4zM549.7 565.17h14.8v1.83h-14.8zM535.3 568.14h14.8v1.83h-14.8zM549.7 571.11h14.8v1.83h-14.8zM607.3 572.59h14.4v1.83h-14.4zM535.3 575.55h14.8v1.83h-14.8zM607.3 575.55h14.4v1.83h-14.4zM564.1 578.52h29.2v1.83h-29.2zM592.9 580h14.8v1.83h-14.8zM535.3 584.45h14.8v1.83h-14.8zM578.5 584.45h14.8v1.83h-14.8zM592.9 585.93h14.8v1.83h-14.8zM607.3 808.2h14.4v1.86h-14.4zM607.3 817.28h14.4v1.86h-14.4zM578.5 818.79h14.8v1.86h-14.8zM607.3 818.79h14.4v1.86h-14.4zM607.3 824.84h14.4v1.86h-14.4z" fill="#c6e4f0"/>
<path d="M549.7 490.12h14.8v1.86h-14.8zM607.3 490.12h14.4v1.86h-14.4zM607.3 503.73h14.4v1.86h-14.4zM607.3 509.78h14.4v1.86h-14.4zM578.5 511.29h14.8v1.86h-14.8zM607.3 511.29h14.4v1.86h-14.4zM592.9 515.83h14.8v1.86h-14.8zM607.3 530.95h14.4v1.86h-14.4z" fill="#7ea8d2"/>
<path d="M549.7 500.71h14.8v1.86h-14.8zM549.7 505.24h14.8v1.86h-14.8zM578.5 520.37h14.8v1.86h-14.8zM607.3 527.93h14.4v1.86h-14.4z" fill="#6690c6"/>
<path d="M463.3 502.22h29.2v1.86h-29.2zM492.1 503.73h14.8v1.86h-14.8zM477.7 509.78h14.8v1.86h-14.8zM506.5 511.29h14.8v1.86h-14.8zM492.1 515.83h14.8v1.86h-14.8zM477.7 521.88h14.8v1.86h-14.8zM492.1 526.41h14.8v1.86h-14.8zM564.1 556.28h14.8v1.83h-14.8zM549.7 563.69h14.8v1.83h-14.8zM607.3 568.14h14.4v1.83h-14.4zM535.3 572.59h14.8v1.83h-14.8zM578.5 572.59h14.8v1.83h-14.8zM549.7 585.93h14.8v1.83h-14.8zM578.5 808.2h14.8v1.86h-14.8zM578.5 811.23h14.8v1.86h-14.8z" fill="#c6def0"/>
<path d="M463.3 503.73h14.8v1.86h-14.8zM520.9 505.24h14.8v1.86h-14.8zM520.9 518.85h14.8v1.86h-14.8zM492.1 521.88h14.8v1.86h-14.8zM564.1 548.86h14.8v1.83h-14.8zM592.9 559.24h14.8v1.83h-14.8zM607.3 562.21h14.4v1.83h-14.4zM578.5 582.97h14.8v1.83h-14.8z" fill="#c0def0"/>
<path d="M592.9 505.24h14.8v1.86h-14.8z" fill="#5484c0"/>
<path d="M448.9 506.76h14.8v1.86h-14.8zM477.7 506.76h14.8v1.86h-14.8zM506.5 506.76h14.8v1.86h-14.8zM448.9 517.34h14.8v1.86h-14.8zM506.5 523.39h29.2v1.86h-29.2zM520.9 526.41h14.8v1.86h-14.8zM448.9 529.44h14.8v1.86h-14.8zM477.7 529.44h14.8v1.86h-14.8zM463.3 533.98h14.8v1.86h-14.8zM592.9 556.28h14.8v1.83h-14.8zM578.5 557.76h14.8v1.83h-14.8zM592.9 562.21h14.8v1.83h-14.8zM535.3 566.66h14.8v1.83h-14.8zM549.7 569.62h14.8v1.83h-14.8zM549.7 582.97h14.8v1.83h-14.8zM564.1 584.45h14.8v1.83h-14.8zM607.3 584.45h14.4v1.83h-14.4zM578.5 814.25h14.8v1.86h-14.8zM607.3 815.76h14.4v1.86h-14.4zM607.3 820.3h14.4v1.86h-14.4zM607.3 835.43h14.4v1.86h-14.4z" fill="#d2eaf0"/>
<path d="M520.9 506.76h14.8v1.86h-14.8zM506.5 517.34h14.8v1.86h-14.8zM492.1 530.95h14.8v1.86h-14.8zM477.7 532.46h14.8v1.86h-14.8zM463.3 547.38h14.8v1.83h-14.8zM535.3 557.76h14.8v1.83h-14.8zM592.9 809.71h14.8v1.86h-14.8zM535.3 811.23h14.8v1.86h-14.8zM535.3 824.84h14.8v1.86h-14.8zM607.3 827.86h14.4v1.86h-14.4z" fill="#def6f6"/>
<path d="M549.7 508.27h14.8v1.86h-14.8zM592.9 508.27h14.8v1.86h-14.8zM607.3 539.97h14.4v1.83h-14.4zM535.3 541.45h14.8v1.83h-14.8zM535.3 560.73h14.8v1.83h-14.8z" fill="#96c6de"/>
<path d="M564.1 508.27h14.8v1.86h-14.8zM607.3 526.41h14.4v1.86h-14.4zM564.1 532.46h14.8v1.86h-14.8zM564.1 535.49h14.8v1.86h-14.8zM592.9 537h14.8v1.83h-14.8zM578.5 539.97h14.8v1.83h-14.8zM607.3 541.45h14.4v1.83h-14.4z" fill="#96c0de"/>
<path d="M506.5 515.83h14.8v1.86h-14.8zM463.3 535.49h14.8v1.86h-14.8zM607.3 812.74h14.4v1.86h-14.4z" fill="#cceaf0"/>
<path d="M463.3 517.34h14.8v1.86h-14.8zM477.7 523.39h14.8v1.86h-14.8zM492.1 532.46h14.8v1.86h-14.8zM506.5 533.98h14.8v1.86h-14.8zM592.9 568.14h14.8v1.83h-14.8zM564.1 574.07h14.8v1.83h-14.8zM535.3 587.42h14.8v1.83h-14.8zM564.1 809.71h14.8v1.86h-14.8zM578.5 815.76h14.8v1.86h-14.8zM578.5 820.3h14.8v1.86h-14.8zM578.5 823.33h14.8v1.86h-14.8zM578.5 826.35h14.8v1.86h-14.8zM607.3 826.35h14.4v1.86h-14.4zM607.3 830.89h14.4v1.86h-14.4zM578.5 850.55h14.8v1.86h-14.8z" fill="#d8f0f6"/>
<path d="M477.7 517.34h14.8v1.86h-14.8zM520.9 517.34h14.8v1.86h-14.8zM448.9 520.37h14.8v1.86h-14.8zM477.7 520.37h14.8v1.86h-14.8zM520.9 530.95h14.8v1.86h-14.8zM448.9 532.46h29.2v1.86h-29.2zM520.9 535.49h14.8v1.86h-14.8zM477.7 544.41h14.8v1.83h-14.8zM477.7 547.38h29.2v1.83h-29.2zM607.3 557.76h14.4v1.83h-14.4zM549.7 562.21h14.8v1.83h-14.8zM535.3 577.04h14.8v1.83h-14.8zM607.3 577.04h14.4v1.83h-14.4zM592.9 811.23h14.8v1.86h-14.8zM535.3 817.28h14.8v1.86h-14.8zM535.3 818.79h14.8v1.86h-14.8zM564.1 818.79h14.8v1.86h-14.8zM578.5 830.89h14.8v1.86h-14.8zM607.3 833.91h14.4v1.86h-14.4zM578.5 835.43h14.8v1.86h-14.8zM607.3 836.94h14.4v1.86h-14.4zM607.3 838.45h14.4v1.86h-14.4zM578.5 842.99h14.8v1.86h-14.8zM578.5 846.01h14.8v1.86h-14.8zM578.5 855.09h14.8v1.86h-14.8z" fill="#e4f6f6"/>
<path d="M492.1 517.34h14.8v1.86h-14.8zM448.9 523.39h14.8v1.86h-14.8zM506.5 527.93h14.8v1.86h-14.8zM506.5 529.44h14.8v1.86h-14.8zM477.7 533.98h14.8v1.86h-14.8zM564.1 566.66h14.8v1.83h-14.8zM549.7 568.14h14.8v1.83h-14.8zM564.1 572.59h14.8v1.83h-14.8zM535.3 574.07h14.8v1.83h-14.8zM607.3 574.07h14.4v1.83h-14.4zM549.7 580h14.8v1.83h-14.8zM592.9 582.97h14.8v1.83h-14.8zM549.7 584.45h14.8v1.83h-14.8zM578.5 821.81h14.8v1.86h-14.8zM607.3 821.81h14.4v1.86h-14.4z" fill="#d2eaf6"/>
<path d="M463.3 520.37h14.8v1.86h-14.8zM506.5 520.37h14.8v1.86h-14.8zM506.5 532.46h29.2v1.86h-29.2zM448.9 542.93h14.8v1.83h-14.8zM477.7 542.93h58v1.83h-58zM448.9 544.41h29.2v1.83h-29.2zM448.9 547.38h14.8v1.83h-14.8zM506.5 547.38h14.8v1.83h-14.8zM564.1 557.76h14.8v1.83h-14.8zM592.9 557.76h14.8v1.83h-14.8zM506.5 568.14h29.2v1.83h-29.2zM578.5 577.04h14.8v1.83h-14.8zM506.5 580h14.8v1.83h-14.8zM448.9 584.45h43.6v1.83h-43.6zM520.9 584.45h14.8v1.83h-14.8zM549.7 587.42h14.8v1.83h-14.8zM592.9 587.42h14.8v1.83h-14.8zM535.3 808.2h43.6v1.86h-43.6zM592.9 808.2h14.8v1.86h-14.8zM535.3 812.74h43.6v1.86h-43.6zM549.7 814.25h29.2v1.86h-29.2zM564.1 817.28h14.8v1.86h-14.8zM535.3 820.3h14.8v1.86h-14.8zM564.1 820.3h14.8v1.86h-14.8zM535.3 821.81h14.8v1.86h-14.8zM564.1 824.84h14.8v1.86h-14.8zM549.7 829.38h29.2v1.86h-29.2zM592.9 829.38h14.8v1.86h-14.8zM578.5 833.91h14.8v1.86h-14.8zM607.3 839.96h14.4v1.86h-14.4zM578.5 841.48h14.8v1.86h-14.8zM607.3 842.99h14.4v1.86h-14.4zM607.3 844.5h14.4v1.86h-14.4zM578.5 847.53h14.8v1.86h-14.8zM607.3 847.53h14.4v1.86h-14.4zM578.5 849.04h14.8v1.86h-14.8zM607.3 849.04h14.4v1.86h-14.4zM564.1 850.55h14.8v1.86h-14.8zM578.5 852.06h14.8v1.86h-14.8zM607.3 852.06h14.4v1.86h-14.4zM578.5 853.58h14.8v1.86h-14.8zM578.5 856.6h14.8v1.86h-14.8zM607.3 856.6h14.4v1.86h-14.4z" fill="#e4f6f0"/>
<path d="M492.1 520.37h14.8v1.86h-14.8zM448.9 524.9h14.8v1.86h-14.8zM477.7 524.9h14.8v1.86h-14.8zM506.5 524.9h29.2v1.86h-29.2zM477.7 527.93h14.8v1.86h-14.8zM520.9 527.93h14.8v1.86h-14.8zM520.9 529.44h14.8v1.86h-14.8zM448.9 530.95h43.6v1.86h-43.6zM506.5 530.95h14.8v1.86h-14.8zM448.9 533.98h14.8v1.86h-14.8zM520.9 533.98h14.8v1.86h-14.8zM549.7 566.66h14.8v1.83h-14.8zM592.9 566.66h14.8v1.83h-14.8zM549.7 572.59h14.8v1.83h-14.8zM592.9 572.59h14.8v1.83h-14.8zM549.7 574.07h14.8v1.83h-14.8zM592.9 574.07h14.8v1.83h-14.8zM549.7 575.55h14.8v1.83h-14.8zM564.1 587.42h14.8v1.83h-14.8zM607.3 587.42h14.4v1.83h-14.4zM549.7 809.71h14.8v1.86h-14.8zM549.7 811.23h29.2v1.86h-29.2zM607.3 823.33h14.4v1.86h-14.4zM578.5 827.86h14.8v1.86h-14.8zM535.3 829.38h14.8v1.86h-14.8zM607.3 832.4h14.4v1.86h-14.4zM578.5 836.94h14.8v1.86h-14.8zM607.3 846.01h14.4v1.86h-14.4zM607.3 850.55h14.4v1.86h-14.4z" fill="#def0f6"/>
<path d="M520.9 520.37h14.8v1.86h-14.8zM492.1 544.41h29.2v1.83h-29.2zM520.9 547.38h14.8v1.83h-14.8zM549.7 557.76h14.8v1.83h-14.8zM492.1 584.45h29.2v1.83h-29.2zM506.5 587.42h14.8v1.83h-14.8zM549.7 817.28h14.8v1.86h-14.8zM592.9 818.79h14.8v1.86h-14.8zM564.1 821.81h14.8v1.86h-14.8zM592.9 824.84h14.8v1.86h-14.8zM564.1 826.35h14.8v1.86h-14.8zM535.3 827.86h14.8v1.86h-14.8zM535.3 832.4h14.8v1.86h-14.8zM535.3 836.94h14.8v1.86h-14.8zM578.5 838.45h14.8v1.86h-14.8zM607.3 841.48h14.4v1.86h-14.4zM549.7 850.55h14.8v1.86h-14.8zM607.3 853.58h14.4v1.86h-14.4z" fill="#e4f6ea"/>
<path d="M463.3 524.9h14.8v1.86h-14.8zM463.3 529.44h14.8v1.86h-14.8zM477.7 535.49h14.8v1.86h-14.8zM578.5 574.07h14.8v1.83h-14.8zM592.9 575.55h14.8v1.83h-14.8zM549.7 578.52h14.8v1.83h-14.8zM592.9 584.45h14.8v1.83h-14.8zM607.3 814.25h14.4v1.86h-14.4zM578.5 832.4h14.8v1.86h-14.8z" fill="#d8eaf6"/>
<path d="M448.9 537h14.8v1.83h-14.8zM448.9 545.9h14.8v1.83h-14.8zM448.9 569.62h14.8v1.83h-14.8zM448.9 571.11h14.8v1.83h-14.8zM477.7 571.11h43.6v1.83h-43.6zM535.3 770.84h14.8v1.84h-14.8zM564.1 770.84h29.2v1.84h-29.2zM564.1 778.31h29.2v1.84h-29.2zM564.1 800.73h14.8v1.84h-14.8zM592.9 800.73h14.8v1.84h-14.8zM520.9 827.86h14.8v1.86h-14.8zM549.7 841.48h14.8v1.86h-14.8zM492.1 846.01h14.8v1.86h-14.8zM592.9 849.04h14.8v1.86h-14.8zM506.5 852.06h14.8v1.86h-14.8zM592.9 853.58h14.8v1.86h-14.8zM592.9 855.09h14.8v1.86h-14.8zM535.3 859.62h14.8v1.86h-14.8zM549.7 861.14h29.2v1.86h-29.2zM549.7 864.16h14.8v1.86h-14.8zM592.9 864.16h14.8v1.86h-14.8zM592.9 865.68h14.8v1.86h-14.8zM549.7 867.19h29.2v1.86h-29.2z" fill="#f6fccc"/>
<path d="M463.3 537h72.4v1.83h-72.4zM506.5 545.9h14.8v1.83h-14.8zM477.7 569.62h29.2v1.83h-29.2zM520.9 569.62h14.8v1.83h-14.8zM578.5 654.44h14.8v1.86h-14.8zM578.5 721.14h14.8v1.92h-14.8zM535.3 724.29h14.8v1.92h-14.8zM592.9 724.29h14.8v1.92h-14.8zM564.1 754.4h29.2v1.84h-29.2zM578.5 769.35h14.8v1.84h-14.8zM549.7 770.84h14.8v1.84h-14.8zM592.9 770.84h28.8v1.84h-28.8zM578.5 782.8h14.8v1.84h-14.8zM535.3 797.74h14.8v1.84h-14.8zM564.1 797.74h29.2v1.84h-29.2zM549.7 800.73h14.8v1.84h-14.8zM578.5 800.73h14.8v1.84h-14.8zM477.7 811.23h14.8v1.86h-14.8zM520.9 811.23h14.8v1.86h-14.8zM463.3 812.74h14.8v1.86h-14.8zM492.1 812.74h43.6v1.86h-43.6zM463.3 820.3h14.8v1.86h-14.8zM520.9 820.3h14.8v1.86h-14.8zM492.1 821.81h14.8v1.86h-14.8zM448.9 824.84h14.8v1.86h-14.8zM520.9 824.84h14.8v1.86h-14.8zM506.5 826.35h14.8v1.86h-14.8zM448.9 827.86h72.4v1.86h-72.4zM520.9 841.48h14.8v1.86h-14.8zM477.7 842.99h14.8v1.86h-14.8zM506.5 842.99h29.2v1.86h-29.2zM477.7 844.5h29.2v1.86h-29.2zM448.9 846.01h14.8v1.86h-14.8zM448.9 850.55h14.8v1.86h-14.8zM506.5 850.55h14.8v1.86h-14.8zM448.9 852.06h14.8v1.86h-14.8zM477.7 852.06h29.2v1.86h-29.2zM520.9 852.06h14.8v1.86h-14.8zM549.7 855.09h14.8v1.86h-14.8zM592.9 859.62h14.8v1.86h-14.8zM477.7 861.14h43.6v1.86h-43.6zM592.9 861.14h14.8v1.86h-14.8zM506.5 864.16h14.8v1.86h-14.8zM592.9 867.19h14.8v1.86h-14.8z" fill="#fcfcc6"/>
<path d="M448.9 538.48h14.8v1.83h-14.8zM477.7 581.49h14.8v1.83h-14.8zM535.3 856.6h14.8v1.86h-14.8z" fill="#f0fcde"/>
<path d="M463.3 538.48h14.8v1.83h-14.8zM506.5 548.86h29.2v1.83h-29.2zM463.3 551.83h14.8v1.83h-14.8zM477.7 553.31h29.2v1.83h-29.2zM448.9 554.79h14.8v1.83h-14.8zM477.7 554.79h14.8v1.83h-14.8zM506.5 554.79h29.2v1.83h-29.2zM448.9 556.28h43.6v1.83h-43.6zM520.9 556.28h14.8v1.83h-14.8zM492.1 557.76h14.8v1.83h-14.8zM506.5 559.24h14.8v1.83h-14.8zM492.1 562.21h14.8v1.83h-14.8zM448.9 581.49h29.2v1.83h-29.2zM492.1 581.49h29.2v1.83h-29.2zM463.3 582.97h14.8v1.83h-14.8zM520.9 587.42h14.8v1.83h-14.8zM592.9 827.86h14.8v1.86h-14.8zM549.7 836.94h14.8v1.86h-14.8zM549.7 838.45h14.8v1.86h-14.8zM592.9 838.45h14.8v1.86h-14.8zM592.9 839.96h14.8v1.86h-14.8zM592.9 842.99h14.8v1.86h-14.8zM535.3 844.5h14.8v1.86h-14.8zM592.9 844.5h14.8v1.86h-14.8zM535.3 846.01h14.8v1.86h-14.8zM592.9 846.01h14.8v1.86h-14.8zM535.3 847.53h14.8v1.86h-14.8zM535.3 849.04h43.6v1.86h-43.6zM549.7 853.58h29.2v1.86h-29.2zM535.3 855.09h14.8v1.86h-14.8zM535.3 862.65h14.8v1.86h-14.8zM535.3 865.68h14.8v1.86h-14.8z" fill="#f0fcd8"/>
<path d="M477.7 538.48h58v1.83h-58zM492.1 556.28h14.8v1.83h-14.8zM448.9 566.66h14.8v1.83h-14.8zM477.7 566.66h29.2v1.83h-29.2zM520.9 566.66h14.8v1.83h-14.8zM607.3 800.73h14.4v1.84h-14.4zM592.9 832.4h14.8v1.86h-14.8zM535.3 841.48h14.8v1.86h-14.8zM564.1 841.48h14.8v1.86h-14.8zM592.9 841.48h14.8v1.86h-14.8zM549.7 844.5h29.2v1.86h-29.2zM549.7 847.53h14.8v1.86h-14.8zM592.9 847.53h14.8v1.86h-14.8zM549.7 852.06h14.8v1.86h-14.8zM592.9 852.06h14.8v1.86h-14.8zM564.1 855.09h14.8v1.86h-14.8zM549.7 856.6h29.2v1.86h-29.2zM592.9 856.6h14.8v1.86h-14.8zM549.7 858.11h14.8v1.86h-14.8zM592.9 858.11h14.8v1.86h-14.8zM549.7 859.62h29.2v1.86h-29.2zM535.3 861.14h14.8v1.86h-14.8zM549.7 862.65h29.2v1.86h-29.2zM592.9 862.65h14.8v1.86h-14.8zM535.3 864.16h14.8v1.86h-14.8zM564.1 864.16h14.8v1.86h-14.8zM564.1 865.68h14.8v1.86h-14.8zM535.3 867.19h14.8v1.86h-14.8z" fill="#f6fcd2"/>
<path d="M448.9 539.97h14.8v1.83h-14.8zM520.9 539.97h14.8v1.83h-14.8zM463.3 548.86h14.8v1.83h-14.8zM448.9 550.35h14.8v1.83h-14.8zM477.7 550.35h14.8v1.83h-14.8zM520.9 550.35h14.8v1.83h-14.8zM448.9 551.83h14.8v1.83h-14.8zM477.7 551.83h14.8v1.83h-14.8zM506.5 551.83h29.2v1.83h-29.2zM463.3 553.31h14.8v1.83h-14.8zM506.5 553.31h14.8v1.83h-14.8zM463.3 554.79h14.8v1.83h-14.8zM448.9 557.76h14.8v1.83h-14.8zM477.7 557.76h14.8v1.83h-14.8zM520.9 557.76h14.8v1.83h-14.8zM463.3 559.24h14.8v1.83h-14.8zM448.9 560.73h14.8v1.83h-14.8zM520.9 560.73h14.8v1.83h-14.8zM463.3 562.21h29.2v1.83h-29.2zM520.9 562.21h14.8v1.83h-14.8zM448.9 565.17h43.6v1.83h-43.6zM506.5 565.17h14.8v1.83h-14.8zM463.3 568.14h29.2v1.83h-29.2zM592.9 577.04h14.8v1.83h-14.8zM506.5 578.52h29.2v1.83h-29.2zM448.9 580h29.2v1.83h-29.2zM492.1 580h14.8v1.83h-14.8zM477.7 582.97h43.6v1.83h-43.6zM477.7 585.93h29.2v1.83h-29.2zM520.9 585.93h14.8v1.83h-14.8zM448.9 587.42h14.8v1.83h-14.8zM492.1 587.42h14.8v1.83h-14.8zM592.9 814.25h14.8v1.86h-14.8zM535.3 815.76h14.8v1.86h-14.8zM564.1 815.76h14.8v1.86h-14.8zM592.9 815.76h14.8v1.86h-14.8zM592.9 820.3h14.8v1.86h-14.8zM549.7 823.33h29.2v1.86h-29.2zM592.9 826.35h14.8v1.86h-14.8zM564.1 827.86h14.8v1.86h-14.8zM535.3 830.89h29.2v1.86h-29.2zM549.7 832.4h29.2v1.86h-29.2zM549.7 833.91h29.2v1.86h-29.2zM535.3 835.43h29.2v1.86h-29.2zM564.1 836.94h14.8v1.86h-14.8zM564.1 839.96h14.8v1.86h-14.8zM564.1 842.99h14.8v1.86h-14.8zM592.9 850.55h14.8v1.86h-14.8zM578.5 859.62h14.8v1.86h-14.8zM607.3 861.14h14.4v1.86h-14.4zM578.5 862.65h14.8v1.86h-14.8zM607.3 862.65h14.4v1.86h-14.4zM578.5 864.16h14.8v1.86h-14.8zM607.3 867.19h14.4v1.86h-14.4z" fill="#eaf6e4"/>
<path d="M463.3 539.97h14.8v1.83h-14.8zM506.5 550.35h14.8v1.83h-14.8zM520.9 559.24h14.8v1.83h-14.8zM448.9 578.52h14.8v1.83h-14.8zM492.1 578.52h14.8v1.83h-14.8zM448.9 582.97h14.8v1.83h-14.8zM506.5 585.93h14.8v1.83h-14.8z" fill="#eaf6de"/>
<path d="M477.7 539.97h43.6v1.83h-43.6zM448.9 548.86h14.8v1.83h-14.8zM477.7 548.86h29.2v1.83h-29.2zM492.1 551.83h14.8v1.83h-14.8zM448.9 553.31h14.8v1.83h-14.8zM520.9 553.31h14.8v1.83h-14.8zM492.1 554.79h14.8v1.83h-14.8zM506.5 556.28h14.8v1.83h-14.8zM506.5 557.76h14.8v1.83h-14.8zM448.9 559.24h14.8v1.83h-14.8zM477.7 559.24h29.2v1.83h-29.2zM477.7 560.73h14.8v1.83h-14.8zM506.5 560.73h14.8v1.83h-14.8zM506.5 562.21h14.8v1.83h-14.8zM520.9 565.17h14.8v1.83h-14.8zM463.3 566.66h14.8v1.83h-14.8zM506.5 566.66h14.8v1.83h-14.8zM463.3 578.52h29.2v1.83h-29.2zM520.9 581.49h14.8v1.83h-14.8zM463.3 585.93h14.8v1.83h-14.8zM463.3 587.42h29.2v1.83h-29.2zM592.9 823.33h14.8v1.86h-14.8zM549.7 827.86h14.8v1.86h-14.8zM564.1 830.89h14.8v1.86h-14.8zM592.9 830.89h14.8v1.86h-14.8zM592.9 833.91h14.8v1.86h-14.8zM592.9 836.94h14.8v1.86h-14.8zM535.3 838.45h14.8v1.86h-14.8zM535.3 839.96h29.2v1.86h-29.2zM535.3 842.99h29.2v1.86h-29.2zM549.7 846.01h29.2v1.86h-29.2zM564.1 847.53h14.8v1.86h-14.8zM535.3 852.06h14.8v1.86h-14.8zM564.1 852.06h14.8v1.86h-14.8zM535.3 853.58h14.8v1.86h-14.8zM607.3 855.09h14.4v1.86h-14.4zM535.3 858.11h14.8v1.86h-14.8zM564.1 858.11h14.8v1.86h-14.8zM578.5 861.14h14.8v1.86h-14.8zM607.3 864.16h14.4v1.86h-14.4zM549.7 865.68h14.8v1.86h-14.8zM578.5 867.19h14.8v1.86h-14.8z" fill="#f0f6de"/>
<path d="M448.9 541.45h14.8v1.83h-14.8zM477.7 541.45h14.8v1.83h-14.8zM520.9 541.45h14.8v1.83h-14.8zM463.3 545.9h43.6v1.83h-43.6zM463.3 569.62h14.8v1.83h-14.8zM506.5 569.62h14.8v1.83h-14.8zM448.9 572.59h14.8v1.83h-14.8zM506.5 572.59h14.8v1.83h-14.8zM578.5 624.16h14.8v1.86h-14.8zM535.3 721.14h43.6v1.92h-43.6zM592.9 721.14h28.8v1.92h-28.8zM549.7 724.29h14.8v1.92h-14.8zM578.5 724.29h14.8v1.92h-14.8zM578.5 725.86h14.8v1.92h-14.8zM549.7 729h14.8v1.84h-14.8zM578.5 729h29.2v1.84h-29.2zM578.5 731.99h14.8v1.84h-14.8zM549.7 734.98h72v1.84h-72zM578.5 746.93h14.8v1.84h-14.8zM535.3 752.91h14.8v1.84h-14.8zM578.5 752.91h14.8v1.84h-14.8zM535.3 754.4h14.8v1.84h-14.8zM592.9 754.4h14.8v1.84h-14.8zM578.5 763.37h14.8v1.84h-14.8zM549.7 767.85h14.8v1.84h-14.8zM578.5 767.85h14.8v1.84h-14.8zM607.3 767.85h14.4v1.84h-14.4zM535.3 769.35h43.6v1.84h-43.6zM578.5 776.82h14.8v1.84h-14.8zM535.3 778.31h29.2v1.84h-29.2zM607.3 778.31h14.4v1.84h-14.4zM578.5 784.29h14.8v1.84h-14.8zM578.5 785.78h14.8v1.84h-14.8zM607.3 785.78h14.4v1.84h-14.4zM549.7 797.74h14.8v1.84h-14.8zM607.3 797.74h14.4v1.84h-14.4zM578.5 799.23h29.2v1.84h-29.2zM463.3 809.71h29.2v1.86h-29.2zM506.5 809.71h14.8v1.86h-14.8zM448.9 811.23h29.2v1.86h-29.2zM506.5 811.23h14.8v1.86h-14.8zM477.7 812.74h14.8v1.86h-14.8zM448.9 820.3h14.8v1.86h-14.8zM506.5 820.3h14.8v1.86h-14.8zM448.9 821.81h14.8v1.86h-14.8zM477.7 821.81h14.8v1.86h-14.8zM506.5 821.81h29.2v1.86h-29.2zM463.3 824.84h58v1.86h-58zM463.3 829.38h29.2v1.86h-29.2zM506.5 835.43h29.2v1.86h-29.2zM520.9 839.96h14.8v1.86h-14.8zM463.3 841.48h43.6v1.86h-43.6zM448.9 842.99h29.2v1.86h-29.2zM492.1 842.99h14.8v1.86h-14.8zM448.9 844.5h14.8v1.86h-14.8zM506.5 844.5h29.2v1.86h-29.2zM463.3 846.01h29.2v1.86h-29.2zM506.5 846.01h29.2v1.86h-29.2zM520.9 847.53h14.8v1.86h-14.8zM448.9 849.04h14.8v1.86h-14.8zM463.3 850.55h43.6v1.86h-43.6zM463.3 852.06h14.8v1.86h-14.8zM492.1 855.09h14.8v1.86h-14.8zM448.9 858.11h14.8v1.86h-14.8zM506.5 858.11h29.2v1.86h-29.2zM448.9 859.62h14.8v1.86h-14.8zM506.5 859.62h14.8v1.86h-14.8zM448.9 861.14h29.2v1.86h-29.2zM520.9 861.14h14.8v1.86h-14.8zM448.9 864.16h58v1.86h-58zM520.9 864.16h14.8v1.86h-14.8z" fill="#fcfcc0"/>
<path d="M463.3 541.45h14.8v1.83h-14.8zM492.1 541.45h29.2v1.83h-29.2zM463.3 563.69h14.8v1.83h-14.8zM492.1 563.69h29.2v1.83h-29.2zM463.3 572.59h43.6v1.83h-43.6zM520.9 572.59h14.8v1.83h-14.8zM448.9 574.07h29.2v1.83h-29.2zM492.1 574.07h43.6v1.83h-43.6zM448.9 577.04h14.8v1.83h-14.8zM506.5 577.04h29.2v1.83h-29.2zM564.1 624.16h14.8v1.86h-14.8zM578.5 628.7h14.8v1.86h-14.8zM607.3 654.44h14.4v1.86h-14.4zM564.1 718h43.6v1.92h-43.6zM564.1 724.29h14.8v1.92h-14.8zM607.3 724.29h14.4v1.92h-14.4zM535.3 725.86h43.6v1.92h-43.6zM592.9 725.86h28.8v1.92h-28.8zM549.7 727.43h29.2v1.92h-29.2zM535.3 731.99h29.2v1.84h-29.2zM578.5 733.48h14.8v1.84h-14.8zM535.3 734.98h14.8v1.84h-14.8zM564.1 737.97h14.8v1.84h-14.8zM535.3 742.45h29.2v1.84h-29.2zM578.5 742.45h14.8v1.84h-14.8zM535.3 746.93h14.8v1.84h-14.8zM564.1 746.93h14.8v1.84h-14.8zM564.1 748.43h14.8v1.84h-14.8zM549.7 752.91h14.8v1.84h-14.8zM592.9 752.91h14.8v1.84h-14.8zM549.7 754.4h14.8v1.84h-14.8zM607.3 754.4h14.4v1.84h-14.4zM549.7 757.39h14.8v1.84h-14.8zM578.5 757.39h29.2v1.84h-29.2zM535.3 763.37h43.6v1.84h-43.6zM535.3 767.85h14.8v1.84h-14.8zM564.1 767.85h14.8v1.84h-14.8zM592.9 769.35h28.8v1.84h-28.8zM578.5 775.32h14.8v1.84h-14.8zM549.7 776.82h29.2v1.84h-29.2zM592.9 776.82h28.8v1.84h-28.8zM592.9 778.31h14.8v1.84h-14.8zM578.5 779.81h29.2v1.84h-29.2zM578.5 781.3h14.8v1.84h-14.8zM535.3 782.8h29.2v1.84h-29.2zM592.9 782.8h14.8v1.84h-14.8zM535.3 784.29h14.8v1.84h-14.8zM607.3 784.29h14.4v1.84h-14.4zM549.7 785.78h29.2v1.84h-29.2zM592.9 785.78h14.8v1.84h-14.8zM549.7 787.28h72v1.84h-72zM578.5 790.27h14.8v1.84h-14.8zM578.5 793.26h14.8v1.84h-14.8zM607.3 793.26h14.4v1.84h-14.4zM549.7 794.75h43.6v1.84h-43.6zM578.5 796.25h14.8v1.84h-14.8zM592.9 797.74h14.8v1.84h-14.8zM549.7 799.23h29.2v1.84h-29.2zM607.3 799.23h14.4v1.84h-14.4zM535.3 802.22h29.2v1.84h-29.2zM578.5 802.22h29.2v1.84h-29.2zM549.7 805.21h43.6v1.84h-43.6zM448.9 808.2h14.8v1.86h-14.8zM492.1 808.2h14.8v1.86h-14.8zM448.9 809.71h14.8v1.86h-14.8zM492.1 809.71h14.8v1.86h-14.8zM520.9 809.71h14.8v1.86h-14.8zM492.1 811.23h14.8v1.86h-14.8zM448.9 812.74h14.8v1.86h-14.8zM448.9 817.28h43.6v1.86h-43.6zM520.9 817.28h14.8v1.86h-14.8zM448.9 818.79h14.8v1.86h-14.8zM492.1 818.79h29.2v1.86h-29.2zM477.7 820.3h29.2v1.86h-29.2zM448.9 823.33h14.8v1.86h-14.8zM492.1 823.33h29.2v1.86h-29.2zM448.9 826.35h58v1.86h-58zM448.9 829.38h14.8v1.86h-14.8zM492.1 829.38h43.6v1.86h-43.6zM448.9 832.4h14.8v1.86h-14.8zM492.1 832.4h29.2v1.86h-29.2zM492.1 833.91h29.2v1.86h-29.2zM463.3 835.43h43.6v1.86h-43.6zM448.9 836.94h14.8v1.86h-14.8zM506.5 836.94h14.8v1.86h-14.8zM463.3 838.45h58v1.86h-58zM448.9 839.96h72.4v1.86h-72.4zM448.9 841.48h14.8v1.86h-14.8zM506.5 841.48h14.8v1.86h-14.8zM448.9 847.53h72.4v1.86h-72.4zM477.7 849.04h29.2v1.86h-29.2zM520.9 849.04h14.8v1.86h-14.8zM520.9 850.55h14.8v1.86h-14.8zM520.9 853.58h14.8v1.86h-14.8zM448.9 855.09h43.6v1.86h-43.6zM506.5 855.09h29.2v1.86h-29.2zM477.7 856.6h14.8v1.86h-14.8zM492.1 858.11h14.8v1.86h-14.8zM477.7 859.62h29.2v1.86h-29.2zM520.9 859.62h14.8v1.86h-14.8zM492.1 862.65h29.2v1.86h-29.2zM448.9 865.68h43.6v1.86h-43.6zM477.7 867.19h14.8v1.86h-14.8z" fill="#fcfcba"/>
<path d="M463.3 542.93h14.8v1.83h-14.8zM520.9 544.41h14.8v1.83h-14.8zM463.3 550.35h14.8v1.83h-14.8zM492.1 550.35h14.8v1.83h-14.8zM463.3 557.76h14.8v1.83h-14.8zM463.3 560.73h14.8v1.83h-14.8zM492.1 560.73h14.8v1.83h-14.8zM448.9 562.21h14.8v1.83h-14.8zM492.1 565.17h14.8v1.83h-14.8zM448.9 568.14h14.8v1.83h-14.8zM492.1 568.14h14.8v1.83h-14.8zM549.7 577.04h29.2v1.83h-29.2zM477.7 580h14.8v1.83h-14.8zM520.9 580h14.8v1.83h-14.8zM520.9 582.97h14.8v1.83h-14.8zM448.9 585.93h14.8v1.83h-14.8zM592.9 812.74h14.8v1.86h-14.8zM535.3 814.25h14.8v1.86h-14.8zM549.7 815.76h14.8v1.86h-14.8zM592.9 817.28h14.8v1.86h-14.8zM549.7 818.79h14.8v1.86h-14.8zM549.7 820.3h14.8v1.86h-14.8zM549.7 821.81h14.8v1.86h-14.8zM592.9 821.81h14.8v1.86h-14.8zM535.3 823.33h14.8v1.86h-14.8zM549.7 824.84h14.8v1.86h-14.8zM535.3 826.35h29.2v1.86h-29.2zM535.3 833.91h14.8v1.86h-14.8zM564.1 835.43h14.8v1.86h-14.8zM592.9 835.43h14.8v1.86h-14.8zM564.1 838.45h14.8v1.86h-14.8zM578.5 839.96h14.8v1.86h-14.8zM578.5 844.5h14.8v1.86h-14.8zM535.3 850.55h14.8v1.86h-14.8zM578.5 858.11h14.8v1.86h-14.8zM607.3 858.11h14.4v1.86h-14.4zM607.3 859.62h14.4v1.86h-14.4zM578.5 865.68h14.8v1.86h-14.8zM607.3 865.68h14.4v1.86h-14.4z" fill="#eaf6ea"/>
<path d="M520.9 545.9h14.8v1.83h-14.8zM463.3 571.11h14.8v1.83h-14.8zM520.9 571.11h14.8v1.83h-14.8zM535.3 800.73h14.8v1.84h-14.8zM463.3 821.81h14.8v1.86h-14.8zM463.3 844.5h14.8v1.86h-14.8z" fill="#fcfccc"/>
<path d="M448.9 563.69h14.8v1.83h-14.8zM477.7 563.69h14.8v1.83h-14.8zM520.9 563.69h14.8v1.83h-14.8zM477.7 577.04h29.2v1.83h-29.2zM578.5 618.1h14.8v1.86h-14.8zM578.5 619.61h14.8v1.86h-14.8zM549.7 624.16h14.8v1.86h-14.8zM578.5 631.73h14.8v1.86h-14.8zM578.5 637.79h14.8v1.86h-14.8zM578.5 645.36h14.8v1.86h-14.8zM578.5 648.39h14.8v1.86h-14.8zM549.7 654.44h14.8v1.86h-14.8zM578.5 655.96h14.8v1.86h-14.8zM535.3 718h14.8v1.92h-14.8zM607.3 718h14.4v1.92h-14.4zM607.3 719.57h14.4v1.92h-14.4zM535.3 722.71h29.2v1.92h-29.2zM592.9 722.71h14.8v1.92h-14.8zM535.3 727.43h14.8v1.92h-14.8zM578.5 727.43h29.2v1.92h-29.2zM535.3 729h14.8v1.84h-14.8zM607.3 729h14.4v1.84h-14.4zM578.5 730.49h14.8v1.84h-14.8zM564.1 731.99h14.8v1.84h-14.8zM592.9 731.99h28.8v1.84h-28.8zM564.1 733.48h14.8v1.84h-14.8zM592.9 733.48h28.8v1.84h-28.8zM578.5 736.47h14.8v1.84h-14.8zM535.3 737.97h14.8v1.84h-14.8zM578.5 737.97h14.8v1.84h-14.8zM607.3 737.97h14.4v1.84h-14.4zM578.5 740.95h14.8v1.84h-14.8zM607.3 740.95h14.4v1.84h-14.4zM607.3 742.45h14.4v1.84h-14.4zM578.5 743.94h14.8v1.84h-14.8zM549.7 746.93h14.8v1.84h-14.8zM592.9 746.93h14.8v1.84h-14.8zM549.7 748.43h14.8v1.84h-14.8zM578.5 748.43h14.8v1.84h-14.8zM535.3 751.42h29.2v1.84h-29.2zM578.5 751.42h14.8v1.84h-14.8zM607.3 751.42h14.4v1.84h-14.4zM607.3 752.91h14.4v1.84h-14.4zM607.3 757.39h14.4v1.84h-14.4zM549.7 760.38h72v1.84h-72zM607.3 763.37h14.4v1.84h-14.4zM592.9 767.85h14.8v1.84h-14.8zM549.7 772.34h14.8v1.84h-14.8zM578.5 772.34h43.2v1.84h-43.2zM535.3 773.83h14.8v1.84h-14.8zM578.5 773.83h14.8v1.84h-14.8zM549.7 775.32h14.8v1.84h-14.8zM592.9 775.32h14.8v1.84h-14.8zM535.3 776.82h14.8v1.84h-14.8zM535.3 779.81h43.6v1.84h-43.6zM564.1 781.3h14.8v1.84h-14.8zM564.1 782.8h14.8v1.84h-14.8zM592.9 784.29h14.8v1.84h-14.8zM535.3 785.78h14.8v1.84h-14.8zM578.5 788.77h14.8v1.84h-14.8zM564.1 790.27h14.8v1.84h-14.8zM607.3 790.27h14.4v1.84h-14.4zM535.3 793.26h14.8v1.84h-14.8zM592.9 793.26h14.8v1.84h-14.8zM535.3 794.75h14.8v1.84h-14.8zM592.9 794.75h14.8v1.84h-14.8zM535.3 796.25h14.8v1.84h-14.8zM592.9 796.25h28.8v1.84h-28.8zM535.3 799.23h14.8v1.84h-14.8zM564.1 802.22h14.8v1.84h-14.8zM535.3 805.21h14.8v1.84h-14.8zM592.9 805.21h28.8v1.84h-28.8zM520.9 808.2h14.8v1.86h-14.8zM448.9 814.25h58v1.86h-58zM463.3 815.76h14.8v1.86h-14.8zM492.1 815.76h43.6v1.86h-43.6zM492.1 817.28h14.8v1.86h-14.8zM463.3 818.79h14.8v1.86h-14.8zM477.7 823.33h14.8v1.86h-14.8zM520.9 823.33h14.8v1.86h-14.8zM520.9 826.35h14.8v1.86h-14.8zM463.3 830.89h29.2v1.86h-29.2zM506.5 830.89h29.2v1.86h-29.2zM520.9 832.4h14.8v1.86h-14.8zM463.3 833.91h14.8v1.86h-14.8zM520.9 833.91h14.8v1.86h-14.8zM448.9 835.43h14.8v1.86h-14.8zM463.3 836.94h14.8v1.86h-14.8zM492.1 836.94h14.8v1.86h-14.8zM520.9 836.94h14.8v1.86h-14.8zM448.9 838.45h14.8v1.86h-14.8zM463.3 849.04h14.8v1.86h-14.8zM506.5 849.04h14.8v1.86h-14.8zM448.9 853.58h58v1.86h-58zM448.9 856.6h14.8v1.86h-14.8zM492.1 856.6h43.6v1.86h-43.6zM463.3 858.11h29.2v1.86h-29.2zM463.3 859.62h14.8v1.86h-14.8zM448.9 862.65h29.2v1.86h-29.2zM520.9 865.68h14.8v1.86h-14.8zM448.9 867.19h14.8v1.86h-14.8zM506.5 867.19h14.8v1.86h-14.8z" fill="#fcf6b4"/>
<path d="M477.7 574.07h14.8v1.83h-14.8zM463.3 577.04h14.8v1.83h-14.8zM535.3 654.44h14.8v1.86h-14.8zM578.5 657.47h14.8v1.86h-14.8zM564.1 729h14.8v1.84h-14.8zM535.3 740.95h14.8v1.84h-14.8zM564.1 742.45h14.8v1.84h-14.8zM592.9 742.45h14.8v1.84h-14.8zM564.1 752.91h14.8v1.84h-14.8zM564.1 775.32h14.8v1.84h-14.8zM607.3 779.81h14.4v1.84h-14.4zM607.3 782.8h14.4v1.84h-14.4zM549.7 784.29h14.8v1.84h-14.8zM535.3 787.28h14.8v1.84h-14.8zM549.7 790.27h14.8v1.84h-14.8zM607.3 794.75h14.4v1.84h-14.4zM564.1 796.25h14.8v1.84h-14.8zM607.3 802.22h14.4v1.84h-14.4zM463.3 808.2h29.2v1.86h-29.2zM506.5 808.2h14.8v1.86h-14.8zM448.9 815.76h14.8v1.86h-14.8zM477.7 815.76h14.8v1.86h-14.8zM506.5 817.28h14.8v1.86h-14.8zM477.7 818.79h14.8v1.86h-14.8zM520.9 818.79h14.8v1.86h-14.8zM448.9 830.89h14.8v1.86h-14.8zM463.3 832.4h29.2v1.86h-29.2zM448.9 833.91h14.8v1.86h-14.8zM477.7 833.91h14.8v1.86h-14.8zM477.7 862.65h14.8v1.86h-14.8zM520.9 862.65h14.8v1.86h-14.8zM506.5 865.68h14.8v1.86h-14.8zM520.9 867.19h14.8v1.86h-14.8z" fill="#fcfcb4"/>
<path d="M448.9 575.55h29.2v1.83h-29.2zM492.1 575.55h14.8v1.83h-14.8zM578.5 613.56h14.8v1.86h-14.8zM578.5 615.07h14.8v1.86h-14.8zM535.3 618.1h29.2v1.86h-29.2zM549.7 619.61h14.8v1.86h-14.8zM578.5 621.13h14.8v1.86h-14.8zM592.9 624.16h14.8v1.86h-14.8zM578.5 625.67h14.8v1.86h-14.8zM578.5 627.19h14.8v1.86h-14.8zM549.7 628.7h14.8v1.86h-14.8zM578.5 630.21h14.8v1.86h-14.8zM564.1 631.73h14.8v1.86h-14.8zM607.3 631.73h14.4v1.86h-14.4zM535.3 633.24h14.8v1.86h-14.8zM564.1 633.24h14.8v1.86h-14.8zM607.3 633.24h14.4v1.86h-14.4zM578.5 634.76h14.8v1.86h-14.8zM564.1 637.79h14.8v1.86h-14.8zM578.5 639.3h14.8v1.86h-14.8zM578.5 640.81h14.8v1.86h-14.8zM578.5 642.33h14.8v1.86h-14.8zM564.1 643.84h14.8v1.86h-14.8zM535.3 645.36h43.6v1.86h-43.6zM607.3 645.36h14.4v1.86h-14.4zM535.3 646.87h14.8v1.86h-14.8zM535.3 648.39h14.8v1.86h-14.8zM564.1 648.39h14.8v1.86h-14.8zM607.3 648.39h14.4v1.86h-14.4zM578.5 652.93h14.8v1.86h-14.8zM549.7 657.47h14.8v1.86h-14.8zM535.3 719.57h29.2v1.92h-29.2zM549.7 730.49h29.2v1.84h-29.2zM592.9 730.49h28.8v1.84h-28.8zM549.7 736.47h14.8v1.84h-14.8zM535.3 739.46h14.8v1.84h-14.8zM564.1 739.46h29.2v1.84h-29.2zM564.1 740.95h14.8v1.84h-14.8zM592.9 740.95h14.8v1.84h-14.8zM549.7 743.94h14.8v1.84h-14.8zM592.9 743.94h14.8v1.84h-14.8zM535.3 745.44h43.6v1.84h-43.6zM592.9 745.44h28.8v1.84h-28.8zM607.3 748.43h14.4v1.84h-14.4zM535.3 749.92h14.8v1.84h-14.8zM564.1 749.92h29.2v1.84h-29.2zM607.3 749.92h14.4v1.84h-14.4zM564.1 751.42h14.8v1.84h-14.8zM535.3 755.9h43.6v1.84h-43.6zM592.9 755.9h14.8v1.84h-14.8zM578.5 758.89h14.8v1.84h-14.8zM578.5 761.88h14.8v1.84h-14.8zM564.1 764.86h14.8v1.84h-14.8zM592.9 764.86h28.8v1.84h-28.8zM564.1 766.36h29.2v1.84h-29.2zM564.1 772.34h14.8v1.84h-14.8zM549.7 773.83h29.2v1.84h-29.2zM549.7 781.3h14.8v1.84h-14.8zM592.9 788.77h14.8v1.84h-14.8zM564.1 791.76h14.8v1.84h-14.8zM549.7 803.72h14.8v1.84h-14.8zM592.9 803.72h28.8v1.84h-28.8zM535.3 806.71h43.6v1.84h-43.6z" fill="#fcf0a8"/>
<path d="M477.7 575.55h14.8v1.83h-14.8zM578.5 610.53h14.8v1.86h-14.8zM578.5 616.59h14.8v1.86h-14.8zM535.3 628.7h14.8v1.86h-14.8zM564.1 628.7h14.8v1.86h-14.8zM592.9 654.44h14.8v1.86h-14.8zM535.3 733.48h14.8v1.84h-14.8zM535.3 743.94h14.8v1.84h-14.8zM607.3 743.94h14.4v1.84h-14.4zM535.3 748.43h14.8v1.84h-14.8zM607.3 755.9h14.4v1.84h-14.4zM535.3 764.86h14.8v1.84h-14.8zM607.3 781.3h14.4v1.84h-14.4zM549.7 788.77h29.2v1.84h-29.2zM607.3 788.77h14.4v1.84h-14.4zM535.3 791.76h14.8v1.84h-14.8zM578.5 791.76h14.8v1.84h-14.8zM607.3 791.76h14.4v1.84h-14.4zM578.5 803.72h14.8v1.84h-14.8zM592.9 806.71h28.8v1.84h-28.8z" fill="#fcf0ae"/>
<path d="M506.5 575.55h14.8v1.83h-14.8zM564.1 619.61h14.8v1.86h-14.8zM607.3 619.61h14.4v1.86h-14.4zM607.3 628.7h14.4v1.86h-14.4zM535.3 631.73h14.8v1.86h-14.8zM549.7 633.24h14.8v1.86h-14.8zM535.3 637.79h14.8v1.86h-14.8zM607.3 637.79h14.4v1.86h-14.4zM607.3 657.47h14.4v1.86h-14.4zM592.9 739.46h14.8v1.84h-14.8zM592.9 749.92h14.8v1.84h-14.8zM607.3 761.88h14.4v1.84h-14.4zM535.3 781.3h14.8v1.84h-14.8zM549.7 791.76h14.8v1.84h-14.8z" fill="#fcf0a2"/>
<path d="M520.9 575.55h14.8v1.83h-14.8zM607.3 610.53h14.4v1.86h-14.4zM578.5 612.04h14.8v1.86h-14.8zM564.1 618.1h14.8v1.86h-14.8zM607.3 618.1h14.4v1.86h-14.4zM535.3 619.61h14.8v1.86h-14.8zM564.1 621.13h14.8v1.86h-14.8zM549.7 631.73h14.8v1.86h-14.8zM549.7 637.79h14.8v1.86h-14.8zM607.3 639.3h14.4v1.86h-14.4zM607.3 640.81h14.4v1.86h-14.4zM535.3 643.84h29.2v1.86h-29.2zM592.9 643.84h28.8v1.86h-28.8zM549.7 648.39h14.8v1.86h-14.8zM578.5 651.41h14.8v1.86h-14.8zM549.7 655.96h29.2v1.86h-29.2zM607.3 655.96h14.4v1.86h-14.4zM578.5 708.92h14.8v1.86h-14.8zM578.5 713.46h14.8v1.86h-14.8zM578.5 714.97h14.8v1.86h-14.8zM607.3 739.46h14.4v1.84h-14.4zM448.9 746.93h14.8v1.84h-14.8zM549.7 749.92h14.8v1.84h-14.8zM535.3 758.89h29.2v1.84h-29.2zM535.3 761.88h29.2v1.84h-29.2zM535.3 766.36h29.2v1.84h-29.2zM592.9 766.36h28.8v1.84h-28.8zM592.9 791.76h14.8v1.84h-14.8zM564.1 803.72h14.8v1.84h-14.8z" fill="#fceaa2"/>
<path d="M448.9 588.9h14.8v1.9h-14.8zM492.1 588.9h14.8v1.9h-14.8zM520.9 592h14.8v1.9h-14.8zM506.5 593.55h14.8v1.9h-14.8zM448.9 596.65h14.8v1.9h-14.8zM477.7 596.65h14.8v1.9h-14.8zM477.7 602.85h14.8v1.9h-14.8zM463.3 604.4h43.6v1.9h-43.6zM520.9 604.4h14.8v1.9h-14.8zM448.9 666.55h14.8v1.86h-14.8zM520.9 686.22h14.8v1.86h-14.8zM506.5 689.25h14.8v1.86h-14.8zM477.7 690.76h14.8v1.86h-14.8zM463.3 710.43h14.8v1.86h-14.8z" fill="#e4543c"/>
<path d="M463.3 588.9h14.8v1.9h-14.8zM506.5 588.9h14.8v1.9h-14.8zM448.9 595.1h14.8v1.9h-14.8zM520.9 596.65h14.8v1.9h-14.8zM492.1 599.75h14.8v1.9h-14.8zM448.9 602.85h14.8v1.9h-14.8zM520.9 605.95h14.8v1.9h-14.8z" fill="#de4836"/>
<path d="M477.7 588.9h14.8v1.9h-14.8zM463.3 590.45h14.8v1.9h-14.8zM463.3 592h58v1.9h-58zM463.3 596.65h14.8v1.9h-14.8zM477.7 598.2h14.8v1.9h-14.8zM463.3 599.75h29.2v1.9h-29.2zM520.9 601.3h14.8v1.9h-14.8zM448.9 690.76h14.8v1.86h-14.8zM520.9 690.76h14.8v1.86h-14.8z" fill="#e44e36"/>
<path d="M520.9 588.9h14.8v1.9h-14.8zM477.7 595.1h14.8v1.9h-14.8zM448.9 598.2h14.8v1.9h-14.8zM492.1 598.2h29.2v1.9h-29.2zM520.9 599.75h14.8v1.9h-14.8zM448.9 601.3h14.8v1.9h-14.8zM448.9 605.95h14.8v1.9h-14.8zM477.7 605.95h29.2v1.9h-29.2z" fill="#de4230"/>
<path d="M535.3 588.9h14.8v1.9h-14.8zM564.1 588.9h14.8v1.9h-14.8zM549.7 590.45h14.8v1.9h-14.8zM592.9 592h14.8v1.9h-14.8zM549.7 598.2h29.2v1.9h-29.2zM535.3 599.75h14.8v1.9h-14.8zM535.3 602.85h29.2v1.9h-29.2zM592.9 602.85h14.8v1.9h-14.8zM535.3 604.4h14.8v1.9h-14.8zM463.3 607.5h14.8v1.86h-14.8zM477.7 612.04h29.2v1.86h-29.2zM520.9 612.04h14.8v1.86h-14.8zM477.7 625.67h29.2v1.86h-29.2zM463.3 634.76h14.8v1.86h-14.8zM506.5 643.84h14.8v1.86h-14.8zM448.9 646.87h14.8v1.86h-14.8zM506.5 646.87h14.8v1.86h-14.8zM592.9 662.01h14.8v1.86h-14.8zM592.9 666.55h14.8v1.86h-14.8zM592.9 669.58h14.8v1.86h-14.8zM592.9 671.09h14.8v1.86h-14.8zM592.9 672.61h14.8v1.86h-14.8zM448.9 698.33h14.8v1.86h-14.8zM492.1 698.33h14.8v1.86h-14.8zM520.9 698.33h14.8v1.86h-14.8zM492.1 701.36h14.8v1.86h-14.8zM477.7 721.14h14.8v1.92h-14.8zM520.9 721.14h14.8v1.92h-14.8zM448.9 722.71h14.8v1.92h-14.8zM492.1 722.71h14.8v1.92h-14.8z" fill="#fc9660"/>
<path d="M549.7 588.9h14.8v1.9h-14.8zM535.3 593.55h43.6v1.9h-43.6zM564.1 599.75h14.8v1.9h-14.8zM592.9 599.75h14.8v1.9h-14.8zM535.3 601.3h14.8v1.9h-14.8zM592.9 605.95h14.8v1.9h-14.8zM448.9 607.5h14.8v1.86h-14.8zM477.7 615.07h14.8v1.86h-14.8zM448.9 621.13h14.8v1.86h-14.8zM477.7 621.13h43.6v1.86h-43.6zM506.5 625.67h29.2v1.86h-29.2zM463.3 628.7h14.8v1.86h-14.8zM506.5 628.7h14.8v1.86h-14.8zM492.1 634.76h29.2v1.86h-29.2zM448.9 642.33h14.8v1.86h-14.8zM477.7 642.33h14.8v1.86h-14.8zM477.7 645.36h29.2v1.86h-29.2zM520.9 645.36h14.8v1.86h-14.8zM448.9 649.9h14.8v1.86h-14.8zM477.7 649.9h14.8v1.86h-14.8zM506.5 649.9h29.2v1.86h-29.2zM592.9 674.12h14.8v1.86h-14.8zM592.9 687.74h14.8v1.86h-14.8zM592.9 692.28h14.8v1.86h-14.8zM592.9 702.87h14.8v1.86h-14.8zM592.9 705.89h14.8v1.86h-14.8zM592.9 710.43h14.8v1.86h-14.8zM448.9 724.29h14.8v1.92h-14.8zM448.9 725.86h14.8v1.92h-14.8zM506.5 725.86h14.8v1.92h-14.8zM448.9 727.43h14.8v1.92h-14.8zM463.3 743.94h14.8v1.84h-14.8zM463.3 778.31h14.8v1.84h-14.8zM506.5 778.31h14.8v1.84h-14.8zM477.7 779.81h14.8v1.84h-14.8z" fill="#fca266"/>
<path d="M578.5 588.9h14.8v1.9h-14.8zM578.5 593.55h14.8v1.9h-14.8zM578.5 601.3h14.8v1.9h-14.8zM535.3 607.5h14.8v1.86h-14.8zM535.3 609.01h14.8v1.86h-14.8zM564.1 609.01h14.8v1.86h-14.8zM592.9 612.04h14.8v1.86h-14.8zM592.9 615.07h14.8v1.86h-14.8zM592.9 616.59h14.8v1.86h-14.8zM592.9 630.21h14.8v1.86h-14.8zM549.7 636.27h14.8v1.86h-14.8zM592.9 639.3h14.8v1.86h-14.8zM564.1 642.33h14.8v1.86h-14.8zM549.7 649.9h14.8v1.86h-14.8zM592.9 649.9h14.8v1.86h-14.8zM607.3 651.41h14.4v1.86h-14.4zM592.9 652.93h14.8v1.86h-14.8zM463.3 657.47h14.8v1.86h-14.8zM492.1 657.47h29.2v1.86h-29.2zM535.3 658.99h43.6v1.86h-43.6zM535.3 660.5h43.6v1.86h-43.6zM578.5 671.09h14.8v1.86h-14.8zM607.3 671.09h14.4v1.86h-14.4zM607.3 672.61h14.4v1.86h-14.4zM578.5 678.66h14.8v1.86h-14.8zM578.5 687.74h14.8v1.86h-14.8zM535.3 689.25h14.8v1.86h-14.8zM607.3 693.79h14.4v1.86h-14.4zM549.7 695.3h14.8v1.86h-14.8zM549.7 696.82h14.8v1.86h-14.8zM549.7 704.38h14.8v1.86h-14.8zM564.1 708.92h14.8v1.86h-14.8zM578.5 710.43h14.8v1.86h-14.8zM448.9 731.99h14.8v1.84h-14.8zM477.7 731.99h14.8v1.84h-14.8zM477.7 733.48h58v1.84h-58zM520.9 734.98h14.8v1.84h-14.8zM448.9 739.46h14.8v1.84h-14.8zM477.7 740.95h29.2v1.84h-29.2zM520.9 740.95h14.8v1.84h-14.8zM492.1 742.45h14.8v1.84h-14.8zM520.9 754.4h14.8v1.84h-14.8zM463.3 757.39h14.8v1.84h-14.8zM492.1 757.39h14.8v1.84h-14.8zM477.7 763.37h29.2v1.84h-29.2zM492.1 766.36h29.2v1.84h-29.2zM477.7 770.84h14.8v1.84h-14.8zM448.9 776.82h29.2v1.84h-29.2zM492.1 776.82h29.2v1.84h-29.2zM448.9 781.3h14.8v1.84h-14.8zM477.7 781.3h29.2v1.84h-29.2zM477.7 782.8h43.6v1.84h-43.6zM463.3 787.28h14.8v1.84h-14.8zM477.7 788.77h29.2v1.84h-29.2zM463.3 793.26h14.8v1.84h-14.8zM506.5 793.26h14.8v1.84h-14.8zM506.5 797.74h14.8v1.84h-14.8zM463.3 802.22h14.8v1.84h-14.8zM492.1 803.72h29.2v1.84h-29.2zM492.1 806.71h14.8v1.84h-14.8z" fill="#fcd88a"/>
<path d="M592.9 588.9h14.8v1.9h-14.8zM549.7 595.1h14.8v1.9h-14.8zM564.1 601.3h14.8v1.9h-14.8zM592.9 601.3h14.8v1.9h-14.8zM477.7 607.5h14.8v1.86h-14.8zM506.5 607.5h29.2v1.86h-29.2zM506.5 612.04h14.8v1.86h-14.8zM463.3 625.67h14.8v1.86h-14.8zM463.3 642.33h14.8v1.86h-14.8zM492.1 642.33h14.8v1.86h-14.8zM477.7 646.87h14.8v1.86h-14.8zM463.3 649.9h14.8v1.86h-14.8zM492.1 649.9h14.8v1.86h-14.8zM592.9 663.53h14.8v1.86h-14.8zM477.7 724.29h14.8v1.92h-14.8zM520.9 725.86h14.8v1.92h-14.8zM520.9 778.31h14.8v1.84h-14.8z" fill="#fc9c66"/>
<path d="M607.3 588.9h14.4v1.9h-14.4zM607.3 601.3h14.4v1.9h-14.4zM592.9 607.5h14.8v1.86h-14.8zM463.3 613.56h14.8v1.86h-14.8zM448.9 616.59h14.8v1.86h-14.8zM448.9 618.1h29.2v1.86h-29.2zM492.1 618.1h14.8v1.86h-14.8zM520.9 618.1h14.8v1.86h-14.8zM592.9 622.64h14.8v1.86h-14.8zM463.3 648.39h58v1.86h-58zM607.3 662.01h14.4v1.86h-14.4zM564.1 675.63h14.8v1.86h-14.8zM535.3 677.14h14.8v1.86h-14.8zM564.1 680.17h14.8v1.86h-14.8zM535.3 681.68h29.2v1.86h-29.2zM564.1 687.74h14.8v1.86h-14.8zM549.7 692.28h14.8v1.86h-14.8zM535.3 696.82h14.8v1.86h-14.8zM535.3 698.33h14.8v1.86h-14.8zM564.1 699.84h14.8v1.86h-14.8zM549.7 701.36h14.8v1.86h-14.8zM549.7 702.87h14.8v1.86h-14.8zM549.7 707.41h14.8v1.86h-14.8zM535.3 716.49h14.8v1.86h-14.8zM448.9 729h14.8v1.84h-14.8zM477.7 736.47h14.8v1.84h-14.8zM520.9 742.45h14.8v1.84h-14.8zM520.9 751.42h14.8v1.84h-14.8zM520.9 752.91h14.8v1.84h-14.8zM448.9 755.9h14.8v1.84h-14.8zM492.1 755.9h43.6v1.84h-43.6zM448.9 758.89h14.8v1.84h-14.8zM448.9 760.38h29.2v1.84h-29.2zM506.5 760.38h14.8v1.84h-14.8zM477.7 761.88h14.8v1.84h-14.8zM506.5 763.37h14.8v1.84h-14.8zM520.9 767.85h14.8v1.84h-14.8zM506.5 775.32h14.8v1.84h-14.8zM463.3 784.29h14.8v1.84h-14.8zM463.3 790.27h14.8v1.84h-14.8zM520.9 796.25h14.8v1.84h-14.8zM492.1 797.74h14.8v1.84h-14.8zM492.1 799.23h14.8v1.84h-14.8zM477.7 806.71h14.8v1.84h-14.8z" fill="#fcc67e"/>
<path d="M448.9 590.45h14.8v1.9h-14.8zM492.1 590.45h14.8v1.9h-14.8zM463.3 602.85h14.8v1.9h-14.8zM492.1 602.85h14.8v1.9h-14.8zM463.3 660.5h14.8v1.86h-14.8zM492.1 660.5h14.8v1.86h-14.8zM448.9 662.01h14.8v1.86h-14.8zM492.1 666.55h14.8v1.86h-14.8zM463.3 671.09h29.2v1.86h-29.2zM492.1 677.14h29.2v1.86h-29.2zM506.5 681.68h14.8v1.86h-14.8zM477.7 684.71h29.2v1.86h-29.2zM448.9 686.22h29.2v1.86h-29.2zM492.1 686.22h29.2v1.86h-29.2zM448.9 689.25h14.8v1.86h-14.8zM463.3 690.76h14.8v1.86h-14.8zM477.7 692.28h14.8v1.86h-14.8zM506.5 692.28h14.8v1.86h-14.8zM463.3 693.79h29.2v1.86h-29.2zM506.5 696.82h29.2v1.86h-29.2zM477.7 705.89h14.8v1.86h-14.8zM448.9 710.43h14.8v1.86h-14.8zM492.1 710.43h29.2v1.86h-29.2zM463.3 713.46h14.8v1.86h-14.8z" fill="#ea6042"/>
<path d="M477.7 590.45h14.8v1.9h-14.8zM506.5 684.71h14.8v1.86h-14.8zM448.9 713.46h14.8v1.86h-14.8z" fill="#f06642"/>
<path d="M506.5 590.45h14.8v1.9h-14.8zM448.9 592h14.8v1.9h-14.8zM506.5 596.65h14.8v1.9h-14.8zM520.9 602.85h14.8v1.9h-14.8zM477.7 672.61h14.8v1.86h-14.8zM520.9 684.71h14.8v1.86h-14.8zM477.7 686.22h14.8v1.86h-14.8z" fill="#e45a3c"/>
<path d="M520.9 590.45h14.8v1.9h-14.8zM448.9 593.55h58v1.9h-58zM520.9 593.55h14.8v1.9h-14.8zM492.1 596.65h14.8v1.9h-14.8zM448.9 604.4h14.8v1.9h-14.8zM463.3 662.01h58v1.86h-58zM463.3 666.55h14.8v1.86h-14.8zM492.1 672.61h29.2v1.86h-29.2zM448.9 684.71h14.8v1.86h-14.8zM448.9 687.74h14.8v1.86h-14.8zM492.1 690.76h29.2v1.86h-29.2zM492.1 692.28h14.8v1.86h-14.8zM520.9 692.28h14.8v1.86h-14.8zM463.3 705.89h14.8v1.86h-14.8zM477.7 710.43h14.8v1.86h-14.8zM520.9 710.43h14.8v1.86h-14.8z" fill="#ea5a3c"/>
<path d="M535.3 590.45h14.8v1.9h-14.8zM535.3 592h14.8v1.9h-14.8zM564.1 592h14.8v1.9h-14.8zM564.1 595.1h14.8v1.9h-14.8zM592.9 598.2h14.8v1.9h-14.8zM549.7 604.4h29.2v1.9h-29.2zM592.9 604.4h14.8v1.9h-14.8zM492.1 607.5h14.8v1.86h-14.8zM492.1 610.53h29.2v1.86h-29.2zM448.9 625.67h14.8v1.86h-14.8zM463.3 646.87h14.8v1.86h-14.8zM492.1 646.87h14.8v1.86h-14.8zM520.9 646.87h14.8v1.86h-14.8zM477.7 665.04h14.8v1.86h-14.8zM592.9 665.04h14.8v1.86h-14.8zM592.9 686.22h14.8v1.86h-14.8zM477.7 698.33h14.8v1.86h-14.8zM506.5 698.33h14.8v1.86h-14.8zM448.9 701.36h14.8v1.86h-14.8zM506.5 704.38h14.8v1.86h-14.8zM506.5 711.95h14.8v1.86h-14.8zM463.3 719.57h29.2v1.92h-29.2zM506.5 719.57h29.2v1.92h-29.2zM448.9 721.14h29.2v1.92h-29.2zM463.3 722.71h14.8v1.92h-14.8z" fill="#fc905a"/>
<path d="M564.1 590.45h14.8v1.9h-14.8zM592.9 590.45h14.8v1.9h-14.8zM564.1 602.85h14.8v1.9h-14.8zM448.9 610.53h14.8v1.86h-14.8zM520.9 610.53h14.8v1.86h-14.8zM492.1 643.84h14.8v1.86h-14.8zM463.3 698.33h14.8v1.86h-14.8zM463.3 711.95h14.8v1.86h-14.8zM520.9 711.95h14.8v1.86h-14.8zM463.3 718h14.8v1.92h-14.8zM448.9 719.57h14.8v1.92h-14.8zM506.5 721.14h14.8v1.92h-14.8zM520.9 722.71h14.8v1.92h-14.8z" fill="#fc8a5a"/>
<path d="M578.5 590.45h14.8v1.9h-14.8zM578.5 602.85h14.8v1.9h-14.8zM549.7 607.5h14.8v1.86h-14.8zM448.9 613.56h14.8v1.86h-14.8zM506.5 613.56h14.8v1.86h-14.8zM564.1 622.64h14.8v1.86h-14.8zM448.9 636.27h43.6v1.86h-43.6zM506.5 636.27h29.2v1.86h-29.2zM592.9 636.27h14.8v1.86h-14.8zM607.3 658.99h14.4v1.86h-14.4zM578.5 662.01h14.8v1.86h-14.8zM607.3 663.53h14.4v1.86h-14.4zM607.3 666.55h14.4v1.86h-14.4zM564.1 668.07h14.8v1.86h-14.8zM578.5 669.58h14.8v1.86h-14.8zM607.3 675.63h14.4v1.86h-14.4zM607.3 678.66h14.4v1.86h-14.4zM564.1 681.68h14.8v1.86h-14.8zM535.3 683.2h14.8v1.86h-14.8zM564.1 683.2h14.8v1.86h-14.8zM578.5 686.22h14.8v1.86h-14.8zM564.1 690.76h14.8v1.86h-14.8zM564.1 692.28h14.8v1.86h-14.8zM564.1 696.82h14.8v1.86h-14.8zM564.1 698.33h14.8v1.86h-14.8zM549.7 699.84h14.8v1.86h-14.8zM535.3 704.38h14.8v1.86h-14.8zM549.7 708.92h14.8v1.86h-14.8zM549.7 713.46h14.8v1.86h-14.8zM535.3 714.97h14.8v1.86h-14.8zM492.1 730.49h29.2v1.84h-29.2zM520.9 731.99h14.8v1.84h-14.8zM492.1 734.98h14.8v1.84h-14.8zM463.3 736.47h14.8v1.84h-14.8zM520.9 736.47h14.8v1.84h-14.8zM492.1 739.46h14.8v1.84h-14.8zM520.9 739.46h14.8v1.84h-14.8zM448.9 742.45h29.2v1.84h-29.2zM506.5 742.45h14.8v1.84h-14.8zM448.9 745.44h58v1.84h-58zM448.9 749.92h14.8v1.84h-14.8zM448.9 752.91h14.8v1.84h-14.8zM492.1 752.91h14.8v1.84h-14.8zM463.3 754.4h14.8v1.84h-14.8zM477.7 755.9h14.8v1.84h-14.8zM448.9 757.39h14.8v1.84h-14.8zM463.3 758.89h29.2v1.84h-29.2zM520.9 760.38h14.8v1.84h-14.8zM448.9 763.37h29.2v1.84h-29.2zM477.7 764.86h29.2v1.84h-29.2zM492.1 770.84h14.8v1.84h-14.8zM477.7 776.82h14.8v1.84h-14.8zM520.9 776.82h14.8v1.84h-14.8zM520.9 781.3h14.8v1.84h-14.8zM492.1 784.29h14.8v1.84h-14.8zM477.7 790.27h58v1.84h-58zM477.7 793.26h29.2v1.84h-29.2zM477.7 797.74h14.8v1.84h-14.8zM448.9 799.23h43.6v1.84h-43.6zM506.5 799.23h29.2v1.84h-29.2zM448.9 802.22h14.8v1.84h-14.8zM492.1 802.22h29.2v1.84h-29.2zM448.9 803.72h14.8v1.84h-14.8z" fill="#fccc84"/>
<path d="M607.3 590.45h14.4v1.9h-14.4zM549.7 599.75h14.8v1.9h-14.8zM477.7 609.01h14.8v1.86h-14.8zM506.5 619.61h14.8v1.86h-14.8zM492.1 627.19h14.8v1.86h-14.8zM448.9 628.7h14.8v1.86h-14.8zM492.1 628.7h14.8v1.86h-14.8zM448.9 630.21h14.8v1.86h-14.8zM520.9 630.21h14.8v1.86h-14.8zM492.1 633.24h14.8v1.86h-14.8zM448.9 639.3h14.8v1.86h-14.8zM477.7 639.3h14.8v1.86h-14.8zM477.7 640.81h14.8v1.86h-14.8zM506.5 640.81h14.8v1.86h-14.8zM506.5 642.33h14.8v1.86h-14.8zM506.5 645.36h14.8v1.86h-14.8zM506.5 651.41h14.8v1.86h-14.8zM492.1 652.93h14.8v1.86h-14.8zM492.1 654.44h14.8v1.86h-14.8zM492.1 658.99h14.8v1.86h-14.8zM520.9 658.99h14.8v1.86h-14.8zM535.3 662.01h14.8v1.86h-14.8zM564.1 665.04h14.8v1.86h-14.8zM535.3 666.55h14.8v1.86h-14.8zM549.7 669.58h14.8v1.86h-14.8zM549.7 678.66h14.8v1.86h-14.8zM592.9 699.84h14.8v1.86h-14.8zM592.9 701.36h14.8v1.86h-14.8zM564.1 707.41h14.8v1.86h-14.8zM520.9 724.29h14.8v1.92h-14.8zM463.3 725.86h14.8v1.92h-14.8zM463.3 727.43h14.8v1.92h-14.8zM506.5 727.43h14.8v1.92h-14.8zM448.9 743.94h14.8v1.84h-14.8zM520.9 785.78h14.8v1.84h-14.8z" fill="#fcae6c"/>
<path d="M549.7 592h14.8v1.9h-14.8zM592.9 593.55h14.8v1.9h-14.8zM535.3 595.1h14.8v1.9h-14.8zM592.9 595.1h14.8v1.9h-14.8zM463.3 612.04h14.8v1.86h-14.8zM492.1 615.07h29.2v1.86h-29.2zM592.9 675.63h14.8v1.86h-14.8zM592.9 681.68h14.8v1.86h-14.8zM592.9 698.33h14.8v1.86h-14.8zM592.9 707.41h14.8v1.86h-14.8zM448.9 778.31h14.8v1.84h-14.8zM477.7 778.31h29.2v1.84h-29.2z" fill="#fc9c60"/>
<path d="M578.5 592h14.8v1.9h-14.8zM607.3 592h14.4v1.9h-14.4zM607.3 595.1h14.4v1.9h-14.4zM607.3 599.75h14.4v1.9h-14.4zM506.5 622.64h14.8v1.86h-14.8zM492.1 636.27h14.8v1.86h-14.8zM520.9 648.39h14.8v1.86h-14.8zM535.3 668.07h14.8v1.86h-14.8zM607.3 669.58h14.4v1.86h-14.4zM564.1 677.14h14.8v1.86h-14.8zM535.3 710.43h14.8v1.86h-14.8zM564.1 710.43h14.8v1.86h-14.8zM592.9 713.46h14.8v1.86h-14.8zM564.1 716.49h14.8v1.86h-14.8zM492.1 729h14.8v1.84h-14.8zM520.9 729h14.8v1.84h-14.8zM520.9 745.44h14.8v1.84h-14.8zM463.3 751.42h43.6v1.84h-43.6zM477.7 760.38h14.8v1.84h-14.8zM448.9 764.86h14.8v1.84h-14.8zM506.5 764.86h29.2v1.84h-29.2zM448.9 767.85h14.8v1.84h-14.8zM448.9 769.35h29.2v1.84h-29.2zM506.5 769.35h14.8v1.84h-14.8zM463.3 772.34h14.8v1.84h-14.8zM463.3 773.83h14.8v1.84h-14.8zM506.5 784.29h29.2v1.84h-29.2zM463.3 796.25h14.8v1.84h-14.8zM492.1 796.25h14.8v1.84h-14.8zM520.9 803.72h14.8v1.84h-14.8z" fill="#fcc07e"/>
<path d="M607.3 593.55h14.4v1.9h-14.4zM549.7 596.65h14.8v1.9h-14.8zM607.3 598.2h14.4v1.9h-14.4zM607.3 602.85h14.4v1.9h-14.4zM592.9 609.01h14.8v1.86h-14.8zM477.7 616.59h14.8v1.86h-14.8zM520.9 619.61h14.8v1.86h-14.8zM477.7 624.16h14.8v1.86h-14.8zM448.9 648.39h14.8v1.86h-14.8zM506.5 655.96h14.8v1.86h-14.8zM607.3 665.04h14.4v1.86h-14.4zM564.1 669.58h14.8v1.86h-14.8zM535.3 672.61h14.8v1.86h-14.8zM564.1 672.61h14.8v1.86h-14.8zM535.3 674.12h29.2v1.86h-29.2zM549.7 677.14h14.8v1.86h-14.8zM549.7 680.17h14.8v1.86h-14.8zM535.3 687.74h29.2v1.86h-29.2zM592.9 689.25h14.8v1.86h-14.8zM535.3 692.28h14.8v1.86h-14.8zM535.3 701.36h14.8v1.86h-14.8zM535.3 702.87h14.8v1.86h-14.8zM535.3 705.89h14.8v1.86h-14.8zM564.1 705.89h14.8v1.86h-14.8zM549.7 710.43h14.8v1.86h-14.8zM506.5 729h14.8v1.84h-14.8zM463.3 730.49h29.2v1.84h-29.2zM520.9 730.49h14.8v1.84h-14.8zM448.9 748.43h14.8v1.84h-14.8zM477.7 748.43h14.8v1.84h-14.8zM463.3 752.91h14.8v1.84h-14.8zM448.9 761.88h14.8v1.84h-14.8zM463.3 767.85h29.2v1.84h-29.2zM506.5 772.34h14.8v1.84h-14.8zM448.9 773.83h14.8v1.84h-14.8zM477.7 796.25h14.8v1.84h-14.8zM477.7 803.72h14.8v1.84h-14.8z" fill="#fcc078"/>
<path d="M463.3 595.1h14.8v1.9h-14.8zM520.9 595.1h14.8v1.9h-14.8z" fill="#d8362a"/>
<path d="M492.1 595.1h29.2v1.9h-29.2zM477.7 601.3h14.8v1.9h-14.8zM463.3 605.95h14.8v1.9h-14.8z" fill="#d8302a"/>
<path d="M578.5 595.1h14.8v1.9h-14.8zM607.3 596.65h14.4v1.9h-14.4zM607.3 607.5h14.4v1.86h-14.4zM549.7 622.64h14.8v1.86h-14.8zM607.3 681.68h14.4v1.86h-14.4zM564.1 689.25h14.8v1.86h-14.8zM564.1 695.3h14.8v1.86h-14.8zM549.7 711.95h29.2v1.86h-29.2zM549.7 716.49h14.8v1.86h-14.8zM463.3 731.99h14.8v1.84h-14.8zM448.9 733.48h29.2v1.84h-29.2zM477.7 734.98h14.8v1.84h-14.8zM506.5 734.98h14.8v1.84h-14.8zM448.9 736.47h14.8v1.84h-14.8zM492.1 736.47h14.8v1.84h-14.8zM448.9 740.95h14.8v1.84h-14.8zM463.3 749.92h14.8v1.84h-14.8zM477.7 754.4h14.8v1.84h-14.8zM477.7 757.39h14.8v1.84h-14.8zM448.9 770.84h29.2v1.84h-29.2zM506.5 770.84h14.8v1.84h-14.8zM463.3 781.3h14.8v1.84h-14.8zM448.9 793.26h14.8v1.84h-14.8zM520.9 793.26h14.8v1.84h-14.8zM477.7 802.22h14.8v1.84h-14.8zM448.9 806.71h14.8v1.84h-14.8z" fill="#fcd28a"/>
<path d="M535.3 596.65h14.8v1.9h-14.8zM549.7 601.3h14.8v1.9h-14.8zM607.3 604.4h14.4v1.9h-14.4zM564.1 605.95h14.8v1.9h-14.8zM448.9 609.01h14.8v1.86h-14.8zM520.9 609.01h14.8v1.86h-14.8zM463.3 616.59h14.8v1.86h-14.8zM506.5 616.59h14.8v1.86h-14.8zM477.7 619.61h29.2v1.86h-29.2zM448.9 624.16h29.2v1.86h-29.2zM520.9 624.16h14.8v1.86h-14.8zM463.3 630.21h14.8v1.86h-14.8zM448.9 631.73h43.6v1.86h-43.6zM477.7 633.24h14.8v1.86h-14.8zM463.3 637.79h14.8v1.86h-14.8zM492.1 640.81h14.8v1.86h-14.8zM463.3 651.41h43.6v1.86h-43.6zM477.7 652.93h14.8v1.86h-14.8zM506.5 654.44h29.2v1.86h-29.2zM448.9 658.99h29.2v1.86h-29.2zM506.5 658.99h14.8v1.86h-14.8zM592.9 660.5h14.8v1.86h-14.8zM564.1 662.01h14.8v1.86h-14.8zM535.3 663.53h14.8v1.86h-14.8zM564.1 663.53h14.8v1.86h-14.8zM564.1 666.55h14.8v1.86h-14.8zM564.1 674.12h14.8v1.86h-14.8zM535.3 678.66h14.8v1.86h-14.8zM592.9 683.2h14.8v1.86h-14.8zM535.3 684.71h14.8v1.86h-14.8zM549.7 686.22h14.8v1.86h-14.8zM463.3 724.29h14.8v1.92h-14.8zM492.1 743.94h14.8v1.84h-14.8zM506.5 748.43h14.8v1.84h-14.8zM463.3 755.9h14.8v1.84h-14.8zM463.3 761.88h14.8v1.84h-14.8zM492.1 761.88h14.8v1.84h-14.8zM520.9 761.88h14.8v1.84h-14.8zM492.1 767.85h14.8v1.84h-14.8zM477.7 769.35h29.2v1.84h-29.2zM520.9 769.35h14.8v1.84h-14.8zM492.1 772.34h14.8v1.84h-14.8zM492.1 773.83h14.8v1.84h-14.8zM492.1 775.32h14.8v1.84h-14.8zM463.3 779.81h14.8v1.84h-14.8zM492.1 779.81h29.2v1.84h-29.2zM448.9 785.78h14.8v1.84h-14.8zM492.1 785.78h14.8v1.84h-14.8z" fill="#fcb472"/>
<path d="M564.1 596.65h14.8v1.9h-14.8zM592.9 596.65h14.8v1.9h-14.8zM463.3 609.01h14.8v1.86h-14.8zM506.5 609.01h14.8v1.86h-14.8zM448.9 612.04h14.8v1.86h-14.8zM448.9 615.07h29.2v1.86h-29.2zM520.9 615.07h14.8v1.86h-14.8zM463.3 621.13h14.8v1.86h-14.8zM520.9 621.13h14.8v1.86h-14.8zM448.9 627.19h14.8v1.86h-14.8zM477.7 627.19h14.8v1.86h-14.8zM520.9 627.19h14.8v1.86h-14.8zM477.7 628.7h14.8v1.86h-14.8zM520.9 628.7h14.8v1.86h-14.8zM520.9 633.24h14.8v1.86h-14.8zM477.7 634.76h14.8v1.86h-14.8zM520.9 634.76h14.8v1.86h-14.8zM506.5 637.79h14.8v1.86h-14.8zM492.1 639.3h14.8v1.86h-14.8zM520.9 639.3h14.8v1.86h-14.8zM463.3 640.81h14.8v1.86h-14.8zM520.9 642.33h14.8v1.86h-14.8zM448.9 645.36h29.2v1.86h-29.2zM448.9 651.41h14.8v1.86h-14.8zM463.3 654.44h29.2v1.86h-29.2zM492.1 655.96h14.8v1.86h-14.8zM477.7 658.99h14.8v1.86h-14.8zM535.3 665.04h14.8v1.86h-14.8zM592.9 668.07h14.8v1.86h-14.8zM535.3 669.58h14.8v1.86h-14.8zM564.1 678.66h14.8v1.86h-14.8zM592.9 684.71h14.8v1.86h-14.8zM535.3 686.22h14.8v1.86h-14.8zM564.1 686.22h14.8v1.86h-14.8zM592.9 690.76h14.8v1.86h-14.8zM592.9 693.79h14.8v1.86h-14.8zM592.9 696.82h14.8v1.86h-14.8zM592.9 704.38h14.8v1.86h-14.8zM592.9 716.49h14.8v1.86h-14.8zM492.1 724.29h29.2v1.92h-29.2zM477.7 725.86h29.2v1.92h-29.2zM492.1 727.43h14.8v1.92h-14.8zM520.9 727.43h14.8v1.92h-14.8zM477.7 743.94h14.8v1.84h-14.8zM506.5 743.94h14.8v1.84h-14.8zM477.7 773.83h14.8v1.84h-14.8z" fill="#fca86c"/>
<path d="M578.5 596.65h14.8v1.9h-14.8zM578.5 607.5h14.8v1.86h-14.8zM535.3 613.56h14.8v1.86h-14.8zM564.1 636.27h14.8v1.86h-14.8zM535.3 642.33h14.8v1.86h-14.8zM592.9 646.87h14.8v1.86h-14.8zM549.7 651.41h29.2v1.86h-29.2zM607.3 668.07h14.4v1.86h-14.4zM578.5 680.17h14.8v1.86h-14.8zM607.3 687.74h14.4v1.86h-14.4zM607.3 690.76h14.4v1.86h-14.4zM578.5 693.79h14.8v1.86h-14.8zM535.3 713.46h14.8v1.86h-14.8zM607.3 716.49h14.4v1.86h-14.4zM520.9 737.97h14.8v1.84h-14.8zM463.3 746.93h14.8v1.84h-14.8zM520.9 787.28h14.8v1.84h-14.8zM506.5 788.77h14.8v1.84h-14.8z" fill="#fce490"/>
<path d="M463.3 598.2h14.8v1.9h-14.8zM506.5 599.75h14.8v1.9h-14.8zM506.5 602.85h14.8v1.9h-14.8zM506.5 604.4h14.8v1.9h-14.8zM506.5 605.95h14.8v1.9h-14.8z" fill="#e44836"/>
<path d="M520.9 598.2h14.8v1.9h-14.8zM463.3 601.3h14.8v1.9h-14.8zM492.1 601.3h14.8v1.9h-14.8z" fill="#de3c30"/>
<path d="M535.3 598.2h14.8v1.9h-14.8zM477.7 643.84h14.8v1.86h-14.8zM477.7 701.36h14.8v1.86h-14.8zM520.9 701.36h14.8v1.86h-14.8zM448.9 711.95h14.8v1.86h-14.8zM492.1 711.95h14.8v1.86h-14.8z" fill="#fc8a54"/>
<path d="M578.5 598.2h14.8v1.9h-14.8zM578.5 604.4h14.8v1.9h-14.8zM607.3 605.95h14.4v1.9h-14.4zM564.1 607.5h14.8v1.86h-14.8zM549.7 609.01h14.8v1.86h-14.8zM520.9 613.56h14.8v1.86h-14.8zM535.3 622.64h14.8v1.86h-14.8zM607.3 622.64h14.4v1.86h-14.4zM592.9 642.33h14.8v1.86h-14.8zM592.9 651.41h14.8v1.86h-14.8zM592.9 658.99h14.8v1.86h-14.8zM578.5 666.55h14.8v1.86h-14.8zM549.7 683.2h14.8v1.86h-14.8zM607.3 684.71h14.4v1.86h-14.4zM607.3 686.22h14.4v1.86h-14.4zM535.3 690.76h29.2v1.86h-29.2zM535.3 695.3h14.8v1.86h-14.8zM549.7 698.33h14.8v1.86h-14.8zM535.3 699.84h14.8v1.86h-14.8zM564.1 704.38h14.8v1.86h-14.8zM607.3 705.89h14.4v1.86h-14.4zM607.3 707.41h14.4v1.86h-14.4zM535.3 711.95h14.8v1.86h-14.8zM564.1 713.46h14.8v1.86h-14.8zM549.7 714.97h29.2v1.86h-29.2zM492.1 731.99h14.8v1.84h-14.8zM506.5 736.47h14.8v1.84h-14.8zM463.3 739.46h14.8v1.84h-14.8zM506.5 739.46h14.8v1.84h-14.8zM506.5 740.95h14.8v1.84h-14.8zM477.7 742.45h14.8v1.84h-14.8zM506.5 745.44h14.8v1.84h-14.8zM492.1 749.92h43.6v1.84h-43.6zM477.7 752.91h14.8v1.84h-14.8zM506.5 752.91h14.8v1.84h-14.8zM448.9 754.4h14.8v1.84h-14.8zM492.1 754.4h29.2v1.84h-29.2zM506.5 757.39h14.8v1.84h-14.8zM492.1 758.89h43.6v1.84h-43.6zM520.9 763.37h14.8v1.84h-14.8zM463.3 764.86h14.8v1.84h-14.8zM520.9 770.84h14.8v1.84h-14.8zM506.5 781.3h14.8v1.84h-14.8zM520.9 788.77h14.8v1.84h-14.8zM448.9 790.27h14.8v1.84h-14.8zM448.9 796.25h14.8v1.84h-14.8zM448.9 797.74h29.2v1.84h-29.2zM520.9 797.74h14.8v1.84h-14.8zM520.9 802.22h14.8v1.84h-14.8zM463.3 803.72h14.8v1.84h-14.8zM463.3 806.71h14.8v1.84h-14.8zM506.5 806.71h29.2v1.84h-29.2z" fill="#fcd284"/>
<path d="M448.9 599.75h14.8v1.9h-14.8zM506.5 601.3h14.8v1.9h-14.8z" fill="#de4830"/>
<path d="M578.5 599.75h14.8v1.9h-14.8zM607.3 609.01h14.4v1.86h-14.4zM592.9 613.56h14.8v1.86h-14.8zM535.3 615.07h14.8v1.86h-14.8zM607.3 616.59h14.4v1.86h-14.4zM592.9 621.13h14.8v1.86h-14.8zM592.9 625.67h14.8v1.86h-14.8zM592.9 627.19h14.8v1.86h-14.8zM607.3 636.27h14.4v1.86h-14.4zM535.3 649.9h14.8v1.86h-14.8zM564.1 649.9h14.8v1.86h-14.8zM607.3 649.9h14.4v1.86h-14.4zM448.9 657.47h14.8v1.86h-14.8zM477.7 657.47h14.8v1.86h-14.8zM520.9 657.47h14.8v1.86h-14.8zM578.5 663.53h14.8v1.86h-14.8zM578.5 672.61h14.8v1.86h-14.8zM578.5 674.12h14.8v1.86h-14.8zM607.3 674.12h14.4v1.86h-14.4zM578.5 675.63h14.8v1.86h-14.8zM607.3 677.14h14.4v1.86h-14.4zM578.5 681.68h14.8v1.86h-14.8zM578.5 684.71h14.8v1.86h-14.8zM549.7 689.25h14.8v1.86h-14.8zM607.3 692.28h14.4v1.86h-14.4zM607.3 698.33h14.4v1.86h-14.4zM607.3 699.84h14.4v1.86h-14.4zM578.5 701.36h14.8v1.86h-14.8zM607.3 701.36h14.4v1.86h-14.4zM607.3 704.38h14.4v1.86h-14.4zM578.5 705.89h14.8v1.86h-14.8zM535.3 708.92h14.8v1.86h-14.8zM607.3 710.43h14.4v1.86h-14.4zM506.5 731.99h14.8v1.84h-14.8zM448.9 734.98h29.2v1.84h-29.2zM492.1 737.97h14.8v1.84h-14.8zM477.7 739.46h14.8v1.84h-14.8zM463.3 740.95h14.8v1.84h-14.8zM477.7 749.92h14.8v1.84h-14.8zM520.9 757.39h14.8v1.84h-14.8zM448.9 766.36h43.6v1.84h-43.6zM520.9 766.36h14.8v1.84h-14.8zM448.9 782.8h29.2v1.84h-29.2zM520.9 782.8h14.8v1.84h-14.8zM448.9 787.28h14.8v1.84h-14.8zM477.7 787.28h43.6v1.84h-43.6zM463.3 788.77h14.8v1.84h-14.8zM448.9 791.76h29.2v1.84h-29.2zM448.9 794.75h14.8v1.84h-14.8zM477.7 794.75h29.2v1.84h-29.2zM520.9 794.75h14.8v1.84h-14.8zM448.9 805.21h43.6v1.84h-43.6zM520.9 805.21h14.8v1.84h-14.8z" fill="#fcde90"/>
<path d="M535.3 605.95h14.8v1.9h-14.8zM448.9 619.61h29.2v1.86h-29.2zM477.7 622.64h29.2v1.86h-29.2zM492.1 624.16h29.2v1.86h-29.2zM463.3 627.19h14.8v1.86h-14.8zM506.5 627.19h14.8v1.86h-14.8zM492.1 630.21h29.2v1.86h-29.2zM506.5 631.73h29.2v1.86h-29.2zM448.9 633.24h29.2v1.86h-29.2zM506.5 633.24h14.8v1.86h-14.8zM448.9 634.76h14.8v1.86h-14.8zM448.9 637.79h14.8v1.86h-14.8zM492.1 637.79h14.8v1.86h-14.8zM520.9 637.79h14.8v1.86h-14.8zM463.3 639.3h14.8v1.86h-14.8zM520.9 640.81h14.8v1.86h-14.8zM520.9 651.41h14.8v1.86h-14.8zM448.9 652.93h14.8v1.86h-14.8zM506.5 652.93h14.8v1.86h-14.8zM477.7 655.96h14.8v1.86h-14.8zM549.7 666.55h14.8v1.86h-14.8zM592.9 677.14h14.8v1.86h-14.8zM592.9 680.17h14.8v1.86h-14.8zM592.9 695.3h14.8v1.86h-14.8zM477.7 727.43h14.8v1.92h-14.8zM520.9 743.94h14.8v1.84h-14.8zM448.9 779.81h14.8v1.84h-14.8zM520.9 779.81h14.8v1.84h-14.8zM463.3 785.78h29.2v1.84h-29.2zM506.5 785.78h14.8v1.84h-14.8z" fill="#fcae72"/>
<path d="M549.7 605.95h14.8v1.9h-14.8zM492.1 609.01h14.8v1.86h-14.8zM492.1 613.56h14.8v1.86h-14.8zM492.1 616.59h14.8v1.86h-14.8zM520.9 616.59h14.8v1.86h-14.8zM477.7 618.1h14.8v1.86h-14.8zM448.9 622.64h29.2v1.86h-29.2zM477.7 630.21h14.8v1.86h-14.8zM492.1 631.73h14.8v1.86h-14.8zM477.7 637.79h14.8v1.86h-14.8zM506.5 639.3h14.8v1.86h-14.8zM448.9 640.81h14.8v1.86h-14.8zM463.3 652.93h14.8v1.86h-14.8zM520.9 652.93h14.8v1.86h-14.8zM448.9 654.44h14.8v1.86h-14.8zM448.9 655.96h29.2v1.86h-29.2zM520.9 655.96h14.8v1.86h-14.8zM549.7 662.01h14.8v1.86h-14.8zM549.7 663.53h14.8v1.86h-14.8zM549.7 668.07h14.8v1.86h-14.8zM535.3 671.09h43.6v1.86h-43.6zM549.7 672.61h14.8v1.86h-14.8zM535.3 675.63h14.8v1.86h-14.8zM549.7 684.71h29.2v1.86h-29.2zM535.3 693.79h43.6v1.86h-43.6zM549.7 705.89h14.8v1.86h-14.8zM535.3 707.41h14.8v1.86h-14.8zM592.9 708.92h14.8v1.86h-14.8zM592.9 711.95h14.8v1.86h-14.8zM592.9 714.97h14.8v1.86h-14.8zM463.3 729h29.2v1.84h-29.2zM448.9 730.49h14.8v1.84h-14.8zM463.3 748.43h14.8v1.84h-14.8zM492.1 748.43h14.8v1.84h-14.8zM520.9 748.43h14.8v1.84h-14.8zM506.5 751.42h14.8v1.84h-14.8zM492.1 760.38h14.8v1.84h-14.8zM506.5 761.88h14.8v1.84h-14.8zM506.5 767.85h14.8v1.84h-14.8zM448.9 772.34h14.8v1.84h-14.8zM477.7 772.34h14.8v1.84h-14.8zM520.9 772.34h14.8v1.84h-14.8zM506.5 773.83h29.2v1.84h-29.2zM448.9 775.32h43.6v1.84h-43.6zM520.9 775.32h14.8v1.84h-14.8zM448.9 784.29h14.8v1.84h-14.8z" fill="#fcba78"/>
<path d="M578.5 605.95h14.8v1.9h-14.8zM592.9 610.53h14.8v1.86h-14.8zM535.3 612.04h29.2v1.86h-29.2zM549.7 613.56h29.2v1.86h-29.2zM549.7 615.07h29.2v1.86h-29.2zM607.3 615.07h14.4v1.86h-14.4zM535.3 616.59h14.8v1.86h-14.8zM564.1 616.59h14.8v1.86h-14.8zM592.9 618.1h14.8v1.86h-14.8zM592.9 619.61h14.8v1.86h-14.8zM535.3 621.13h14.8v1.86h-14.8zM578.5 622.64h14.8v1.86h-14.8zM549.7 627.19h14.8v1.86h-14.8zM607.3 627.19h14.4v1.86h-14.4zM549.7 630.21h29.2v1.86h-29.2zM592.9 633.24h14.8v1.86h-14.8zM592.9 634.76h28.8v1.86h-28.8zM535.3 636.27h14.8v1.86h-14.8zM535.3 639.3h14.8v1.86h-14.8zM535.3 640.81h14.8v1.86h-14.8zM592.9 640.81h14.8v1.86h-14.8zM549.7 642.33h14.8v1.86h-14.8zM607.3 642.33h14.4v1.86h-14.4zM535.3 651.41h14.8v1.86h-14.8zM535.3 652.93h43.6v1.86h-43.6zM592.9 657.47h14.8v1.86h-14.8zM578.5 658.99h14.8v1.86h-14.8zM607.3 660.5h14.4v1.86h-14.4zM578.5 668.07h14.8v1.86h-14.8zM578.5 677.14h14.8v1.86h-14.8zM607.3 680.17h14.4v1.86h-14.4zM578.5 683.2h14.8v1.86h-14.8zM607.3 683.2h14.4v1.86h-14.4zM607.3 689.25h14.4v1.86h-14.4zM578.5 690.76h14.8v1.86h-14.8zM578.5 692.28h14.8v1.86h-14.8zM607.3 695.3h14.4v1.86h-14.4zM607.3 696.82h14.4v1.86h-14.4zM607.3 702.87h14.4v1.86h-14.4zM578.5 707.41h14.8v1.86h-14.8zM607.3 708.92h14.4v1.86h-14.4zM607.3 711.95h14.4v1.86h-14.4zM578.5 716.49h14.8v1.86h-14.8zM448.9 737.97h14.8v1.84h-14.8zM477.7 737.97h14.8v1.84h-14.8zM506.5 737.97h14.8v1.84h-14.8zM477.7 746.93h14.8v1.84h-14.8zM506.5 746.93h29.2v1.84h-29.2zM448.9 788.77h14.8v1.84h-14.8zM477.7 791.76h14.8v1.84h-14.8zM506.5 791.76h29.2v1.84h-29.2zM463.3 794.75h14.8v1.84h-14.8zM506.5 794.75h14.8v1.84h-14.8zM448.9 800.73h58v1.84h-58zM520.9 800.73h14.8v1.84h-14.8zM506.5 805.21h14.8v1.84h-14.8z" fill="#fce496"/>
<path d="M578.5 609.01h14.8v1.86h-14.8zM535.3 610.53h43.6v1.86h-43.6zM549.7 616.59h14.8v1.86h-14.8zM549.7 621.13h14.8v1.86h-14.8zM607.3 621.13h14.4v1.86h-14.4zM535.3 625.67h14.8v1.86h-14.8zM607.3 625.67h14.4v1.86h-14.4zM592.9 628.7h14.8v1.86h-14.8zM535.3 630.21h14.8v1.86h-14.8zM592.9 631.73h14.8v1.86h-14.8zM535.3 634.76h43.6v1.86h-43.6zM578.5 636.27h14.8v1.86h-14.8zM592.9 637.79h14.8v1.86h-14.8zM549.7 640.81h29.2v1.86h-29.2zM592.9 645.36h14.8v1.86h-14.8zM549.7 646.87h29.2v1.86h-29.2zM592.9 648.39h14.8v1.86h-14.8zM578.5 649.9h14.8v1.86h-14.8zM535.3 655.96h14.8v1.86h-14.8zM535.3 657.47h14.8v1.86h-14.8zM564.1 657.47h14.8v1.86h-14.8zM578.5 660.5h14.8v1.86h-14.8zM578.5 689.25h14.8v1.86h-14.8zM578.5 699.84h14.8v1.86h-14.8zM578.5 711.95h14.8v1.86h-14.8zM607.3 713.46h14.4v1.86h-14.4zM607.3 714.97h14.4v1.86h-14.4zM564.1 758.89h14.8v1.84h-14.8zM592.9 758.89h14.8v1.84h-14.8zM564.1 761.88h14.8v1.84h-14.8zM492.1 805.21h14.8v1.84h-14.8z" fill="#fcea9c"/>
<path d="M463.3 610.53h29.2v1.86h-29.2zM520.9 665.04h14.8v1.86h-14.8zM463.3 701.36h14.8v1.86h-14.8zM463.3 707.41h14.8v1.86h-14.8zM506.5 707.41h14.8v1.86h-14.8zM492.1 718h14.8v1.92h-14.8zM520.9 718h14.8v1.92h-14.8zM506.5 722.71h14.8v1.92h-14.8z" fill="#fc8454"/>
<path d="M564.1 612.04h14.8v1.86h-14.8zM607.3 612.04h14.4v1.86h-14.4zM607.3 613.56h14.4v1.86h-14.4zM549.7 625.67h29.2v1.86h-29.2zM535.3 627.19h14.8v1.86h-14.8zM564.1 627.19h14.8v1.86h-14.8zM607.3 630.21h14.4v1.86h-14.4zM549.7 639.3h29.2v1.86h-29.2zM607.3 646.87h14.4v1.86h-14.4zM607.3 652.93h14.4v1.86h-14.4zM592.9 655.96h14.8v1.86h-14.8zM578.5 695.3h14.8v1.86h-14.8zM578.5 696.82h14.8v1.86h-14.8zM578.5 698.33h14.8v1.86h-14.8zM578.5 702.87h14.8v1.86h-14.8zM578.5 704.38h14.8v1.86h-14.8zM463.3 737.97h14.8v1.84h-14.8zM492.1 746.93h14.8v1.84h-14.8zM607.3 758.89h14.4v1.84h-14.4zM592.9 761.88h14.8v1.84h-14.8zM506.5 800.73h14.8v1.84h-14.8z" fill="#fce49c"/>
<path d="M477.7 613.56h14.8v1.86h-14.8zM506.5 618.1h14.8v1.86h-14.8zM578.5 665.04h14.8v1.86h-14.8zM535.3 680.17h14.8v1.86h-14.8zM564.1 701.36h14.8v1.86h-14.8zM564.1 702.87h14.8v1.86h-14.8zM448.9 751.42h14.8v1.84h-14.8zM477.7 784.29h14.8v1.84h-14.8zM506.5 796.25h14.8v1.84h-14.8z" fill="#fccc7e"/>
<path d="M520.9 622.64h14.8v1.86h-14.8zM549.7 665.04h14.8v1.86h-14.8zM549.7 675.63h14.8v1.86h-14.8z" fill="#fcba72"/>
<path d="M535.3 624.16h14.8v1.86h-14.8zM607.3 624.16h14.4v1.86h-14.4zM578.5 633.24h14.8v1.86h-14.8zM578.5 643.84h14.8v1.86h-14.8zM578.5 646.87h14.8v1.86h-14.8zM564.1 654.44h14.8v1.86h-14.8zM549.7 718h14.8v1.92h-14.8zM564.1 719.57h43.6v1.92h-43.6zM564.1 722.71h29.2v1.92h-29.2zM607.3 722.71h14.4v1.92h-14.4zM607.3 727.43h14.4v1.92h-14.4zM535.3 730.49h14.8v1.84h-14.8zM549.7 733.48h14.8v1.84h-14.8zM535.3 736.47h14.8v1.84h-14.8zM564.1 736.47h14.8v1.84h-14.8zM592.9 736.47h28.8v1.84h-28.8zM549.7 737.97h14.8v1.84h-14.8zM592.9 737.97h14.8v1.84h-14.8zM549.7 739.46h14.8v1.84h-14.8zM549.7 740.95h14.8v1.84h-14.8zM564.1 743.94h14.8v1.84h-14.8zM578.5 745.44h14.8v1.84h-14.8zM607.3 746.93h14.4v1.84h-14.4zM592.9 748.43h14.8v1.84h-14.8zM592.9 751.42h14.8v1.84h-14.8zM578.5 755.9h14.8v1.84h-14.8zM535.3 757.39h14.8v1.84h-14.8zM564.1 757.39h14.8v1.84h-14.8zM535.3 760.38h14.8v1.84h-14.8zM592.9 763.37h14.8v1.84h-14.8zM549.7 764.86h14.8v1.84h-14.8zM578.5 764.86h14.8v1.84h-14.8zM535.3 772.34h14.8v1.84h-14.8zM592.9 773.83h28.8v1.84h-28.8zM535.3 775.32h14.8v1.84h-14.8zM607.3 775.32h14.4v1.84h-14.4zM592.9 781.3h14.8v1.84h-14.8zM564.1 784.29h14.8v1.84h-14.8zM535.3 788.77h14.8v1.84h-14.8zM535.3 790.27h14.8v1.84h-14.8zM592.9 790.27h14.8v1.84h-14.8zM549.7 793.26h29.2v1.84h-29.2zM549.7 796.25h14.8v1.84h-14.8zM535.3 803.72h14.8v1.84h-14.8zM578.5 806.71h14.8v1.84h-14.8zM506.5 814.25h29.2v1.86h-29.2zM463.3 823.33h14.8v1.86h-14.8zM492.1 830.89h14.8v1.86h-14.8zM477.7 836.94h14.8v1.86h-14.8zM520.9 838.45h14.8v1.86h-14.8zM506.5 853.58h14.8v1.86h-14.8zM463.3 856.6h14.8v1.86h-14.8zM492.1 865.68h14.8v1.86h-14.8zM463.3 867.19h14.8v1.86h-14.8zM492.1 867.19h14.8v1.86h-14.8z" fill="#fcf6ae"/>
<path d="M448.9 643.84h14.8v1.86h-14.8zM520.9 643.84h14.8v1.86h-14.8zM477.7 668.07h14.8v1.86h-14.8zM492.1 674.12h29.2v1.86h-29.2zM506.5 675.63h14.8v1.86h-14.8zM477.7 678.66h14.8v1.86h-14.8zM592.9 678.66h14.8v1.86h-14.8zM448.9 683.2h14.8v1.86h-14.8zM520.9 687.74h14.8v1.86h-14.8zM448.9 699.84h14.8v1.86h-14.8zM477.7 704.38h14.8v1.86h-14.8zM520.9 704.38h14.8v1.86h-14.8zM520.9 707.41h14.8v1.86h-14.8zM492.1 714.97h14.8v1.86h-14.8zM448.9 716.49h14.8v1.86h-14.8zM477.7 718h14.8v1.92h-14.8zM492.1 721.14h14.8v1.92h-14.8z" fill="#f67e54"/>
<path d="M463.3 643.84h14.8v1.86h-14.8zM492.1 668.07h14.8v1.86h-14.8zM477.7 669.58h14.8v1.86h-14.8zM520.9 669.58h14.8v1.86h-14.8zM520.9 674.12h14.8v1.86h-14.8zM492.1 675.63h14.8v1.86h-14.8zM492.1 678.66h43.6v1.86h-43.6zM463.3 695.3h14.8v1.86h-14.8zM506.5 695.3h14.8v1.86h-14.8zM477.7 714.97h14.8v1.86h-14.8zM463.3 716.49h14.8v1.86h-14.8z" fill="#f6784e"/>
<path d="M448.9 660.5h14.8v1.86h-14.8zM477.7 680.17h14.8v1.86h-14.8zM477.7 689.25h14.8v1.86h-14.8zM492.1 705.89h43.6v1.86h-43.6zM492.1 708.92h14.8v1.86h-14.8z" fill="#f06648"/>
<path d="M477.7 660.5h14.8v1.86h-14.8z" fill="#ea5a42"/>
<path d="M506.5 660.5h14.8v1.86h-14.8zM520.9 662.01h14.8v1.86h-14.8zM448.9 663.53h29.2v1.86h-29.2zM520.9 663.53h14.8v1.86h-14.8zM477.7 666.55h14.8v1.86h-14.8zM463.3 669.58h14.8v1.86h-14.8zM492.1 669.58h14.8v1.86h-14.8zM463.3 674.12h14.8v1.86h-14.8zM448.9 677.14h14.8v1.86h-14.8zM520.9 677.14h14.8v1.86h-14.8zM492.1 680.17h43.6v1.86h-43.6zM492.1 681.68h14.8v1.86h-14.8zM463.3 683.2h14.8v1.86h-14.8zM506.5 683.2h14.8v1.86h-14.8zM463.3 687.74h43.6v1.86h-43.6zM463.3 689.25h14.8v1.86h-14.8zM492.1 689.25h14.8v1.86h-14.8zM520.9 689.25h14.8v1.86h-14.8zM448.9 693.79h14.8v1.86h-14.8zM492.1 693.79h43.6v1.86h-43.6zM448.9 695.3h14.8v1.86h-14.8zM492.1 695.3h14.8v1.86h-14.8zM520.9 695.3h14.8v1.86h-14.8zM463.3 702.87h14.8v1.86h-14.8zM506.5 708.92h29.2v1.86h-29.2zM492.1 713.46h29.2v1.86h-29.2zM463.3 714.97h14.8v1.86h-14.8zM506.5 716.49h14.8v1.86h-14.8z" fill="#f06c48"/>
<path d="M520.9 660.5h14.8v1.86h-14.8zM506.5 666.55h29.2v1.86h-29.2zM506.5 669.58h14.8v1.86h-14.8zM448.9 671.09h14.8v1.86h-14.8zM492.1 671.09h14.8v1.86h-14.8zM520.9 671.09h14.8v1.86h-14.8zM463.3 672.61h14.8v1.86h-14.8zM520.9 672.61h14.8v1.86h-14.8zM463.3 677.14h29.2v1.86h-29.2zM448.9 681.68h29.2v1.86h-29.2zM520.9 681.68h14.8v1.86h-14.8zM520.9 683.2h14.8v1.86h-14.8zM463.3 684.71h14.8v1.86h-14.8zM448.9 692.28h29.2v1.86h-29.2zM448.9 696.82h14.8v1.86h-14.8zM492.1 696.82h14.8v1.86h-14.8zM448.9 705.89h14.8v1.86h-14.8zM463.3 708.92h29.2v1.86h-29.2zM477.7 713.46h14.8v1.86h-14.8zM520.9 713.46h14.8v1.86h-14.8zM477.7 716.49h14.8v1.86h-14.8z" fill="#ea6642"/>
<path d="M477.7 663.53h14.8v1.86h-14.8zM448.9 665.04h14.8v1.86h-14.8zM506.5 668.07h14.8v1.86h-14.8zM448.9 669.58h14.8v1.86h-14.8zM448.9 674.12h14.8v1.86h-14.8zM477.7 674.12h14.8v1.86h-14.8zM463.3 678.66h14.8v1.86h-14.8zM477.7 683.2h14.8v1.86h-14.8zM463.3 699.84h14.8v1.86h-14.8zM506.5 699.84h14.8v1.86h-14.8zM448.9 702.87h14.8v1.86h-14.8zM448.9 704.38h29.2v1.86h-29.2zM492.1 704.38h14.8v1.86h-14.8zM448.9 707.41h14.8v1.86h-14.8zM477.7 707.41h14.8v1.86h-14.8zM477.7 711.95h14.8v1.86h-14.8zM448.9 718h14.8v1.92h-14.8z" fill="#f67e4e"/>
<path d="M492.1 663.53h14.8v1.86h-14.8zM492.1 665.04h14.8v1.86h-14.8zM477.7 675.63h14.8v1.86h-14.8zM520.9 675.63h14.8v1.86h-14.8zM463.3 680.17h14.8v1.86h-14.8zM492.1 683.2h14.8v1.86h-14.8zM477.7 695.3h14.8v1.86h-14.8zM520.9 699.84h14.8v1.86h-14.8zM477.7 702.87h14.8v1.86h-14.8zM448.9 708.92h14.8v1.86h-14.8zM506.5 714.97h14.8v1.86h-14.8z" fill="#f0784e"/>
<path d="M506.5 663.53h14.8v1.86h-14.8zM463.3 665.04h14.8v1.86h-14.8zM448.9 668.07h14.8v1.86h-14.8zM520.9 668.07h14.8v1.86h-14.8zM506.5 687.74h14.8v1.86h-14.8zM477.7 696.82h14.8v1.86h-14.8zM520.9 702.87h14.8v1.86h-14.8zM520.9 714.97h14.8v1.86h-14.8zM520.9 716.49h14.8v1.86h-14.8z" fill="#f0724e"/>
<path d="M506.5 665.04h14.8v1.86h-14.8zM448.9 675.63h14.8v1.86h-14.8zM477.7 699.84h29.2v1.86h-29.2zM506.5 701.36h14.8v1.86h-14.8zM492.1 707.41h14.8v1.86h-14.8zM448.9 714.97h14.8v1.86h-14.8zM506.5 718h14.8v1.92h-14.8zM492.1 719.57h14.8v1.92h-14.8zM477.7 722.71h14.8v1.92h-14.8z" fill="#f68454"/>
<path d="M463.3 668.07h14.8v1.86h-14.8zM506.5 671.09h14.8v1.86h-14.8zM448.9 672.61h14.8v1.86h-14.8zM463.3 675.63h14.8v1.86h-14.8zM448.9 678.66h14.8v1.86h-14.8zM448.9 680.17h14.8v1.86h-14.8zM477.7 681.68h14.8v1.86h-14.8zM463.3 696.82h14.8v1.86h-14.8zM492.1 702.87h29.2v1.86h-29.2zM492.1 716.49h14.8v1.86h-14.8z" fill="#f07248"/>
<path d="M492.1 791.76h14.8v1.84h-14.8z" fill="#fcde8a"/>
<path d="M442.9 475h4.9v1.8h-4.9zM442.9 494.5h4.9v1.8h-4.9zM442.9 548.5h4.9v1.8h-4.9zM442.9 554.5h4.9v1.8h-4.9zM442.9 556h4.9v1.8h-4.9zM442.9 572.5h4.9v1.8h-4.9zM442.9 617.5h4.9v1.8h-4.9zM442.9 661h4.9v1.8h-4.9zM442.9 719.5h4.9v1.8h-4.9zM442.9 728.5h4.9v1.8h-4.9zM442.9 772h4.9v1.8h-4.9zM442.9 776.5h4.9v1.8h-4.9zM442.9 797.5h4.9v1.8h-4.9zM442.9 829h4.9v1.8h-4.9zM442.9 832h4.9v1.8h-4.9zM442.9 835h4.9v1.8h-4.9zM442.9 836.5h4.9v1.8h-4.9zM442.9 860.5h4.9v1.8h-4.9zM442.9 862h4.9v1.8h-4.9z" fill="#00bfff"/>
<path d="M442.9 476.5h4.9v1.8h-4.9zM442.9 478h4.9v1.8h-4.9zM442.9 479.5h4.9v1.8h-4.9zM442.9 481h4.9v1.8h-4.9zM442.9 482.5h4.9v1.8h-4.9zM442.9 484h4.9v1.8h-4.9zM442.9 485.5h4.9v1.8h-4.9zM442.9 487h4.9v1.8h-4.9zM442.9 488.5h4.9v1.8h-4.9zM442.9 490h4.9v1.8h-4.9zM442.9 502h4.9v1.8h-4.9zM442.9 505h4.9v1.8h-4.9zM442.9 509.5h4.9v1.8h-4.9zM442.9 515.5h4.9v1.8h-4.9zM442.9 517h4.9v1.8h-4.9zM442.9 524.5h4.9v1.8h-4.9zM442.9 526h4.9v1.8h-4.9zM442.9 532h4.9v1.8h-4.9zM442.9 533.5h4.9v1.8h-4.9zM442.9 536.5h4.9v1.8h-4.9zM442.9 538h4.9v1.8h-4.9zM442.9 539.5h4.9v1.8h-4.9zM442.9 542.5h4.9v1.8h-4.9zM442.9 553h4.9v1.8h-4.9zM442.9 557.5h4.9v1.8h-4.9zM442.9 560.5h4.9v1.8h-4.9zM442.9 562h4.9v1.8h-4.9zM442.9 563.5h4.9v1.8h-4.9zM442.9 565h4.9v1.8h-4.9zM442.9 569.5h4.9v1.8h-4.9zM442.9 574h4.9v1.8h-4.9zM442.9 575.5h4.9v1.8h-4.9zM442.9 577h4.9v1.8h-4.9zM442.9 578.5h4.9v1.8h-4.9zM442.9 580h4.9v1.8h-4.9zM442.9 581.5h4.9v1.8h-4.9zM442.9 583h4.9v1.8h-4.9zM442.9 584.5h4.9v1.8h-4.9zM442.9 586h4.9v1.8h-4.9zM442.9 589h4.9v1.8h-4.9zM442.9 590.5h4.9v1.8h-4.9zM442.9 592h4.9v1.8h-4.9zM442.9 593.5h4.9v1.8h-4.9zM442.9 595h4.9v1.8h-4.9zM442.9 596.5h4.9v1.8h-4.9zM442.9 598h4.9v1.8h-4.9zM442.9 601h4.9v1.8h-4.9zM442.9 602.5h4.9v1.8h-4.9zM442.9 604h4.9v1.8h-4.9zM442.9 605.5h4.9v1.8h-4.9zM442.9 607h4.9v1.8h-4.9zM442.9 608.5h4.9v1.8h-4.9zM442.9 610h4.9v1.8h-4.9zM442.9 611.5h4.9v1.8h-4.9zM442.9 613h4.9v1.8h-4.9zM442.9 614.5h4.9v1.8h-4.9zM442.9 616h4.9v1.8h-4.9zM442.9 619h4.9v1.8h-4.9zM442.9 620.5h4.9v1.8h-4.9zM442.9 622h4.9v1.8h-4.9zM442.9 623.5h4.9v1.8h-4.9zM442.9 625h4.9v1.8h-4.9zM442.9 626.5h4.9v1.8h-4.9zM442.9 629.5h4.9v1.8h-4.9zM442.9 631h4.9v1.8h-4.9zM442.9 632.5h4.9v1.8h-4.9zM442.9 635.5h4.9v1.8h-4.9zM442.9 637h4.9v1.8h-4.9zM442.9 638.5h4.9v1.8h-4.9zM442.9 640h4.9v1.8h-4.9zM442.9 641.5h4.9v1.8h-4.9zM442.9 643h4.9v1.8h-4.9zM442.9 646h4.9v1.8h-4.9zM442.9 649h4.9v1.8h-4.9zM442.9 650.5h4.9v1.8h-4.9zM442.9 652h4.9v1.8h-4.9zM442.9 655h4.9v1.8h-4.9zM442.9 659.5h4.9v1.8h-4.9zM442.9 662.5h4.9v1.8h-4.9zM442.9 664h4.9v1.8h-4.9zM442.9 667h4.9v1.8h-4.9zM442.9 670h4.9v1.8h-4.9zM442.9 671.5h4.9v1.8h-4.9zM442.9 673h4.9v1.8h-4.9zM442.9 674.5h4.9v1.8h-4.9zM442.9 676h4.9v1.8h-4.9zM442.9 679h4.9v1.8h-4.9zM442.9 680.5h4.9v1.8h-4.9zM442.9 683.5h4.9v1.8h-4.9zM442.9 685h4.9v1.8h-4.9zM442.9 688h4.9v1.8h-4.9zM442.9 689.5h4.9v1.8h-4.9zM442.9 691h4.9v1.8h-4.9zM442.9 692.5h4.9v1.8h-4.9zM442.9 694h4.9v1.8h-4.9zM442.9 697h4.9v1.8h-4.9zM442.9 700h4.9v1.8h-4.9zM442.9 701.5h4.9v1.8h-4.9zM442.9 703h4.9v1.8h-4.9zM442.9 704.5h4.9v1.8h-4.9zM442.9 707.5h4.9v1.8h-4.9zM442.9 709h4.9v1.8h-4.9zM442.9 710.5h4.9v1.8h-4.9zM442.9 712h4.9v1.8h-4.9zM442.9 713.5h4.9v1.8h-4.9zM442.9 721h4.9v1.8h-4.9zM442.9 722.5h4.9v1.8h-4.9zM442.9 724h4.9v1.8h-4.9zM442.9 725.5h4.9v1.8h-4.9zM442.9 727h4.9v1.8h-4.9zM442.9 730h4.9v1.8h-4.9zM442.9 731.5h4.9v1.8h-4.9zM442.9 733h4.9v1.8h-4.9zM442.9 734.5h4.9v1.8h-4.9zM442.9 736h4.9v1.8h-4.9zM442.9 737.5h4.9v1.8h-4.9zM442.9 739h4.9v1.8h-4.9zM442.9 742h4.9v1.8h-4.9zM442.9 743.5h4.9v1.8h-4.9zM442.9 745h4.9v1.8h-4.9zM442.9 746.5h4.9v1.8h-4.9zM442.9 748h4.9v1.8h-4.9zM442.9 749.5h4.9v1.8h-4.9zM442.9 752.5h4.9v1.8h-4.9zM442.9 754h4.9v1.8h-4.9zM442.9 755.5h4.9v1.8h-4.9zM442.9 760h4.9v1.8h-4.9zM442.9 761.5h4.9v1.8h-4.9zM442.9 763h4.9v1.8h-4.9zM442.9 764.5h4.9v1.8h-4.9zM442.9 766h4.9v1.8h-4.9zM442.9 767.5h4.9v1.8h-4.9zM442.9 769h4.9v1.8h-4.9zM442.9 773.5h4.9v1.8h-4.9zM442.9 775h4.9v1.8h-4.9zM442.9 778h4.9v1.8h-4.9zM442.9 781h4.9v1.8h-4.9zM442.9 784h4.9v1.8h-4.9zM442.9 785.5h4.9v1.8h-4.9zM442.9 787h4.9v1.8h-4.9zM442.9 791.5h4.9v1.8h-4.9zM442.9 793h4.9v1.8h-4.9zM442.9 794.5h4.9v1.8h-4.9zM442.9 796h4.9v1.8h-4.9zM442.9 799h4.9v1.8h-4.9zM442.9 800.5h4.9v1.8h-4.9zM442.9 802h4.9v1.8h-4.9zM442.9 803.5h4.9v1.8h-4.9zM442.9 805h4.9v1.8h-4.9zM442.9 806.5h4.9v1.8h-4.9zM442.9 808h4.9v1.8h-4.9zM442.9 809.5h4.9v1.8h-4.9zM442.9 811h4.9v1.8h-4.9zM442.9 812.5h4.9v1.8h-4.9zM442.9 814h4.9v1.8h-4.9zM442.9 815.5h4.9v1.8h-4.9zM442.9 820h4.9v1.8h-4.9zM442.9 821.5h4.9v1.8h-4.9zM442.9 824.5h4.9v1.8h-4.9zM442.9 826h4.9v1.8h-4.9zM442.9 830.5h4.9v1.8h-4.9zM442.9 833.5h4.9v1.8h-4.9zM442.9 838h4.9v1.8h-4.9zM442.9 839.5h4.9v1.8h-4.9zM442.9 842.5h4.9v1.8h-4.9zM442.9 845.5h4.9v1.8h-4.9zM442.9 847h4.9v1.8h-4.9zM442.9 848.5h4.9v1.8h-4.9zM442.9 851.5h4.9v1.8h-4.9zM442.9 853h4.9v1.8h-4.9zM442.9 854.5h4.9v1.8h-4.9zM442.9 856h4.9v1.8h-4.9zM442.9 857.5h4.9v1.8h-4.9zM442.9 859h4.9v1.8h-4.9zM442.9 865h4.9v1.8h-4.9zM442.9 866.5h4.9v1.8h-4.9zM442.9 868h4.9v1h-4.9z" fill="#f8877d"/>
<path d="M442.9 491.5h4.9v1.8h-4.9zM442.9 521.5h4.9v1.8h-4.9zM442.9 527.5h4.9v1.8h-4.9zM442.9 541h4.9v1.8h-4.9zM442.9 715h4.9v1.8h-4.9zM442.9 790h4.9v1.8h-4.9z" fill="#00d4dc"/>
<path d="M442.9 493h4.9v1.8h-4.9zM442.9 499h4.9v1.8h-4.9zM442.9 511h4.9v1.8h-4.9zM442.9 518.5h4.9v1.8h-4.9zM442.9 529h4.9v1.8h-4.9zM442.9 547h4.9v1.8h-4.9zM442.9 571h4.9v1.8h-4.9zM442.9 599.5h4.9v1.8h-4.9zM442.9 644.5h4.9v1.8h-4.9zM442.9 668.5h4.9v1.8h-4.9z" fill="#e6a800"/>
<path d="M442.9 496h4.9v1.8h-4.9zM442.9 500.5h4.9v1.8h-4.9zM442.9 503.5h4.9v1.8h-4.9zM442.9 506.5h4.9v1.8h-4.9zM442.9 544h4.9v1.8h-4.9zM442.9 545.5h4.9v1.8h-4.9zM442.9 566.5h4.9v1.8h-4.9zM442.9 634h4.9v1.8h-4.9zM442.9 656.5h4.9v1.8h-4.9zM442.9 682h4.9v1.8h-4.9zM442.9 706h4.9v1.8h-4.9zM442.9 716.5h4.9v1.8h-4.9zM442.9 779.5h4.9v1.8h-4.9zM442.9 818.5h4.9v1.8h-4.9zM442.9 841h4.9v1.8h-4.9z" fill="#99cc00"/>
<path d="M442.9 497.5h4.9v1.8h-4.9zM442.9 520h4.9v1.8h-4.9zM442.9 535h4.9v1.8h-4.9zM442.9 550h4.9v1.8h-4.9zM442.9 551.5h4.9v1.8h-4.9zM442.9 653.5h4.9v1.8h-4.9zM442.9 658h4.9v1.8h-4.9zM442.9 686.5h4.9v1.8h-4.9zM442.9 698.5h4.9v1.8h-4.9zM442.9 757h4.9v1.8h-4.9zM442.9 788.5h4.9v1.8h-4.9zM442.9 817h4.9v1.8h-4.9zM442.9 850h4.9v1.8h-4.9z" fill="#da9af0"/>
<path d="M442.9 508h4.9v1.8h-4.9zM442.9 512.5h4.9v1.8h-4.9zM442.9 530.5h4.9v1.8h-4.9zM442.9 559h4.9v1.8h-4.9zM442.9 568h4.9v1.8h-4.9zM442.9 587.5h4.9v1.8h-4.9zM442.9 628h4.9v1.8h-4.9zM442.9 647.5h4.9v1.8h-4.9zM442.9 665.5h4.9v1.8h-4.9zM442.9 677.5h4.9v1.8h-4.9zM442.9 695.5h4.9v1.8h-4.9zM442.9 718h4.9v1.8h-4.9zM442.9 740.5h4.9v1.8h-4.9zM442.9 751h4.9v1.8h-4.9zM442.9 758.5h4.9v1.8h-4.9zM442.9 770.5h4.9v1.8h-4.9zM442.9 782.5h4.9v1.8h-4.9zM442.9 823h4.9v1.8h-4.9zM442.9 827.5h4.9v1.8h-4.9zM442.9 844h4.9v1.8h-4.9zM442.9 863.5h4.9v1.8h-4.9z" fill="#ff77dd"/>
<path d="M442.9 514h4.9v1.8h-4.9zM442.9 523h4.9v1.8h-4.9z" fill="#00d68a"/>
<path d="M420.8 500.5L420.8 691.7M420.8 500.5L432.9 500.5M432.9 477.4L432.9 523.3M432.9 477.4L438.4 477.4M432.9 523.3L436.2 523.3M420.8 691.7L429 691.7M429 610L429 773.3M429 610L435 610M429 773.3L434 773.3" stroke="#a0a0a0" stroke-width="0.9" fill="none"/>
<path d="M440.3 477.79L440.3 479.31M440.3 477.79L441.8 477.79M440.3 479.31L441.38 479.31M438.4 475.99L438.4 478.55M438.4 475.99L440.77 475.99M438.4 478.55L440.3 478.55M441.8 480.76L441.8 482.26M441.8 480.76L441.8 480.76M441.8 482.26L441.8 482.26M441.8 485.48L441.8 487.27M441.8 485.48L441.8 485.48M441.8 487.27L441.8 487.27M441.8 483.86L441.8 486.37M441.8 483.86L441.8 483.86M441.8 486.37L441.8 486.37M441.8 481.51L441.8 485.11M441.8 481.51L441.8 481.51M441.8 485.11L441.8 485.11M441.8 488.99L441.8 490.16M441.8 488.99L441.8 488.99M441.8 490.16L441.8 490.16M441.8 491.4L441.8 492.63M441.8 491.4L441.8 491.4M441.8 492.63L441.8 492.63M441.8 489.58L441.8 492.01M441.8 489.58L441.8 489.58M441.8 492.01L441.8 492.01M441.8 483.31L441.8 490.8M441.8 483.31L441.8 483.31M441.8 490.8L441.8 490.8M441.8 493.72L441.8 495.12M441.8 493.72L441.8 493.72M441.8 495.12L441.8 495.12M441.8 496.5L441.8 497.64M441.8 496.5L441.8 496.5M441.8 497.64L441.8 497.64M441.8 494.42L441.8 497.07M441.8 494.42L441.8 494.42M441.8 497.07L441.8 497.07M441.8 499.22L441.8 500.76M441.8 499.22L441.8 499.22M441.8 500.76L441.8 500.76M441.8 501.93L441.8 503.09M441.8 501.93L441.8 501.93M441.8 503.09L441.8 503.09M441.8 499.99L441.8 502.51M441.8 499.99L441.8 499.99M441.8 502.51L441.8 502.51M441.8 504.28L441.8 505.6M441.8 504.28L441.8 504.28M441.8 505.6L441.8 505.6M441.8 501.25L441.8 504.94M441.8 501.25L441.8 501.25M441.8 504.94L441.8 504.94M441.8 495.74L441.8 503.09M441.8 495.74L441.8 495.74M441.8 503.09L441.8 503.09M441.8 506.8L441.8 508.2M441.8 506.8L441.8 506.8M441.8 508.2L441.8 508.2M441.8 507.5L441.8 509.87M441.8 507.5L441.8 507.5M441.8 509.87L441.8 509.87M441.8 511.13L441.8 512.38M441.8 511.13L441.8 511.13M441.8 512.38L441.8 512.38M441.8 508.69L441.8 511.76M441.8 508.69L441.8 508.69M441.8 511.76L441.8 511.76M441.53 499.42L441.53 510.22M441.53 499.42L441.8 499.42M441.53 510.22L441.8 510.22M439.36 487.05L439.36 504.82M439.36 487.05L441.8 487.05M439.36 504.82L441.53 504.82M441.8 513.96L441.8 515.07M441.8 513.96L441.8 513.96M441.8 515.07L441.8 515.07M441.8 514.52L441.8 516.39M441.8 514.52L441.8 514.52M441.8 516.39L441.8 516.39M441.8 518.1L441.8 519.6M441.8 518.1L441.8 518.1M441.8 519.6L441.8 519.6M441.8 521.05L441.8 522.5M441.8 521.05L441.8 521.05M441.8 522.5L441.8 522.5M441.8 518.85L441.8 521.78M441.8 518.85L441.8 518.85M441.8 521.78L441.8 521.78M441.8 523.83L441.8 525.36M441.8 523.83L441.8 523.83M441.8 525.36L441.8 525.36M441.8 520.31L441.8 524.59M441.8 520.31L441.8 520.31M441.8 524.59L441.8 524.59M441.8 515.45L441.8 522.45M441.8 515.45L441.8 515.45M441.8 522.45L441.8 522.45M441.8 526.92L441.8 528.06M441.8 526.92L441.8 526.92M441.8 528.06L441.8 528.06M441.8 527.49L441.8 529.53M441.8 527.49L441.8 527.49M441.8 529.53L441.8 529.53M441.8 533.02L441.8 534.37M441.8 533.02L441.8 533.02M441.8 534.37L441.8 534.37M441.8 531.54L441.8 533.69M441.8 531.54L441.8 531.54M441.8 533.69L441.8 533.69M441.8 528.51L441.8 532.62M441.8 528.51L441.8 528.51M441.8 532.62L441.8 532.62M441.8 535.98L441.8 537.58M441.8 535.98L441.8 535.98M441.8 537.58L441.8 537.58M441.8 539.08L441.8 540.46M441.8 539.08L441.8 539.08M441.8 540.46L441.8 540.46M441.8 536.78L441.8 539.77M441.8 536.78L441.8 536.78M441.8 539.77L441.8 539.77M441.8 541.69L441.8 543.06M441.8 541.69L441.8 541.69M441.8 543.06L441.8 543.06M441.8 538.28L441.8 542.38M441.8 538.28L441.8 538.28M441.8 542.38L441.8 542.38M441.8 530.56L441.8 540.33M441.8 530.56L441.8 530.56M441.8 540.33L441.8 540.33M441.1 518.95L441.1 535.44M441.1 518.95L441.8 518.95M441.1 535.44L441.8 535.44M441.8 544.67L441.8 545.82M441.8 544.67L441.8 544.67M441.8 545.82L441.8 545.82M441.8 547.06L441.8 548.81M441.8 547.06L441.8 547.06M441.8 548.81L441.8 548.81M441.8 545.24L441.8 547.94M441.8 545.24L441.8 545.24M441.8 547.94L441.8 547.94M441.8 550.36L441.8 551.77M441.8 550.36L441.8 550.36M441.8 551.77L441.8 551.77M441.8 553.06L441.8 554.17M441.8 553.06L441.8 553.06M441.8 554.17L441.8 554.17M441.8 551.07L441.8 553.61M441.8 551.07L441.8 551.07M441.8 553.61L441.8 553.61M441.8 555.39L441.8 556.8M441.8 555.39L441.8 555.39M441.8 556.8L441.8 556.8M441.8 552.34L441.8 556.09M441.8 552.34L441.8 552.34M441.8 556.09L441.8 556.09M441.8 546.59L441.8 554.22M441.8 546.59L441.8 546.59M441.8 554.22L441.8 554.22M439.59 527.2L439.59 550.4M439.59 527.2L441.1 527.2M439.59 550.4L441.8 550.4M441.8 558.27L441.8 559.52M441.8 558.27L441.8 558.27M441.8 559.52L441.8 559.52M441.8 562.24L441.8 563.4M441.8 562.24L441.8 562.24M441.8 563.4L441.8 563.4M441.8 560.84L441.8 562.82M441.8 560.84L441.8 560.84M441.8 562.82L441.8 562.82M441.8 558.89L441.8 561.83M441.8 558.89L441.8 558.89M441.8 561.83L441.8 561.83M441.8 564.25L441.8 565.42M441.8 564.25L441.8 564.25M441.8 565.42L441.8 565.42M441.8 566.59L441.8 567.72M441.8 566.59L441.8 566.59M441.8 567.72L441.8 567.72M441.8 564.83L441.8 567.16M441.8 564.83L441.8 564.83M441.8 567.16L441.8 567.16M441.8 569.4L441.8 570.94M441.8 569.4L441.8 569.4M441.8 570.94L441.8 570.94M441.8 566L441.8 570.17M441.8 566L441.8 566M441.8 570.17L441.8 570.17M441.8 571.82L441.8 573.01M441.8 571.82L441.8 571.82M441.8 573.01L441.8 573.01M441.8 572.42L441.8 574.45M441.8 572.42L441.8 572.42M441.8 574.45L441.8 574.45M441.8 568.08L441.8 573.43M441.8 568.08L441.8 568.08M441.8 573.43L441.8 573.43M441.8 560.36L441.8 570.76M441.8 560.36L441.8 560.36M441.8 570.76L441.8 570.76M441.8 575.65L441.8 577.01M441.8 575.65L441.8 575.65M441.8 577.01L441.8 577.01M441.8 578.53L441.8 580.08M441.8 578.53L441.8 578.53M441.8 580.08L441.8 580.08M441.8 576.33L441.8 579.31M441.8 576.33L441.8 576.33M441.8 579.31L441.8 579.31M441.8 581.43L441.8 582.96M441.8 581.43L441.8 581.43M441.8 582.96L441.8 582.96M441.8 584.77L441.8 586.32M441.8 584.77L441.8 584.77M441.8 586.32L441.8 586.32M441.8 585.55L441.8 587.96M441.8 585.55L441.8 585.55M441.8 587.96L441.8 587.96M441.8 582.19L441.8 586.75M441.8 582.19L441.8 582.19M441.8 586.75L441.8 586.75M441.8 577.82L441.8 584.47M441.8 577.82L441.8 577.82M441.8 584.47L441.8 584.47M441.08 565.56L441.08 581.15M441.08 565.56L441.8 565.56M441.08 581.15L441.8 581.15M437.8 538.8L437.8 573.35M437.8 538.8L439.59 538.8M437.8 573.35L441.08 573.35M436.2 495.94L436.2 556.08M436.2 495.94L439.36 495.94M436.2 556.08L437.8 556.08M440.22 589.74L440.22 591.04M440.22 589.74L440.98 589.74M440.22 591.04L441.73 591.04M441.8 594.34L441.8 595.73M441.8 594.34L441.8 594.34M441.8 595.73L441.8 595.73M441.8 592.54L441.8 595.04M441.8 592.54L441.8 592.54M441.8 595.04L441.8 595.04M439.5 590.39L439.5 593.79M439.5 590.39L440.22 590.39M439.5 593.79L441.8 593.79M441.8 598.09L441.8 599.22M441.8 598.09L441.8 598.09M441.8 599.22L441.8 599.22M441.8 596.91L441.8 598.66M441.8 596.91L441.8 596.91M441.8 598.66L441.8 598.66M441.8 600.71L441.8 602.27M441.8 600.71L441.8 600.71M441.8 602.27L441.8 602.27M440.82 597.78L440.82 601.49M440.82 597.78L441.8 597.78M440.82 601.49L441.8 601.49M441.8 603.31L441.8 604.44M441.8 603.31L441.8 603.31M441.8 604.44L441.8 604.44M441.8 605.55L441.8 606.84M441.8 605.55L441.8 605.55M441.8 606.84L441.8 606.84M441.8 603.88L441.8 606.19M441.8 603.88L441.8 603.88M441.8 606.19L441.8 606.19M441.8 608.32L441.8 609.6M441.8 608.32L441.8 608.32M441.8 609.6L441.8 609.6M441.8 608.96L441.8 610.92M441.8 608.96L441.8 608.96M441.8 610.92L441.8 610.92M441.8 609.94L441.8 612.61M441.8 609.94L441.8 609.94M441.8 612.61L441.8 612.61M440.45 605.03L440.45 611.28M440.45 605.03L441.8 605.03M440.45 611.28L441.8 611.28M439.63 599.63L439.63 608.15M439.63 599.63L440.82 599.63M439.63 608.15L440.45 608.15M438.8 592.09L438.8 603.89M438.8 592.09L439.5 592.09M438.8 603.89L439.63 603.89M441.8 614.19L441.8 615.72M441.8 614.19L441.8 614.19M441.8 615.72L441.8 615.72M441.8 620.58L441.8 621.81M441.8 620.58L441.8 620.58M441.8 621.81L441.8 621.81M441.8 619.43L441.8 621.2M441.8 619.43L441.8 619.43M441.8 621.2L441.8 621.2M441.8 617.7L441.8 620.31M441.8 617.7L441.8 617.7M441.8 620.31L441.8 620.31M441.8 614.96L441.8 619.01M441.8 614.96L441.8 614.96M441.8 619.01L441.8 619.01M441.8 623.29L441.8 624.64M441.8 623.29L441.8 623.29M441.8 624.64L441.8 624.64M441.8 623.97L441.8 626.13M441.8 623.97L441.8 623.97M441.8 626.13L441.8 626.13M441.8 627.71L441.8 628.96M441.8 627.71L441.8 627.71M441.8 628.96L441.8 628.96M441.8 625.05L441.8 628.34M441.8 625.05L441.8 625.05M441.8 628.34L441.8 628.34M441.8 616.98L441.8 626.69M441.8 616.98L441.8 616.98M441.8 626.69L441.8 626.69M441.8 632.4L441.8 633.98M441.8 632.4L441.8 632.4M441.8 633.98L441.8 633.98M441.8 630.5L441.8 633.19M441.8 630.5L441.8 630.5M441.8 633.19L441.8 633.19M441.8 635.42L441.8 636.98M441.8 635.42L441.8 635.42M441.8 636.98L441.8 636.98M441.8 638.29L441.8 639.61M441.8 638.29L441.8 638.29M441.8 639.61L441.8 639.61M441.8 638.95L441.8 641.05M441.8 638.95L441.8 638.95M441.8 641.05L441.8 641.05M441.8 636.2L441.8 640M441.8 636.2L441.8 636.2M441.8 640L441.8 640M441.65 631.85L441.65 638.1M441.65 631.85L441.8 631.85M441.65 638.1L441.8 638.1M439.62 621.84L439.62 634.97M439.62 621.84L441.8 621.84M439.62 634.97L441.65 634.97M436.63 597.99L436.63 628.41M436.63 597.99L438.8 597.99M436.63 628.41L439.62 628.41M441.8 643.9L441.8 645.2M441.8 643.9L441.8 643.9M441.8 645.2L441.8 645.2M441.8 642.42L441.8 644.55M441.8 642.42L441.8 642.42M441.8 644.55L441.8 644.55M441.8 646.48L441.8 647.64M441.8 646.48L441.8 646.48M441.8 647.64L441.8 647.64M441.8 647.06L441.8 648.99M441.8 647.06L441.8 647.06M441.8 648.99L441.8 648.99M441.8 643.48L441.8 648.02M441.8 643.48L441.8 643.48M441.8 648.02L441.8 648.02M441.8 650.33L441.8 651.65M441.8 650.33L441.8 650.33M441.8 651.65L441.8 651.65M441.8 653.38L441.8 655.18M441.8 653.38L441.8 653.38M441.8 655.18L441.8 655.18M441.8 656.83L441.8 657.98M441.8 656.83L441.8 656.83M441.8 657.98L441.8 657.98M441.8 654.28L441.8 657.4M441.8 654.28L441.8 654.28M441.8 657.4L441.8 657.4M441.8 650.99L441.8 655.84M441.8 650.99L441.8 650.99M441.8 655.84L441.8 655.84M441.8 659.25L441.8 661.09M441.8 659.25L441.8 659.25M441.8 661.09L441.8 661.09M441.8 663.01L441.8 664.9M441.8 663.01L441.8 663.01M441.8 664.9L441.8 664.9M441.8 660.17L441.8 663.95M441.8 660.17L441.8 660.17M441.8 663.95L441.8 663.95M441.8 653.42L441.8 662.06M441.8 653.42L441.8 653.42M441.8 662.06L441.8 662.06M441.8 645.75L441.8 657.74M441.8 645.75L441.8 645.75M441.8 657.74L441.8 657.74M441.8 666.82L441.8 668.28M441.8 666.82L441.8 666.82M441.8 668.28L441.8 668.28M441.8 669.63L441.8 671.03M441.8 669.63L441.8 669.63M441.8 671.03L441.8 671.03M441.8 670.33L441.8 672.36M441.8 670.33L441.8 670.33M441.8 672.36L441.8 672.36M441.8 667.55L441.8 671.34M441.8 667.55L441.8 667.55M441.8 671.34L441.8 671.34M441.8 673.81L441.8 675.1M441.8 673.81L441.8 673.81M441.8 675.1L441.8 675.1M441.8 674.45L441.8 676.44M441.8 674.45L441.8 674.45M441.8 676.44L441.8 676.44M441.8 669.45L441.8 675.45M441.8 669.45L441.8 669.45M441.8 675.45L441.8 675.45M441.8 677.84L441.8 679.57M441.8 677.84L441.8 677.84M441.8 679.57L441.8 679.57M441.8 683.19L441.8 684.41M441.8 683.19L441.8 683.19M441.8 684.41L441.8 684.41M441.8 681.66L441.8 683.8M441.8 681.66L441.8 681.66M441.8 683.8L441.8 683.8M441.8 678.71L441.8 682.73M441.8 678.71L441.8 678.71M441.8 682.73L441.8 682.73M440.49 672.45L440.49 680.72M440.49 672.45L441.8 672.45M440.49 680.72L441.8 680.72M439.62 651.75L439.62 676.58M439.62 651.75L441.8 651.75M439.62 676.58L440.49 676.58M441.8 685.9L441.8 687.38M441.8 685.9L441.8 685.9M441.8 687.38L441.8 687.38M441.8 686.64L441.8 689.08M441.8 686.64L441.8 686.64M441.8 689.08L441.8 689.08M441.8 690.91L441.8 692.84M441.8 690.91L441.8 690.91M441.8 692.84L441.8 692.84M441.8 687.86L441.8 691.87M441.8 687.86L441.8 687.86M441.8 691.87L441.8 691.87M441.8 694.75L441.8 696.27M441.8 694.75L441.8 694.75M441.8 696.27L441.8 696.27M441.8 697.73L441.8 699.09M441.8 697.73L441.8 697.73M441.8 699.09L441.8 699.09M441.8 695.51L441.8 698.41M441.8 695.51L441.8 695.51M441.8 698.41L441.8 698.41M441.8 689.87L441.8 696.96M441.8 689.87L441.8 689.87M441.8 696.96L441.8 696.96M441.8 700.36L441.8 701.6M441.8 700.36L441.8 700.36M441.8 701.6L441.8 701.6M441.8 704.72L441.8 705.88M441.8 704.72L441.8 704.72M441.8 705.88L441.8 705.88M441.8 703.26L441.8 705.3M441.8 703.26L441.8 703.26M441.8 705.3L441.8 705.3M441.8 700.98L441.8 704.28M441.8 700.98L441.8 700.98M441.8 704.28L441.8 704.28M441.77 693.41L441.77 702.63M441.77 693.41L441.8 693.41M441.77 702.63L441.8 702.63M441.8 707.03L441.8 708.23M441.8 707.03L441.8 707.03M441.8 708.23L441.8 708.23M441.8 710.1L441.8 711.84M441.8 710.1L441.8 710.1M441.8 711.84L441.8 711.84M441.8 707.63L441.8 710.97M441.8 707.63L441.8 707.63M441.8 710.97L441.8 710.97M441.8 713.08L441.8 714.34M441.8 713.08L441.8 713.08M441.8 714.34L441.8 714.34M441.8 715.65L441.8 717.13M441.8 715.65L441.8 715.65M441.8 717.13L441.8 717.13M441.55 713.71L441.55 716.39M441.55 713.71L441.8 713.71M441.55 716.39L441.8 716.39M440.3 709.3L440.3 715.05M440.3 709.3L441.8 709.3M440.3 715.05L441.55 715.05M439.53 698.02L439.53 712.18M439.53 698.02L441.77 698.02M439.53 712.18L440.3 712.18M437.32 664.16L437.32 705.1M437.32 664.16L439.62 664.16M437.32 705.1L439.53 705.1M435 613.2L435 684.63M435 613.2L436.63 613.2M435 684.63L437.32 684.63M441.8 720.33L441.8 721.52M441.8 720.33L441.8 720.33M441.8 721.52L441.8 721.52M441.8 718.79L441.8 720.93M441.8 718.79L441.8 718.79M441.8 720.93L441.8 720.93M441.8 722.84L441.8 724.74M441.8 722.84L441.8 722.84M441.8 724.74L441.8 724.74M441.8 719.86L441.8 723.79M441.8 719.86L441.8 719.86M441.8 723.79L441.8 723.79M441.8 726.65L441.8 728.27M441.8 726.65L441.8 726.65M441.8 728.27L441.8 728.27M441.8 729.7L441.8 731.06M441.8 729.7L441.8 729.7M441.8 731.06L441.8 731.06M441.8 730.38L441.8 732.6M441.8 730.38L441.8 730.38M441.8 732.6L441.8 732.6M441.8 727.46L441.8 731.49M441.8 727.46L441.8 727.46M441.8 731.49L441.8 731.49M441.8 734.36L441.8 735.95M441.8 734.36L441.8 734.36M441.8 735.95L441.8 735.95M441.8 737.69L441.8 739.21M441.8 737.69L441.8 737.69M441.8 739.21L441.8 739.21M441.8 735.16L441.8 738.45M441.8 735.16L441.8 735.16M441.8 738.45L441.8 738.45M441.78 729.47L441.78 736.8M441.78 729.47L441.8 729.47M441.78 736.8L441.8 736.8M440.84 721.82L440.84 733.14M440.84 721.82L441.8 721.82M440.84 733.14L441.78 733.14M441.8 740.6L441.8 742.37M441.8 740.6L441.8 740.6M441.8 742.37L441.8 742.37M441.8 744.15L441.8 745.59M441.8 744.15L441.8 744.15M441.8 745.59L441.8 745.59M441.8 744.87L441.8 746.89M441.8 744.87L441.8 744.87M441.8 746.89L441.8 746.89M441.8 741.48L441.8 745.88M441.8 741.48L441.8 741.48M441.8 745.88L441.8 745.88M441.8 748.57L441.8 750.03M441.8 748.57L441.8 748.57M441.8 750.03L441.8 750.03M441.25 749.3L441.25 751.6M441.25 749.3L441.8 749.3M441.25 751.6L441.8 751.6M440.55 743.68L440.55 750.45M440.55 743.68L441.8 743.68M440.55 750.45L441.25 750.45M438.89 727.48L438.89 747.07M438.89 727.48L440.84 727.48M438.89 747.07L440.55 747.07M441.8 753.66L441.8 755.44M441.8 753.66L441.8 753.66M441.8 755.44L441.8 755.44M441.8 757.18L441.8 758.8M441.8 757.18L441.8 757.18M441.8 758.8L441.8 758.8M441.8 760.3L441.8 761.58M441.8 760.3L441.8 760.3M441.8 761.58L441.8 761.58M441.8 757.99L441.8 760.94M441.8 757.99L441.8 757.99M441.8 760.94L441.8 760.94M441.8 754.55L441.8 759.46M441.8 754.55L441.8 754.55M441.8 759.46L441.8 759.46M441.8 762.97L441.8 764.54M441.8 762.97L441.8 762.97M441.8 764.54L441.8 764.54M441.8 767.71L441.8 769.23M441.8 767.71L441.8 767.71M441.8 769.23L441.8 769.23M441.8 766.07L441.8 768.47M441.8 766.07L441.8 766.07M441.8 768.47L441.8 768.47M441.8 763.76L441.8 767.27M441.8 763.76L441.8 763.76M441.8 767.27L441.8 767.27M441.8 771.69L441.8 772.84M441.8 771.69L441.8 771.69M441.8 772.84L441.8 772.84M441.8 770.61L441.8 772.26M441.8 770.61L441.8 770.61M441.8 772.26L441.8 772.26M441.8 774.48L441.8 775.98M441.8 774.48L441.8 774.48M441.8 775.98L441.8 775.98M441.8 777.31L441.8 779.05M441.8 777.31L441.8 777.31M441.8 779.05L441.8 779.05M441.8 775.23L441.8 778.18M441.8 775.23L441.8 775.23M441.8 778.18L441.8 778.18M441.8 771.43L441.8 776.71M441.8 771.43L441.8 771.43M441.8 776.71L441.8 776.71M441.8 765.51L441.8 774.07M441.8 765.51L441.8 765.51M441.8 774.07L441.8 774.07M441.73 757.01L441.73 769.79M441.73 757.01L441.8 757.01M441.73 769.79L441.8 769.79M441.8 782.1L441.8 783.24M441.8 782.1L441.8 782.1M441.8 783.24L441.8 783.24M441.8 780.71L441.8 782.67M441.8 780.71L441.8 780.71M441.8 782.67L441.8 782.67M441.8 784.1L441.8 785.26M441.8 784.1L441.8 784.1M441.8 785.26L441.8 785.26M441.8 784.68L441.8 786.92M441.8 784.68L441.8 784.68M441.8 786.92L441.8 786.92M441.8 781.69L441.8 785.8M441.8 781.69L441.8 781.69M441.8 785.8L441.8 785.8M441.8 790.74L441.8 792.45M441.8 790.74L441.8 790.74M441.8 792.45L441.8 792.45M441.8 788.78L441.8 791.59M441.8 788.78L441.8 788.78M441.8 791.59L441.8 791.59M441.8 783.74L441.8 790.19M441.8 783.74L441.8 783.74M441.8 790.19L441.8 790.19M441.8 793.75L441.8 795.4M441.8 793.75L441.8 793.75M441.8 795.4L441.8 795.4M441.8 798.9L441.8 800.37M441.8 798.9L441.8 798.9M441.8 800.37L441.8 800.37M441.8 797.27L441.8 799.63M441.8 797.27L441.8 797.27M441.8 799.63L441.8 799.63M441.8 794.57L441.8 798.45M441.8 794.57L441.8 794.57M441.8 798.45L441.8 798.45M441.8 801.61L441.8 802.77M441.8 801.61L441.8 801.61M441.8 802.77L441.8 802.77M441.8 802.19L441.8 804.11M441.8 802.19L441.8 802.19M441.8 804.11L441.8 804.11M441.8 796.51L441.8 803.15M441.8 796.51L441.8 796.51M441.8 803.15L441.8 803.15M441.8 805.5L441.8 806.73M441.8 805.5L441.8 805.5M441.8 806.73L441.8 806.73M441.8 808.18L441.8 809.59M441.8 808.18L441.8 808.18M441.8 809.59L441.8 809.59M441.8 806.12L441.8 808.88M441.8 806.12L441.8 806.12M441.8 808.88L441.8 808.88M441.8 799.83L441.8 807.5M441.8 799.83L441.8 799.83M441.8 807.5L441.8 807.5M441.24 786.96L441.24 803.67M441.24 786.96L441.8 786.96M441.24 803.67L441.8 803.67M439.77 763.4L439.77 795.32M439.77 763.4L441.73 763.4M439.77 795.32L441.24 795.32M436.86 737.27L436.86 779.36M436.86 737.27L438.89 737.27M436.86 779.36L439.77 779.36M441.8 810.96L441.8 812.17M441.8 810.96L441.8 810.96M441.8 812.17L441.8 812.17M441.8 811.57L441.8 813.23M441.8 811.57L441.8 811.57M441.8 813.23L441.8 813.23M441.8 814.74L441.8 816.01M441.8 814.74L441.8 814.74M441.8 816.01L441.8 816.01M441.8 816.96L441.8 818.52M441.8 816.96L441.8 816.96M441.8 818.52L441.8 818.52M441.8 815.38L441.8 817.74M441.8 815.38L441.8 815.38M441.8 817.74L441.8 817.74M440.07 812.4L440.07 816.56M440.07 812.4L441.8 812.4M440.07 816.56L441.8 816.56M439.72 820.23L439.72 821.45M439.72 820.23L441.37 820.23M439.72 821.45L440.34 821.45M440.9 824.05L440.9 825.18M440.9 824.05L441.8 824.05M440.9 825.18L441.8 825.18M439.91 822.72L439.91 824.61M439.91 822.72L441.8 822.72M439.91 824.61L440.9 824.61M439.03 820.84L439.03 823.67M439.03 820.84L439.72 820.84M439.03 823.67L439.91 823.67M438.26 814.48L438.26 822.26M438.26 814.48L440.07 814.48M438.26 822.26L439.03 822.26M441.8 826.43L441.8 827.55M441.8 826.43L441.8 826.43M441.8 827.55L441.8 827.55M441.8 828.4L441.8 829.68M441.8 828.4L441.8 828.4M441.8 829.68L441.8 829.68M441.8 829.04L441.8 831.13M441.8 829.04L441.8 829.04M441.8 831.13L441.8 831.13M441.07 826.99L441.07 830.08M441.07 826.99L441.8 826.99M441.07 830.08L441.8 830.08M441.8 832.68L441.8 834.28M441.8 832.68L441.8 832.68M441.8 834.28L441.8 834.28M440.62 833.48L440.62 835.85M440.62 833.48L441.8 833.48M440.62 835.85L441.8 835.85M439.05 828.54L439.05 834.67M439.05 828.54L441.07 828.54M439.05 834.67L440.62 834.67M437.61 818.37L437.61 831.6M437.61 818.37L438.26 818.37M437.61 831.6L439.05 831.6M441.8 837.39L441.8 838.63M441.8 837.39L441.8 837.39M441.8 838.63L441.8 838.63M441.36 838.01L441.36 840.12M441.36 838.01L441.8 838.01M441.36 840.12L441.8 840.12M441.8 842.06L441.8 844.07M441.8 842.06L441.8 842.06M441.8 844.07L441.8 844.07M441.8 845.95L441.8 847.32M441.8 845.95L441.8 845.95M441.8 847.32L441.8 847.32M441.22 843.07L441.22 846.64M441.22 843.07L441.8 843.07M441.22 846.64L441.8 846.64M439.79 839.06L439.79 844.85M439.79 839.06L441.36 839.06M439.79 844.85L441.22 844.85M441.8 850.83L441.8 852.25M441.8 850.83L441.8 850.83M441.8 852.25L441.8 852.25M441.08 851.54L441.08 853.37M441.08 851.54L441.8 851.54M441.08 853.37L441.8 853.37M440.18 848.79L440.18 852.45M440.18 848.79L441.18 848.79M440.18 852.45L441.08 852.45M438.12 841.96L438.12 850.62M438.12 841.96L439.79 841.96M438.12 850.62L440.18 850.62M441.8 855.07L441.8 856.59M441.8 855.07L441.8 855.07M441.8 856.59L441.8 856.59M441.18 855.83L441.18 858.06M441.18 855.83L441.8 855.83M441.18 858.06L441.8 858.06M440.34 859.51L440.34 860.79M440.34 859.51L441.11 859.51M440.34 860.79L441.8 860.79M438.87 856.95L438.87 860.15M438.87 856.95L441.18 856.95M438.87 860.15L440.34 860.15M441.36 862.06L441.36 863.54M441.36 862.06L441.8 862.06M441.36 863.54L441.8 863.54M441.57 865.54L441.57 867.61M441.57 865.54L441.8 865.54M441.57 867.61L441.8 867.61M439.82 862.8L439.82 866.57M439.82 862.8L441.36 862.8M439.82 866.57L441.57 866.57M437.51 858.55L437.51 864.69M437.51 858.55L438.87 858.55M437.51 864.69L439.82 864.69M436.71 846.29L436.71 861.62M436.71 846.29L438.12 846.29M436.71 861.62L437.51 861.62M435.4 824.98L435.4 853.95M435.4 824.98L437.61 824.98M435.4 853.95L436.71 853.95M434 758.32L434 839.47M434 758.32L436.86 758.32M434 839.47L435.4 839.47" stroke="#444" stroke-width="0.6" fill="none"/>
<defs><linearGradient id="cb" x1="0" y1="1" x2="0" y2="0"><stop offset="0" stop-color="#4575b4"/><stop offset="0.17" stop-color="#91bfdb"/><stop offset="0.33" stop-color="#e0f3f8"/><stop offset="0.5" stop-color="#ffffbf"/><stop offset="0.67" stop-color="#fee090"/><stop offset="0.83" stop-color="#fc8d59"/><stop offset="1" stop-color="#d73027"/></linearGradient></defs>
<rect x="624" y="475.2" width="4.1" height="61.4" fill="url(#cb)"/>
<text x="629.6" y="473.6" font-size="4.9" fill="#333">Methylation</text>
<text x="630" y="489.2" font-size="5.3" fill="#555">0.8</text>
<text x="630" y="502" font-size="5.3" fill="#555">0.6</text>
<text x="630" y="514.8" font-size="5.3" fill="#555">0.4</text>
<text x="630" y="527.6" font-size="5.3" fill="#555">0.2</text>
<text x="662.6" y="479.2" font-size="5.3" font-weight="bold" fill="#222">Class</text>
<rect x="662.2" y="480.7" width="7.3" height="7" fill="#00bfff"/>
<text x="670.8" y="486.1" font-size="5.3" fill="#333">ERV1</text>
<rect x="662.2" y="487.7" width="7.3" height="7" fill="#f8877d"/>
<text x="670.8" y="493.1" font-size="5.3" fill="#333">ERV2</text>
<rect x="662.2" y="494.7" width="7.3" height="7" fill="#da9af0"/>
<text x="670.8" y="500.1" font-size="5.3" fill="#333">ERV3</text>
<rect x="662.2" y="501.7" width="7.3" height="7" fill="#99cc00"/>
<text x="670.8" y="507.1" font-size="5.3" fill="#333">LINE1</text>
<rect x="662.2" y="508.7" width="7.3" height="7" fill="#ff77dd"/>
<text x="670.8" y="514.1" font-size="5.3" fill="#333">LTR</text>
<rect x="662.2" y="515.7" width="7.3" height="7" fill="#00d4dc"/>
<text x="670.8" y="521.1" font-size="5.3" fill="#333">Retro</text>
<rect x="662.2" y="522.7" width="7.3" height="7" fill="#e6a800"/>
<text x="670.8" y="528.1" font-size="5.3" fill="#333">SAT</text>
<rect x="662.2" y="529.7" width="7.3" height="7" fill="#00d68a"/>
<text x="670.8" y="535.1" font-size="5.3" fill="#333">SINE2</text>
<text x="454.6" y="870.7" font-size="4.9" fill="#333" transform="rotate(90 454.6 870.7)">Ctrl</text>
<text x="469" y="870.7" font-size="4.9" fill="#333" transform="rotate(90 469 870.7)">Ctrl</text>
<text x="483.4" y="870.7" font-size="4.9" fill="#333" transform="rotate(90 483.4 870.7)">Ctrl</text>
<text x="497.8" y="870.7" font-size="4.9" fill="#333" transform="rotate(90 497.8 870.7)">DSS</text>
<text x="512.2" y="870.7" font-size="4.9" fill="#333" transform="rotate(90 512.2 870.7)">DSS</text>
<text x="526.6" y="870.7" font-size="4.9" fill="#333" transform="rotate(90 526.6 870.7)">DSS</text>
<text x="541" y="870.7" font-size="4.9" fill="#333" transform="rotate(90 541 870.7)">5-AZA</text>
<text x="555.4" y="870.7" font-size="4.9" fill="#333" transform="rotate(90 555.4 870.7)">5-AZA</text>
<text x="569.8" y="870.7" font-size="4.9" fill="#333" transform="rotate(90 569.8 870.7)">5-AZA</text>
<text x="584.2" y="870.7" font-size="4.9" fill="#333" transform="rotate(90 584.2 870.7)">5-AZA+DSS</text>
<text x="598.6" y="870.7" font-size="4.9" fill="#333" transform="rotate(90 598.6 870.7)">5-AZA+DSS</text>
<text x="613" y="870.7" font-size="4.9" fill="#333" transform="rotate(90 613 870.7)">5-AZA+DSS</text>
<text x="443.5" y="870.7" font-size="4.9" font-weight="bold" fill="#333" transform="rotate(90 443.5 870.7)">Class</text>
</svg>
</body></html>
